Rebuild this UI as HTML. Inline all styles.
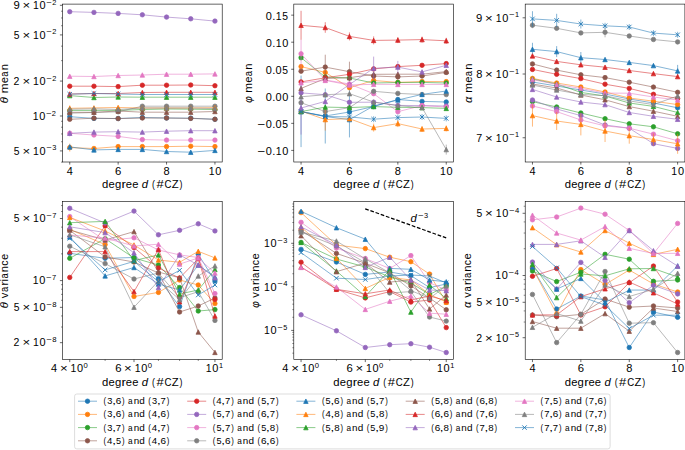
<!DOCTYPE html><html><head><meta charset="utf-8"><style>html,body{margin:0;padding:0;background:#fff;}svg{display:block;}</style></head><body><svg width="685" height="450" viewBox="0 0 685 450" font-family='"Liberation Sans", sans-serif'>
<rect width="685" height="450" fill="#fff"/>
<g>
<polyline points="69.76,116.70 93.96,118.40 118.15,118.50 142.35,117.50 166.55,118.00 190.74,118.20 214.94,119.30" fill="none" stroke="#1f77b4" stroke-width="1.0" stroke-opacity="0.55" stroke-linejoin="round"/>
<circle cx="69.76" cy="116.70" r="2.23" fill="#1f77b4" stroke="#1f77b4" stroke-width="0.74"/>
<circle cx="93.96" cy="118.40" r="2.23" fill="#1f77b4" stroke="#1f77b4" stroke-width="0.74"/>
<circle cx="118.15" cy="118.50" r="2.23" fill="#1f77b4" stroke="#1f77b4" stroke-width="0.74"/>
<circle cx="142.35" cy="117.50" r="2.23" fill="#1f77b4" stroke="#1f77b4" stroke-width="0.74"/>
<circle cx="166.55" cy="118.00" r="2.23" fill="#1f77b4" stroke="#1f77b4" stroke-width="0.74"/>
<circle cx="190.74" cy="118.20" r="2.23" fill="#1f77b4" stroke="#1f77b4" stroke-width="0.74"/>
<circle cx="214.94" cy="119.30" r="2.23" fill="#1f77b4" stroke="#1f77b4" stroke-width="0.74"/>
<polyline points="69.76,147.60 93.96,148.50 118.15,146.60 142.35,146.60 166.55,146.60 190.74,146.20 214.94,146.60" fill="none" stroke="#ff7f0e" stroke-width="1.0" stroke-opacity="0.55" stroke-linejoin="round"/>
<line x1="69.76" y1="143.60" x2="69.76" y2="151.60" stroke="#ff7f0e" stroke-width="1.0" stroke-opacity="0.55"/>
<circle cx="69.76" cy="147.60" r="2.23" fill="#ff7f0e" stroke="#ff7f0e" stroke-width="0.74"/>
<circle cx="93.96" cy="148.50" r="2.23" fill="#ff7f0e" stroke="#ff7f0e" stroke-width="0.74"/>
<circle cx="118.15" cy="146.60" r="2.23" fill="#ff7f0e" stroke="#ff7f0e" stroke-width="0.74"/>
<circle cx="142.35" cy="146.60" r="2.23" fill="#ff7f0e" stroke="#ff7f0e" stroke-width="0.74"/>
<circle cx="166.55" cy="146.60" r="2.23" fill="#ff7f0e" stroke="#ff7f0e" stroke-width="0.74"/>
<circle cx="190.74" cy="146.20" r="2.23" fill="#ff7f0e" stroke="#ff7f0e" stroke-width="0.74"/>
<circle cx="214.94" cy="146.60" r="2.23" fill="#ff7f0e" stroke="#ff7f0e" stroke-width="0.74"/>
<polyline points="69.76,110.40 93.96,110.40 118.15,110.40 142.35,109.50 166.55,109.00 190.74,109.20 214.94,109.50" fill="none" stroke="#2ca02c" stroke-width="1.0" stroke-opacity="0.55" stroke-linejoin="round"/>
<circle cx="69.76" cy="110.40" r="2.23" fill="#2ca02c" stroke="#2ca02c" stroke-width="0.74"/>
<circle cx="93.96" cy="110.40" r="2.23" fill="#2ca02c" stroke="#2ca02c" stroke-width="0.74"/>
<circle cx="118.15" cy="110.40" r="2.23" fill="#2ca02c" stroke="#2ca02c" stroke-width="0.74"/>
<circle cx="142.35" cy="109.50" r="2.23" fill="#2ca02c" stroke="#2ca02c" stroke-width="0.74"/>
<circle cx="166.55" cy="109.00" r="2.23" fill="#2ca02c" stroke="#2ca02c" stroke-width="0.74"/>
<circle cx="190.74" cy="109.20" r="2.23" fill="#2ca02c" stroke="#2ca02c" stroke-width="0.74"/>
<circle cx="214.94" cy="109.50" r="2.23" fill="#2ca02c" stroke="#2ca02c" stroke-width="0.74"/>
<polyline points="69.76,119.30 93.96,118.20 118.15,118.60 142.35,118.00 166.55,118.00 190.74,118.40 214.94,119.30" fill="none" stroke="#8c564b" stroke-width="1.0" stroke-opacity="0.55" stroke-linejoin="round"/>
<circle cx="69.76" cy="119.30" r="2.23" fill="#8c564b" stroke="#8c564b" stroke-width="0.74"/>
<circle cx="93.96" cy="118.20" r="2.23" fill="#8c564b" stroke="#8c564b" stroke-width="0.74"/>
<circle cx="118.15" cy="118.60" r="2.23" fill="#8c564b" stroke="#8c564b" stroke-width="0.74"/>
<circle cx="142.35" cy="118.00" r="2.23" fill="#8c564b" stroke="#8c564b" stroke-width="0.74"/>
<circle cx="166.55" cy="118.00" r="2.23" fill="#8c564b" stroke="#8c564b" stroke-width="0.74"/>
<circle cx="190.74" cy="118.40" r="2.23" fill="#8c564b" stroke="#8c564b" stroke-width="0.74"/>
<circle cx="214.94" cy="119.30" r="2.23" fill="#8c564b" stroke="#8c564b" stroke-width="0.74"/>
<polyline points="69.76,86.20 93.96,86.20 118.15,86.60 142.35,85.20 166.55,85.20 190.74,85.00 214.94,85.70" fill="none" stroke="#d62728" stroke-width="1.0" stroke-opacity="0.55" stroke-linejoin="round"/>
<circle cx="69.76" cy="86.20" r="2.23" fill="#d62728" stroke="#d62728" stroke-width="0.74"/>
<circle cx="93.96" cy="86.20" r="2.23" fill="#d62728" stroke="#d62728" stroke-width="0.74"/>
<circle cx="118.15" cy="86.60" r="2.23" fill="#d62728" stroke="#d62728" stroke-width="0.74"/>
<circle cx="142.35" cy="85.20" r="2.23" fill="#d62728" stroke="#d62728" stroke-width="0.74"/>
<circle cx="166.55" cy="85.20" r="2.23" fill="#d62728" stroke="#d62728" stroke-width="0.74"/>
<circle cx="190.74" cy="85.00" r="2.23" fill="#d62728" stroke="#d62728" stroke-width="0.74"/>
<circle cx="214.94" cy="85.70" r="2.23" fill="#d62728" stroke="#d62728" stroke-width="0.74"/>
<polyline points="69.76,11.70 93.96,12.40 118.15,13.40 142.35,14.80 166.55,17.10 190.74,18.80 214.94,21.10" fill="none" stroke="#9467bd" stroke-width="1.0" stroke-opacity="0.55" stroke-linejoin="round"/>
<circle cx="69.76" cy="11.70" r="2.23" fill="#9467bd" stroke="#9467bd" stroke-width="0.74"/>
<circle cx="93.96" cy="12.40" r="2.23" fill="#9467bd" stroke="#9467bd" stroke-width="0.74"/>
<circle cx="118.15" cy="13.40" r="2.23" fill="#9467bd" stroke="#9467bd" stroke-width="0.74"/>
<circle cx="142.35" cy="14.80" r="2.23" fill="#9467bd" stroke="#9467bd" stroke-width="0.74"/>
<circle cx="166.55" cy="17.10" r="2.23" fill="#9467bd" stroke="#9467bd" stroke-width="0.74"/>
<circle cx="190.74" cy="18.80" r="2.23" fill="#9467bd" stroke="#9467bd" stroke-width="0.74"/>
<circle cx="214.94" cy="21.10" r="2.23" fill="#9467bd" stroke="#9467bd" stroke-width="0.74"/>
<polyline points="69.76,133.30 93.96,135.00 118.15,136.40 142.35,139.60 166.55,140.10 190.74,140.10 214.94,140.10" fill="none" stroke="#e377c2" stroke-width="1.0" stroke-opacity="0.55" stroke-linejoin="round"/>
<circle cx="69.76" cy="133.30" r="2.23" fill="#e377c2" stroke="#e377c2" stroke-width="0.74"/>
<circle cx="93.96" cy="135.00" r="2.23" fill="#e377c2" stroke="#e377c2" stroke-width="0.74"/>
<circle cx="118.15" cy="136.40" r="2.23" fill="#e377c2" stroke="#e377c2" stroke-width="0.74"/>
<circle cx="142.35" cy="139.60" r="2.23" fill="#e377c2" stroke="#e377c2" stroke-width="0.74"/>
<circle cx="166.55" cy="140.10" r="2.23" fill="#e377c2" stroke="#e377c2" stroke-width="0.74"/>
<circle cx="190.74" cy="140.10" r="2.23" fill="#e377c2" stroke="#e377c2" stroke-width="0.74"/>
<circle cx="214.94" cy="140.10" r="2.23" fill="#e377c2" stroke="#e377c2" stroke-width="0.74"/>
<polyline points="69.76,113.20 93.96,112.50 118.15,111.80 142.35,106.20 166.55,106.20 190.74,106.20 214.94,106.20" fill="none" stroke="#7f7f7f" stroke-width="1.0" stroke-opacity="0.55" stroke-linejoin="round"/>
<circle cx="69.76" cy="113.20" r="2.23" fill="#7f7f7f" stroke="#7f7f7f" stroke-width="0.74"/>
<circle cx="93.96" cy="112.50" r="2.23" fill="#7f7f7f" stroke="#7f7f7f" stroke-width="0.74"/>
<circle cx="118.15" cy="111.80" r="2.23" fill="#7f7f7f" stroke="#7f7f7f" stroke-width="0.74"/>
<circle cx="142.35" cy="106.20" r="2.23" fill="#7f7f7f" stroke="#7f7f7f" stroke-width="0.74"/>
<circle cx="166.55" cy="106.20" r="2.23" fill="#7f7f7f" stroke="#7f7f7f" stroke-width="0.74"/>
<circle cx="190.74" cy="106.20" r="2.23" fill="#7f7f7f" stroke="#7f7f7f" stroke-width="0.74"/>
<circle cx="214.94" cy="106.20" r="2.23" fill="#7f7f7f" stroke="#7f7f7f" stroke-width="0.74"/>
<polyline points="69.76,146.90 93.96,149.90 118.15,149.40 142.35,149.40 166.55,151.50 190.74,152.20 214.94,150.40" fill="none" stroke="#1f77b4" stroke-width="1.0" stroke-opacity="0.55" stroke-linejoin="round"/>
<line x1="69.76" y1="144.90" x2="69.76" y2="148.90" stroke="#1f77b4" stroke-width="1.0" stroke-opacity="0.55"/>
<path d="M69.76 144.67L71.99 149.13L67.53 149.13Z" fill="#1f77b4" stroke="#1f77b4" stroke-width="0.74" stroke-linejoin="miter"/>
<path d="M93.96 147.67L96.19 152.13L91.73 152.13Z" fill="#1f77b4" stroke="#1f77b4" stroke-width="0.74" stroke-linejoin="miter"/>
<path d="M118.15 147.17L120.38 151.63L115.92 151.63Z" fill="#1f77b4" stroke="#1f77b4" stroke-width="0.74" stroke-linejoin="miter"/>
<path d="M142.35 147.17L144.58 151.63L140.12 151.63Z" fill="#1f77b4" stroke="#1f77b4" stroke-width="0.74" stroke-linejoin="miter"/>
<path d="M166.55 149.27L168.78 153.73L164.32 153.73Z" fill="#1f77b4" stroke="#1f77b4" stroke-width="0.74" stroke-linejoin="miter"/>
<path d="M190.74 149.97L192.97 154.43L188.51 154.43Z" fill="#1f77b4" stroke="#1f77b4" stroke-width="0.74" stroke-linejoin="miter"/>
<path d="M214.94 148.17L217.17 152.63L212.71 152.63Z" fill="#1f77b4" stroke="#1f77b4" stroke-width="0.74" stroke-linejoin="miter"/>
<polyline points="69.76,108.30 93.96,107.90 118.15,107.50 142.35,108.00 166.55,108.00 190.74,108.00 214.94,107.70" fill="none" stroke="#ff7f0e" stroke-width="1.0" stroke-opacity="0.55" stroke-linejoin="round"/>
<line x1="69.76" y1="105.30" x2="69.76" y2="110.30" stroke="#ff7f0e" stroke-width="1.0" stroke-opacity="0.55"/>
<path d="M69.76 106.07L71.99 110.53L67.53 110.53Z" fill="#ff7f0e" stroke="#ff7f0e" stroke-width="0.74" stroke-linejoin="miter"/>
<path d="M93.96 105.67L96.19 110.13L91.73 110.13Z" fill="#ff7f0e" stroke="#ff7f0e" stroke-width="0.74" stroke-linejoin="miter"/>
<path d="M118.15 105.27L120.38 109.73L115.92 109.73Z" fill="#ff7f0e" stroke="#ff7f0e" stroke-width="0.74" stroke-linejoin="miter"/>
<path d="M142.35 105.77L144.58 110.23L140.12 110.23Z" fill="#ff7f0e" stroke="#ff7f0e" stroke-width="0.74" stroke-linejoin="miter"/>
<path d="M166.55 105.77L168.78 110.23L164.32 110.23Z" fill="#ff7f0e" stroke="#ff7f0e" stroke-width="0.74" stroke-linejoin="miter"/>
<path d="M190.74 105.77L192.97 110.23L188.51 110.23Z" fill="#ff7f0e" stroke="#ff7f0e" stroke-width="0.74" stroke-linejoin="miter"/>
<path d="M214.94 105.47L217.17 109.93L212.71 109.93Z" fill="#ff7f0e" stroke="#ff7f0e" stroke-width="0.74" stroke-linejoin="miter"/>
<polyline points="69.76,95.60 93.96,97.50 118.15,97.00 142.35,97.20 166.55,97.20 190.74,97.20 214.94,97.20" fill="none" stroke="#2ca02c" stroke-width="1.0" stroke-opacity="0.55" stroke-linejoin="round"/>
<path d="M69.76 93.37L71.99 97.83L67.53 97.83Z" fill="#2ca02c" stroke="#2ca02c" stroke-width="0.74" stroke-linejoin="miter"/>
<path d="M93.96 95.27L96.19 99.73L91.73 99.73Z" fill="#2ca02c" stroke="#2ca02c" stroke-width="0.74" stroke-linejoin="miter"/>
<path d="M118.15 94.77L120.38 99.23L115.92 99.23Z" fill="#2ca02c" stroke="#2ca02c" stroke-width="0.74" stroke-linejoin="miter"/>
<path d="M142.35 94.97L144.58 99.43L140.12 99.43Z" fill="#2ca02c" stroke="#2ca02c" stroke-width="0.74" stroke-linejoin="miter"/>
<path d="M166.55 94.97L168.78 99.43L164.32 99.43Z" fill="#2ca02c" stroke="#2ca02c" stroke-width="0.74" stroke-linejoin="miter"/>
<path d="M190.74 94.97L192.97 99.43L188.51 99.43Z" fill="#2ca02c" stroke="#2ca02c" stroke-width="0.74" stroke-linejoin="miter"/>
<path d="M214.94 94.97L217.17 99.43L212.71 99.43Z" fill="#2ca02c" stroke="#2ca02c" stroke-width="0.74" stroke-linejoin="miter"/>
<polyline points="69.76,112.30 93.96,112.30 118.15,111.00 142.35,112.20 166.55,112.20 190.74,112.20 214.94,111.50" fill="none" stroke="#8c564b" stroke-width="1.0" stroke-opacity="0.55" stroke-linejoin="round"/>
<path d="M69.76 110.07L71.99 114.53L67.53 114.53Z" fill="#8c564b" stroke="#8c564b" stroke-width="0.74" stroke-linejoin="miter"/>
<path d="M93.96 110.07L96.19 114.53L91.73 114.53Z" fill="#8c564b" stroke="#8c564b" stroke-width="0.74" stroke-linejoin="miter"/>
<path d="M118.15 108.77L120.38 113.23L115.92 113.23Z" fill="#8c564b" stroke="#8c564b" stroke-width="0.74" stroke-linejoin="miter"/>
<path d="M142.35 109.97L144.58 114.43L140.12 114.43Z" fill="#8c564b" stroke="#8c564b" stroke-width="0.74" stroke-linejoin="miter"/>
<path d="M166.55 109.97L168.78 114.43L164.32 114.43Z" fill="#8c564b" stroke="#8c564b" stroke-width="0.74" stroke-linejoin="miter"/>
<path d="M190.74 109.97L192.97 114.43L188.51 114.43Z" fill="#8c564b" stroke="#8c564b" stroke-width="0.74" stroke-linejoin="miter"/>
<path d="M214.94 109.27L217.17 113.73L212.71 113.73Z" fill="#8c564b" stroke="#8c564b" stroke-width="0.74" stroke-linejoin="miter"/>
<polyline points="69.76,94.00 93.96,93.50 118.15,93.50 142.35,92.50 166.55,92.30 190.74,92.30 214.94,92.30" fill="none" stroke="#d62728" stroke-width="1.0" stroke-opacity="0.55" stroke-linejoin="round"/>
<path d="M69.76 91.77L71.99 96.23L67.53 96.23Z" fill="#d62728" stroke="#d62728" stroke-width="0.74" stroke-linejoin="miter"/>
<path d="M93.96 91.27L96.19 95.73L91.73 95.73Z" fill="#d62728" stroke="#d62728" stroke-width="0.74" stroke-linejoin="miter"/>
<path d="M118.15 91.27L120.38 95.73L115.92 95.73Z" fill="#d62728" stroke="#d62728" stroke-width="0.74" stroke-linejoin="miter"/>
<path d="M142.35 90.27L144.58 94.73L140.12 94.73Z" fill="#d62728" stroke="#d62728" stroke-width="0.74" stroke-linejoin="miter"/>
<path d="M166.55 90.07L168.78 94.53L164.32 94.53Z" fill="#d62728" stroke="#d62728" stroke-width="0.74" stroke-linejoin="miter"/>
<path d="M190.74 90.07L192.97 94.53L188.51 94.53Z" fill="#d62728" stroke="#d62728" stroke-width="0.74" stroke-linejoin="miter"/>
<path d="M214.94 90.07L217.17 94.53L212.71 94.53Z" fill="#d62728" stroke="#d62728" stroke-width="0.74" stroke-linejoin="miter"/>
<polyline points="69.76,133.30 93.96,132.10 118.15,131.70 142.35,132.10 166.55,131.20 190.74,130.70 214.94,130.70" fill="none" stroke="#9467bd" stroke-width="1.0" stroke-opacity="0.55" stroke-linejoin="round"/>
<line x1="69.76" y1="130.30" x2="69.76" y2="136.30" stroke="#9467bd" stroke-width="1.0" stroke-opacity="0.55"/>
<path d="M69.76 131.07L71.99 135.53L67.53 135.53Z" fill="#9467bd" stroke="#9467bd" stroke-width="0.74" stroke-linejoin="miter"/>
<path d="M93.96 129.87L96.19 134.33L91.73 134.33Z" fill="#9467bd" stroke="#9467bd" stroke-width="0.74" stroke-linejoin="miter"/>
<path d="M118.15 129.47L120.38 133.93L115.92 133.93Z" fill="#9467bd" stroke="#9467bd" stroke-width="0.74" stroke-linejoin="miter"/>
<path d="M142.35 129.87L144.58 134.33L140.12 134.33Z" fill="#9467bd" stroke="#9467bd" stroke-width="0.74" stroke-linejoin="miter"/>
<path d="M166.55 128.97L168.78 133.43L164.32 133.43Z" fill="#9467bd" stroke="#9467bd" stroke-width="0.74" stroke-linejoin="miter"/>
<path d="M190.74 128.47L192.97 132.93L188.51 132.93Z" fill="#9467bd" stroke="#9467bd" stroke-width="0.74" stroke-linejoin="miter"/>
<path d="M214.94 128.47L217.17 132.93L212.71 132.93Z" fill="#9467bd" stroke="#9467bd" stroke-width="0.74" stroke-linejoin="miter"/>
<polyline points="69.76,76.20 93.96,76.50 118.15,75.50 142.35,75.00 166.55,74.20 190.74,74.20 214.94,73.90" fill="none" stroke="#e377c2" stroke-width="1.0" stroke-opacity="0.55" stroke-linejoin="round"/>
<path d="M69.76 73.97L71.99 78.43L67.53 78.43Z" fill="#e377c2" stroke="#e377c2" stroke-width="0.74" stroke-linejoin="miter"/>
<path d="M93.96 74.27L96.19 78.73L91.73 78.73Z" fill="#e377c2" stroke="#e377c2" stroke-width="0.74" stroke-linejoin="miter"/>
<path d="M118.15 73.27L120.38 77.73L115.92 77.73Z" fill="#e377c2" stroke="#e377c2" stroke-width="0.74" stroke-linejoin="miter"/>
<path d="M142.35 72.77L144.58 77.23L140.12 77.23Z" fill="#e377c2" stroke="#e377c2" stroke-width="0.74" stroke-linejoin="miter"/>
<path d="M166.55 71.97L168.78 76.43L164.32 76.43Z" fill="#e377c2" stroke="#e377c2" stroke-width="0.74" stroke-linejoin="miter"/>
<path d="M190.74 71.97L192.97 76.43L188.51 76.43Z" fill="#e377c2" stroke="#e377c2" stroke-width="0.74" stroke-linejoin="miter"/>
<path d="M214.94 71.67L217.17 76.13L212.71 76.13Z" fill="#e377c2" stroke="#e377c2" stroke-width="0.74" stroke-linejoin="miter"/>
<polyline points="69.76,109.20 93.96,108.80 118.15,109.50 142.35,108.00 166.55,108.00 190.74,108.00 214.94,108.50" fill="none" stroke="#7f7f7f" stroke-width="1.0" stroke-opacity="0.55" stroke-linejoin="round"/>
<path d="M69.76 106.97L71.99 111.43L67.53 111.43Z" fill="#7f7f7f" stroke="#7f7f7f" stroke-width="0.74" stroke-linejoin="miter"/>
<path d="M93.96 106.57L96.19 111.03L91.73 111.03Z" fill="#7f7f7f" stroke="#7f7f7f" stroke-width="0.74" stroke-linejoin="miter"/>
<path d="M118.15 107.27L120.38 111.73L115.92 111.73Z" fill="#7f7f7f" stroke="#7f7f7f" stroke-width="0.74" stroke-linejoin="miter"/>
<path d="M142.35 105.77L144.58 110.23L140.12 110.23Z" fill="#7f7f7f" stroke="#7f7f7f" stroke-width="0.74" stroke-linejoin="miter"/>
<path d="M166.55 105.77L168.78 110.23L164.32 110.23Z" fill="#7f7f7f" stroke="#7f7f7f" stroke-width="0.74" stroke-linejoin="miter"/>
<path d="M190.74 105.77L192.97 110.23L188.51 110.23Z" fill="#7f7f7f" stroke="#7f7f7f" stroke-width="0.74" stroke-linejoin="miter"/>
<path d="M214.94 106.27L217.17 110.73L212.71 110.73Z" fill="#7f7f7f" stroke="#7f7f7f" stroke-width="0.74" stroke-linejoin="miter"/>
<polyline points="69.76,94.20 93.96,93.50 118.15,94.00 142.35,94.50 166.55,94.50 190.74,94.50 214.94,94.50" fill="none" stroke="#1f77b4" stroke-width="1.0" stroke-opacity="0.55" stroke-linejoin="round"/>
<path d="M67.53 91.97L71.99 96.43M67.53 96.43L71.99 91.97" stroke="#1f77b4" stroke-width="0.9" fill="none"/>
<path d="M91.73 91.27L96.19 95.73M91.73 95.73L96.19 91.27" stroke="#1f77b4" stroke-width="0.9" fill="none"/>
<path d="M115.92 91.77L120.38 96.23M115.92 96.23L120.38 91.77" stroke="#1f77b4" stroke-width="0.9" fill="none"/>
<path d="M140.12 92.27L144.58 96.73M140.12 96.73L144.58 92.27" stroke="#1f77b4" stroke-width="0.9" fill="none"/>
<path d="M164.32 92.27L168.78 96.73M164.32 96.73L168.78 92.27" stroke="#1f77b4" stroke-width="0.9" fill="none"/>
<path d="M188.51 92.27L192.97 96.73M188.51 96.73L192.97 92.27" stroke="#1f77b4" stroke-width="0.9" fill="none"/>
<path d="M212.71 92.27L217.17 96.73M212.71 96.73L217.17 92.27" stroke="#1f77b4" stroke-width="0.9" fill="none"/>
</g>
<g>
<polyline points="301.06,111.60 325.26,116.00 349.45,112.00 373.65,106.50 397.85,99.50 422.04,101.40 446.24,102.00" fill="none" stroke="#1f77b4" stroke-width="1.0" stroke-opacity="0.55" stroke-linejoin="round"/>
<line x1="301.06" y1="75.60" x2="301.06" y2="147.10" stroke="#1f77b4" stroke-width="1.0" stroke-opacity="0.55"/>
<line x1="325.26" y1="88.50" x2="325.26" y2="143.50" stroke="#1f77b4" stroke-width="1.0" stroke-opacity="0.55"/>
<line x1="349.45" y1="86.60" x2="349.45" y2="137.40" stroke="#1f77b4" stroke-width="1.0" stroke-opacity="0.55"/>
<circle cx="301.06" cy="111.60" r="2.23" fill="#1f77b4" stroke="#1f77b4" stroke-width="0.74"/>
<circle cx="325.26" cy="116.00" r="2.23" fill="#1f77b4" stroke="#1f77b4" stroke-width="0.74"/>
<circle cx="349.45" cy="112.00" r="2.23" fill="#1f77b4" stroke="#1f77b4" stroke-width="0.74"/>
<circle cx="373.65" cy="106.50" r="2.23" fill="#1f77b4" stroke="#1f77b4" stroke-width="0.74"/>
<circle cx="397.85" cy="99.50" r="2.23" fill="#1f77b4" stroke="#1f77b4" stroke-width="0.74"/>
<circle cx="422.04" cy="101.40" r="2.23" fill="#1f77b4" stroke="#1f77b4" stroke-width="0.74"/>
<circle cx="446.24" cy="102.00" r="2.23" fill="#1f77b4" stroke="#1f77b4" stroke-width="0.74"/>
<polyline points="301.06,66.60 325.26,72.40 349.45,87.70 373.65,80.50 397.85,82.40 422.04,81.50 446.24,81.60" fill="none" stroke="#ff7f0e" stroke-width="1.0" stroke-opacity="0.55" stroke-linejoin="round"/>
<circle cx="301.06" cy="66.60" r="2.23" fill="#ff7f0e" stroke="#ff7f0e" stroke-width="0.74"/>
<circle cx="325.26" cy="72.40" r="2.23" fill="#ff7f0e" stroke="#ff7f0e" stroke-width="0.74"/>
<circle cx="349.45" cy="87.70" r="2.23" fill="#ff7f0e" stroke="#ff7f0e" stroke-width="0.74"/>
<circle cx="373.65" cy="80.50" r="2.23" fill="#ff7f0e" stroke="#ff7f0e" stroke-width="0.74"/>
<circle cx="397.85" cy="82.40" r="2.23" fill="#ff7f0e" stroke="#ff7f0e" stroke-width="0.74"/>
<circle cx="422.04" cy="81.50" r="2.23" fill="#ff7f0e" stroke="#ff7f0e" stroke-width="0.74"/>
<circle cx="446.24" cy="81.60" r="2.23" fill="#ff7f0e" stroke="#ff7f0e" stroke-width="0.74"/>
<polyline points="301.06,57.70 325.26,77.00 349.45,78.00 373.65,83.00 397.85,82.50 422.04,82.40 446.24,83.00" fill="none" stroke="#2ca02c" stroke-width="1.0" stroke-opacity="0.55" stroke-linejoin="round"/>
<circle cx="301.06" cy="57.70" r="2.23" fill="#2ca02c" stroke="#2ca02c" stroke-width="0.74"/>
<circle cx="325.26" cy="77.00" r="2.23" fill="#2ca02c" stroke="#2ca02c" stroke-width="0.74"/>
<circle cx="349.45" cy="78.00" r="2.23" fill="#2ca02c" stroke="#2ca02c" stroke-width="0.74"/>
<circle cx="373.65" cy="83.00" r="2.23" fill="#2ca02c" stroke="#2ca02c" stroke-width="0.74"/>
<circle cx="397.85" cy="82.50" r="2.23" fill="#2ca02c" stroke="#2ca02c" stroke-width="0.74"/>
<circle cx="422.04" cy="82.40" r="2.23" fill="#2ca02c" stroke="#2ca02c" stroke-width="0.74"/>
<circle cx="446.24" cy="83.00" r="2.23" fill="#2ca02c" stroke="#2ca02c" stroke-width="0.74"/>
<polyline points="301.06,71.20 325.26,67.10 349.45,71.70 373.65,76.00 397.85,76.90 422.04,76.00 446.24,72.40" fill="none" stroke="#8c564b" stroke-width="1.0" stroke-opacity="0.55" stroke-linejoin="round"/>
<line x1="325.26" y1="54.70" x2="325.26" y2="79.50" stroke="#8c564b" stroke-width="1.0" stroke-opacity="0.55"/>
<line x1="349.45" y1="61.70" x2="349.45" y2="81.70" stroke="#8c564b" stroke-width="1.0" stroke-opacity="0.55"/>
<circle cx="301.06" cy="71.20" r="2.23" fill="#8c564b" stroke="#8c564b" stroke-width="0.74"/>
<circle cx="325.26" cy="67.10" r="2.23" fill="#8c564b" stroke="#8c564b" stroke-width="0.74"/>
<circle cx="349.45" cy="71.70" r="2.23" fill="#8c564b" stroke="#8c564b" stroke-width="0.74"/>
<circle cx="373.65" cy="76.00" r="2.23" fill="#8c564b" stroke="#8c564b" stroke-width="0.74"/>
<circle cx="397.85" cy="76.90" r="2.23" fill="#8c564b" stroke="#8c564b" stroke-width="0.74"/>
<circle cx="422.04" cy="76.00" r="2.23" fill="#8c564b" stroke="#8c564b" stroke-width="0.74"/>
<circle cx="446.24" cy="72.40" r="2.23" fill="#8c564b" stroke="#8c564b" stroke-width="0.74"/>
<polyline points="301.06,81.90 325.26,77.80 349.45,74.30 373.65,68.90 397.85,66.60 422.04,65.30 446.24,63.60" fill="none" stroke="#d62728" stroke-width="1.0" stroke-opacity="0.55" stroke-linejoin="round"/>
<circle cx="301.06" cy="81.90" r="2.23" fill="#d62728" stroke="#d62728" stroke-width="0.74"/>
<circle cx="325.26" cy="77.80" r="2.23" fill="#d62728" stroke="#d62728" stroke-width="0.74"/>
<circle cx="349.45" cy="74.30" r="2.23" fill="#d62728" stroke="#d62728" stroke-width="0.74"/>
<circle cx="373.65" cy="68.90" r="2.23" fill="#d62728" stroke="#d62728" stroke-width="0.74"/>
<circle cx="397.85" cy="66.60" r="2.23" fill="#d62728" stroke="#d62728" stroke-width="0.74"/>
<circle cx="422.04" cy="65.30" r="2.23" fill="#d62728" stroke="#d62728" stroke-width="0.74"/>
<circle cx="446.24" cy="63.60" r="2.23" fill="#d62728" stroke="#d62728" stroke-width="0.74"/>
<polyline points="301.06,92.90 325.26,94.70 349.45,102.30 373.65,102.20 397.85,105.40 422.04,105.60 446.24,106.00" fill="none" stroke="#9467bd" stroke-width="1.0" stroke-opacity="0.55" stroke-linejoin="round"/>
<circle cx="301.06" cy="92.90" r="2.23" fill="#9467bd" stroke="#9467bd" stroke-width="0.74"/>
<circle cx="325.26" cy="94.70" r="2.23" fill="#9467bd" stroke="#9467bd" stroke-width="0.74"/>
<circle cx="349.45" cy="102.30" r="2.23" fill="#9467bd" stroke="#9467bd" stroke-width="0.74"/>
<circle cx="373.65" cy="102.20" r="2.23" fill="#9467bd" stroke="#9467bd" stroke-width="0.74"/>
<circle cx="397.85" cy="105.40" r="2.23" fill="#9467bd" stroke="#9467bd" stroke-width="0.74"/>
<circle cx="422.04" cy="105.60" r="2.23" fill="#9467bd" stroke="#9467bd" stroke-width="0.74"/>
<circle cx="446.24" cy="106.00" r="2.23" fill="#9467bd" stroke="#9467bd" stroke-width="0.74"/>
<polyline points="301.06,53.80 325.26,80.00 349.45,84.00 373.65,93.70 397.85,111.70 422.04,105.60 446.24,107.00" fill="none" stroke="#e377c2" stroke-width="1.0" stroke-opacity="0.55" stroke-linejoin="round"/>
<line x1="301.06" y1="39.80" x2="301.06" y2="67.80" stroke="#e377c2" stroke-width="1.0" stroke-opacity="0.55"/>
<circle cx="301.06" cy="53.80" r="2.23" fill="#e377c2" stroke="#e377c2" stroke-width="0.74"/>
<circle cx="325.26" cy="80.00" r="2.23" fill="#e377c2" stroke="#e377c2" stroke-width="0.74"/>
<circle cx="349.45" cy="84.00" r="2.23" fill="#e377c2" stroke="#e377c2" stroke-width="0.74"/>
<circle cx="373.65" cy="93.70" r="2.23" fill="#e377c2" stroke="#e377c2" stroke-width="0.74"/>
<circle cx="397.85" cy="111.70" r="2.23" fill="#e377c2" stroke="#e377c2" stroke-width="0.74"/>
<circle cx="422.04" cy="105.60" r="2.23" fill="#e377c2" stroke="#e377c2" stroke-width="0.74"/>
<circle cx="446.24" cy="107.00" r="2.23" fill="#e377c2" stroke="#e377c2" stroke-width="0.74"/>
<polyline points="301.06,102.70 325.26,111.60 349.45,107.70 373.65,91.30 397.85,93.40 422.04,94.50 446.24,94.60" fill="none" stroke="#7f7f7f" stroke-width="1.0" stroke-opacity="0.55" stroke-linejoin="round"/>
<circle cx="301.06" cy="102.70" r="2.23" fill="#7f7f7f" stroke="#7f7f7f" stroke-width="0.74"/>
<circle cx="325.26" cy="111.60" r="2.23" fill="#7f7f7f" stroke="#7f7f7f" stroke-width="0.74"/>
<circle cx="349.45" cy="107.70" r="2.23" fill="#7f7f7f" stroke="#7f7f7f" stroke-width="0.74"/>
<circle cx="373.65" cy="91.30" r="2.23" fill="#7f7f7f" stroke="#7f7f7f" stroke-width="0.74"/>
<circle cx="397.85" cy="93.40" r="2.23" fill="#7f7f7f" stroke="#7f7f7f" stroke-width="0.74"/>
<circle cx="422.04" cy="94.50" r="2.23" fill="#7f7f7f" stroke="#7f7f7f" stroke-width="0.74"/>
<circle cx="446.24" cy="94.60" r="2.23" fill="#7f7f7f" stroke="#7f7f7f" stroke-width="0.74"/>
<polyline points="301.06,111.60 325.26,116.50 349.45,119.60 373.65,106.00 397.85,100.00 422.04,94.40 446.24,91.00" fill="none" stroke="#1f77b4" stroke-width="1.0" stroke-opacity="0.55" stroke-linejoin="round"/>
<path d="M301.06 109.37L303.29 113.83L298.83 113.83Z" fill="#1f77b4" stroke="#1f77b4" stroke-width="0.74" stroke-linejoin="miter"/>
<path d="M325.26 114.27L327.49 118.73L323.03 118.73Z" fill="#1f77b4" stroke="#1f77b4" stroke-width="0.74" stroke-linejoin="miter"/>
<path d="M349.45 117.37L351.68 121.83L347.22 121.83Z" fill="#1f77b4" stroke="#1f77b4" stroke-width="0.74" stroke-linejoin="miter"/>
<path d="M373.65 103.77L375.88 108.23L371.42 108.23Z" fill="#1f77b4" stroke="#1f77b4" stroke-width="0.74" stroke-linejoin="miter"/>
<path d="M397.85 97.77L400.08 102.23L395.62 102.23Z" fill="#1f77b4" stroke="#1f77b4" stroke-width="0.74" stroke-linejoin="miter"/>
<path d="M422.04 92.17L424.27 96.63L419.81 96.63Z" fill="#1f77b4" stroke="#1f77b4" stroke-width="0.74" stroke-linejoin="miter"/>
<path d="M446.24 88.77L448.47 93.23L444.01 93.23Z" fill="#1f77b4" stroke="#1f77b4" stroke-width="0.74" stroke-linejoin="miter"/>
<polyline points="301.06,111.00 325.26,119.60 349.45,118.70 373.65,127.60 397.85,123.60 422.04,129.00 446.24,128.40" fill="none" stroke="#ff7f0e" stroke-width="1.0" stroke-opacity="0.55" stroke-linejoin="round"/>
<line x1="325.26" y1="108.60" x2="325.26" y2="130.60" stroke="#ff7f0e" stroke-width="1.0" stroke-opacity="0.55"/>
<line x1="373.65" y1="123.60" x2="373.65" y2="131.60" stroke="#ff7f0e" stroke-width="1.0" stroke-opacity="0.55"/>
<line x1="397.85" y1="120.10" x2="397.85" y2="127.10" stroke="#ff7f0e" stroke-width="1.0" stroke-opacity="0.55"/>
<line x1="422.04" y1="126.00" x2="422.04" y2="132.00" stroke="#ff7f0e" stroke-width="1.0" stroke-opacity="0.55"/>
<line x1="446.24" y1="125.40" x2="446.24" y2="131.40" stroke="#ff7f0e" stroke-width="1.0" stroke-opacity="0.55"/>
<path d="M301.06 108.77L303.29 113.23L298.83 113.23Z" fill="#ff7f0e" stroke="#ff7f0e" stroke-width="0.74" stroke-linejoin="miter"/>
<path d="M325.26 117.37L327.49 121.83L323.03 121.83Z" fill="#ff7f0e" stroke="#ff7f0e" stroke-width="0.74" stroke-linejoin="miter"/>
<path d="M349.45 116.47L351.68 120.93L347.22 120.93Z" fill="#ff7f0e" stroke="#ff7f0e" stroke-width="0.74" stroke-linejoin="miter"/>
<path d="M373.65 125.37L375.88 129.83L371.42 129.83Z" fill="#ff7f0e" stroke="#ff7f0e" stroke-width="0.74" stroke-linejoin="miter"/>
<path d="M397.85 121.37L400.08 125.83L395.62 125.83Z" fill="#ff7f0e" stroke="#ff7f0e" stroke-width="0.74" stroke-linejoin="miter"/>
<path d="M422.04 126.77L424.27 131.23L419.81 131.23Z" fill="#ff7f0e" stroke="#ff7f0e" stroke-width="0.74" stroke-linejoin="miter"/>
<path d="M446.24 126.17L448.47 130.63L444.01 130.63Z" fill="#ff7f0e" stroke="#ff7f0e" stroke-width="0.74" stroke-linejoin="miter"/>
<polyline points="301.06,111.60 325.26,107.10 349.45,107.60 373.65,106.60 397.85,107.30 422.04,107.60 446.24,108.40" fill="none" stroke="#2ca02c" stroke-width="1.0" stroke-opacity="0.55" stroke-linejoin="round"/>
<path d="M301.06 109.37L303.29 113.83L298.83 113.83Z" fill="#2ca02c" stroke="#2ca02c" stroke-width="0.74" stroke-linejoin="miter"/>
<path d="M325.26 104.87L327.49 109.33L323.03 109.33Z" fill="#2ca02c" stroke="#2ca02c" stroke-width="0.74" stroke-linejoin="miter"/>
<path d="M349.45 105.37L351.68 109.83L347.22 109.83Z" fill="#2ca02c" stroke="#2ca02c" stroke-width="0.74" stroke-linejoin="miter"/>
<path d="M373.65 104.37L375.88 108.83L371.42 108.83Z" fill="#2ca02c" stroke="#2ca02c" stroke-width="0.74" stroke-linejoin="miter"/>
<path d="M397.85 105.07L400.08 109.53L395.62 109.53Z" fill="#2ca02c" stroke="#2ca02c" stroke-width="0.74" stroke-linejoin="miter"/>
<path d="M422.04 105.37L424.27 109.83L419.81 109.83Z" fill="#2ca02c" stroke="#2ca02c" stroke-width="0.74" stroke-linejoin="miter"/>
<path d="M446.24 106.17L448.47 110.63L444.01 110.63Z" fill="#2ca02c" stroke="#2ca02c" stroke-width="0.74" stroke-linejoin="miter"/>
<polyline points="301.06,88.40 325.26,78.50 349.45,77.70 373.65,74.30 397.85,74.20 422.04,74.20 446.24,71.60" fill="none" stroke="#8c564b" stroke-width="1.0" stroke-opacity="0.55" stroke-linejoin="round"/>
<path d="M301.06 86.17L303.29 90.63L298.83 90.63Z" fill="#8c564b" stroke="#8c564b" stroke-width="0.74" stroke-linejoin="miter"/>
<path d="M325.26 76.27L327.49 80.73L323.03 80.73Z" fill="#8c564b" stroke="#8c564b" stroke-width="0.74" stroke-linejoin="miter"/>
<path d="M349.45 75.47L351.68 79.93L347.22 79.93Z" fill="#8c564b" stroke="#8c564b" stroke-width="0.74" stroke-linejoin="miter"/>
<path d="M373.65 72.07L375.88 76.53L371.42 76.53Z" fill="#8c564b" stroke="#8c564b" stroke-width="0.74" stroke-linejoin="miter"/>
<path d="M397.85 71.97L400.08 76.43L395.62 76.43Z" fill="#8c564b" stroke="#8c564b" stroke-width="0.74" stroke-linejoin="miter"/>
<path d="M422.04 71.97L424.27 76.43L419.81 76.43Z" fill="#8c564b" stroke="#8c564b" stroke-width="0.74" stroke-linejoin="miter"/>
<path d="M446.24 69.37L448.47 73.83L444.01 73.83Z" fill="#8c564b" stroke="#8c564b" stroke-width="0.74" stroke-linejoin="miter"/>
<polyline points="301.06,25.30 325.26,27.50 349.45,36.40 373.65,40.40 397.85,40.10 422.04,39.60 446.24,40.80" fill="none" stroke="#d62728" stroke-width="1.0" stroke-opacity="0.55" stroke-linejoin="round"/>
<line x1="301.06" y1="10.80" x2="301.06" y2="39.80" stroke="#d62728" stroke-width="1.0" stroke-opacity="0.55"/>
<line x1="325.26" y1="22.20" x2="325.26" y2="32.80" stroke="#d62728" stroke-width="1.0" stroke-opacity="0.55"/>
<line x1="349.45" y1="32.40" x2="349.45" y2="40.40" stroke="#d62728" stroke-width="1.0" stroke-opacity="0.55"/>
<line x1="373.65" y1="36.40" x2="373.65" y2="44.40" stroke="#d62728" stroke-width="1.0" stroke-opacity="0.55"/>
<line x1="397.85" y1="37.10" x2="397.85" y2="43.10" stroke="#d62728" stroke-width="1.0" stroke-opacity="0.55"/>
<line x1="422.04" y1="36.60" x2="422.04" y2="42.60" stroke="#d62728" stroke-width="1.0" stroke-opacity="0.55"/>
<line x1="446.24" y1="37.80" x2="446.24" y2="43.80" stroke="#d62728" stroke-width="1.0" stroke-opacity="0.55"/>
<path d="M301.06 23.07L303.29 27.53L298.83 27.53Z" fill="#d62728" stroke="#d62728" stroke-width="0.74" stroke-linejoin="miter"/>
<path d="M325.26 25.27L327.49 29.73L323.03 29.73Z" fill="#d62728" stroke="#d62728" stroke-width="0.74" stroke-linejoin="miter"/>
<path d="M349.45 34.17L351.68 38.63L347.22 38.63Z" fill="#d62728" stroke="#d62728" stroke-width="0.74" stroke-linejoin="miter"/>
<path d="M373.65 38.17L375.88 42.63L371.42 42.63Z" fill="#d62728" stroke="#d62728" stroke-width="0.74" stroke-linejoin="miter"/>
<path d="M397.85 37.87L400.08 42.33L395.62 42.33Z" fill="#d62728" stroke="#d62728" stroke-width="0.74" stroke-linejoin="miter"/>
<path d="M422.04 37.37L424.27 41.83L419.81 41.83Z" fill="#d62728" stroke="#d62728" stroke-width="0.74" stroke-linejoin="miter"/>
<path d="M446.24 38.57L448.47 43.03L444.01 43.03Z" fill="#d62728" stroke="#d62728" stroke-width="0.74" stroke-linejoin="miter"/>
<polyline points="301.06,108.00 325.26,101.40 349.45,84.50 373.65,68.30 397.85,67.10 422.04,71.90 446.24,65.30" fill="none" stroke="#9467bd" stroke-width="1.0" stroke-opacity="0.55" stroke-linejoin="round"/>
<line x1="301.06" y1="82.00" x2="301.06" y2="134.60" stroke="#9467bd" stroke-width="1.0" stroke-opacity="0.55"/>
<line x1="373.65" y1="56.60" x2="373.65" y2="80.00" stroke="#9467bd" stroke-width="1.0" stroke-opacity="0.55"/>
<line x1="397.85" y1="60.90" x2="397.85" y2="73.30" stroke="#9467bd" stroke-width="1.0" stroke-opacity="0.55"/>
<path d="M301.06 105.77L303.29 110.23L298.83 110.23Z" fill="#9467bd" stroke="#9467bd" stroke-width="0.74" stroke-linejoin="miter"/>
<path d="M325.26 99.17L327.49 103.63L323.03 103.63Z" fill="#9467bd" stroke="#9467bd" stroke-width="0.74" stroke-linejoin="miter"/>
<path d="M349.45 82.27L351.68 86.73L347.22 86.73Z" fill="#9467bd" stroke="#9467bd" stroke-width="0.74" stroke-linejoin="miter"/>
<path d="M373.65 66.07L375.88 70.53L371.42 70.53Z" fill="#9467bd" stroke="#9467bd" stroke-width="0.74" stroke-linejoin="miter"/>
<path d="M397.85 64.87L400.08 69.33L395.62 69.33Z" fill="#9467bd" stroke="#9467bd" stroke-width="0.74" stroke-linejoin="miter"/>
<path d="M422.04 69.67L424.27 74.13L419.81 74.13Z" fill="#9467bd" stroke="#9467bd" stroke-width="0.74" stroke-linejoin="miter"/>
<path d="M446.24 63.07L448.47 67.53L444.01 67.53Z" fill="#9467bd" stroke="#9467bd" stroke-width="0.74" stroke-linejoin="miter"/>
<polyline points="301.06,82.80 325.26,80.40 349.45,85.00 373.65,84.30 397.85,84.40 422.04,84.40 446.24,84.40" fill="none" stroke="#e377c2" stroke-width="1.0" stroke-opacity="0.55" stroke-linejoin="round"/>
<path d="M301.06 80.57L303.29 85.03L298.83 85.03Z" fill="#e377c2" stroke="#e377c2" stroke-width="0.74" stroke-linejoin="miter"/>
<path d="M325.26 78.17L327.49 82.63L323.03 82.63Z" fill="#e377c2" stroke="#e377c2" stroke-width="0.74" stroke-linejoin="miter"/>
<path d="M349.45 82.77L351.68 87.23L347.22 87.23Z" fill="#e377c2" stroke="#e377c2" stroke-width="0.74" stroke-linejoin="miter"/>
<path d="M373.65 82.07L375.88 86.53L371.42 86.53Z" fill="#e377c2" stroke="#e377c2" stroke-width="0.74" stroke-linejoin="miter"/>
<path d="M397.85 82.17L400.08 86.63L395.62 86.63Z" fill="#e377c2" stroke="#e377c2" stroke-width="0.74" stroke-linejoin="miter"/>
<path d="M422.04 82.17L424.27 86.63L419.81 86.63Z" fill="#e377c2" stroke="#e377c2" stroke-width="0.74" stroke-linejoin="miter"/>
<path d="M446.24 82.17L448.47 86.63L444.01 86.63Z" fill="#e377c2" stroke="#e377c2" stroke-width="0.74" stroke-linejoin="miter"/>
<polyline points="301.06,96.80 325.26,94.70 349.45,93.70 373.65,102.00 397.85,105.60 422.04,107.60 446.24,149.60" fill="none" stroke="#7f7f7f" stroke-width="1.0" stroke-opacity="0.55" stroke-linejoin="round"/>
<line x1="446.24" y1="144.60" x2="446.24" y2="154.60" stroke="#7f7f7f" stroke-width="1.0" stroke-opacity="0.55"/>
<path d="M301.06 94.57L303.29 99.03L298.83 99.03Z" fill="#7f7f7f" stroke="#7f7f7f" stroke-width="0.74" stroke-linejoin="miter"/>
<path d="M325.26 92.47L327.49 96.93L323.03 96.93Z" fill="#7f7f7f" stroke="#7f7f7f" stroke-width="0.74" stroke-linejoin="miter"/>
<path d="M349.45 91.47L351.68 95.93L347.22 95.93Z" fill="#7f7f7f" stroke="#7f7f7f" stroke-width="0.74" stroke-linejoin="miter"/>
<path d="M373.65 99.77L375.88 104.23L371.42 104.23Z" fill="#7f7f7f" stroke="#7f7f7f" stroke-width="0.74" stroke-linejoin="miter"/>
<path d="M397.85 103.37L400.08 107.83L395.62 107.83Z" fill="#7f7f7f" stroke="#7f7f7f" stroke-width="0.74" stroke-linejoin="miter"/>
<path d="M422.04 105.37L424.27 109.83L419.81 109.83Z" fill="#7f7f7f" stroke="#7f7f7f" stroke-width="0.74" stroke-linejoin="miter"/>
<path d="M446.24 147.37L448.47 151.83L444.01 151.83Z" fill="#7f7f7f" stroke="#7f7f7f" stroke-width="0.74" stroke-linejoin="miter"/>
<polyline points="301.06,111.60 325.26,116.50 349.45,116.90 373.65,119.20 397.85,117.60 422.04,117.00 446.24,118.40" fill="none" stroke="#1f77b4" stroke-width="1.0" stroke-opacity="0.55" stroke-linejoin="round"/>
<line x1="373.65" y1="116.20" x2="373.65" y2="122.20" stroke="#1f77b4" stroke-width="1.0" stroke-opacity="0.55"/>
<line x1="397.85" y1="114.60" x2="397.85" y2="120.60" stroke="#1f77b4" stroke-width="1.0" stroke-opacity="0.55"/>
<line x1="422.04" y1="114.00" x2="422.04" y2="120.00" stroke="#1f77b4" stroke-width="1.0" stroke-opacity="0.55"/>
<line x1="446.24" y1="115.40" x2="446.24" y2="121.40" stroke="#1f77b4" stroke-width="1.0" stroke-opacity="0.55"/>
<path d="M298.83 109.37L303.29 113.83M298.83 113.83L303.29 109.37" stroke="#1f77b4" stroke-width="0.9" fill="none"/>
<path d="M323.03 114.27L327.49 118.73M323.03 118.73L327.49 114.27" stroke="#1f77b4" stroke-width="0.9" fill="none"/>
<path d="M347.22 114.67L351.68 119.13M347.22 119.13L351.68 114.67" stroke="#1f77b4" stroke-width="0.9" fill="none"/>
<path d="M371.42 116.97L375.88 121.43M371.42 121.43L375.88 116.97" stroke="#1f77b4" stroke-width="0.9" fill="none"/>
<path d="M395.62 115.37L400.08 119.83M395.62 119.83L400.08 115.37" stroke="#1f77b4" stroke-width="0.9" fill="none"/>
<path d="M419.81 114.77L424.27 119.23M419.81 119.23L424.27 114.77" stroke="#1f77b4" stroke-width="0.9" fill="none"/>
<path d="M444.01 116.17L448.47 120.63M444.01 120.63L448.47 116.17" stroke="#1f77b4" stroke-width="0.9" fill="none"/>
</g>
<g>
<polyline points="532.46,82.00 556.66,86.00 580.85,90.00 605.05,94.00 629.25,99.00 653.44,103.00 677.64,107.80" fill="none" stroke="#1f77b4" stroke-width="1.0" stroke-opacity="0.55" stroke-linejoin="round"/>
<circle cx="532.46" cy="82.00" r="2.23" fill="#1f77b4" stroke="#1f77b4" stroke-width="0.74"/>
<circle cx="556.66" cy="86.00" r="2.23" fill="#1f77b4" stroke="#1f77b4" stroke-width="0.74"/>
<circle cx="580.85" cy="90.00" r="2.23" fill="#1f77b4" stroke="#1f77b4" stroke-width="0.74"/>
<circle cx="605.05" cy="94.00" r="2.23" fill="#1f77b4" stroke="#1f77b4" stroke-width="0.74"/>
<circle cx="629.25" cy="99.00" r="2.23" fill="#1f77b4" stroke="#1f77b4" stroke-width="0.74"/>
<circle cx="653.44" cy="103.00" r="2.23" fill="#1f77b4" stroke="#1f77b4" stroke-width="0.74"/>
<circle cx="677.64" cy="107.80" r="2.23" fill="#1f77b4" stroke="#1f77b4" stroke-width="0.74"/>
<polyline points="532.46,78.40 556.66,83.00 580.85,87.00 605.05,92.00 629.25,98.00 653.44,101.20 677.64,104.60" fill="none" stroke="#ff7f0e" stroke-width="1.0" stroke-opacity="0.55" stroke-linejoin="round"/>
<circle cx="532.46" cy="78.40" r="2.23" fill="#ff7f0e" stroke="#ff7f0e" stroke-width="0.74"/>
<circle cx="556.66" cy="83.00" r="2.23" fill="#ff7f0e" stroke="#ff7f0e" stroke-width="0.74"/>
<circle cx="580.85" cy="87.00" r="2.23" fill="#ff7f0e" stroke="#ff7f0e" stroke-width="0.74"/>
<circle cx="605.05" cy="92.00" r="2.23" fill="#ff7f0e" stroke="#ff7f0e" stroke-width="0.74"/>
<circle cx="629.25" cy="98.00" r="2.23" fill="#ff7f0e" stroke="#ff7f0e" stroke-width="0.74"/>
<circle cx="653.44" cy="101.20" r="2.23" fill="#ff7f0e" stroke="#ff7f0e" stroke-width="0.74"/>
<circle cx="677.64" cy="104.60" r="2.23" fill="#ff7f0e" stroke="#ff7f0e" stroke-width="0.74"/>
<polyline points="532.46,101.60 556.66,107.00 580.85,113.00 605.05,118.70 629.25,123.80 653.44,126.80 677.64,133.80" fill="none" stroke="#2ca02c" stroke-width="1.0" stroke-opacity="0.55" stroke-linejoin="round"/>
<circle cx="532.46" cy="101.60" r="2.23" fill="#2ca02c" stroke="#2ca02c" stroke-width="0.74"/>
<circle cx="556.66" cy="107.00" r="2.23" fill="#2ca02c" stroke="#2ca02c" stroke-width="0.74"/>
<circle cx="580.85" cy="113.00" r="2.23" fill="#2ca02c" stroke="#2ca02c" stroke-width="0.74"/>
<circle cx="605.05" cy="118.70" r="2.23" fill="#2ca02c" stroke="#2ca02c" stroke-width="0.74"/>
<circle cx="629.25" cy="123.80" r="2.23" fill="#2ca02c" stroke="#2ca02c" stroke-width="0.74"/>
<circle cx="653.44" cy="126.80" r="2.23" fill="#2ca02c" stroke="#2ca02c" stroke-width="0.74"/>
<circle cx="677.64" cy="133.80" r="2.23" fill="#2ca02c" stroke="#2ca02c" stroke-width="0.74"/>
<polyline points="532.46,63.90 556.66,70.10 580.85,74.80 605.05,77.60 629.25,82.20 653.44,87.10 677.64,92.30" fill="none" stroke="#8c564b" stroke-width="1.0" stroke-opacity="0.55" stroke-linejoin="round"/>
<circle cx="532.46" cy="63.90" r="2.23" fill="#8c564b" stroke="#8c564b" stroke-width="0.74"/>
<circle cx="556.66" cy="70.10" r="2.23" fill="#8c564b" stroke="#8c564b" stroke-width="0.74"/>
<circle cx="580.85" cy="74.80" r="2.23" fill="#8c564b" stroke="#8c564b" stroke-width="0.74"/>
<circle cx="605.05" cy="77.60" r="2.23" fill="#8c564b" stroke="#8c564b" stroke-width="0.74"/>
<circle cx="629.25" cy="82.20" r="2.23" fill="#8c564b" stroke="#8c564b" stroke-width="0.74"/>
<circle cx="653.44" cy="87.10" r="2.23" fill="#8c564b" stroke="#8c564b" stroke-width="0.74"/>
<circle cx="677.64" cy="92.30" r="2.23" fill="#8c564b" stroke="#8c564b" stroke-width="0.74"/>
<polyline points="532.46,69.40 556.66,74.30 580.85,78.60 605.05,84.20 629.25,88.40 653.44,94.30 677.64,98.50" fill="none" stroke="#d62728" stroke-width="1.0" stroke-opacity="0.55" stroke-linejoin="round"/>
<circle cx="532.46" cy="69.40" r="2.23" fill="#d62728" stroke="#d62728" stroke-width="0.74"/>
<circle cx="556.66" cy="74.30" r="2.23" fill="#d62728" stroke="#d62728" stroke-width="0.74"/>
<circle cx="580.85" cy="78.60" r="2.23" fill="#d62728" stroke="#d62728" stroke-width="0.74"/>
<circle cx="605.05" cy="84.20" r="2.23" fill="#d62728" stroke="#d62728" stroke-width="0.74"/>
<circle cx="629.25" cy="88.40" r="2.23" fill="#d62728" stroke="#d62728" stroke-width="0.74"/>
<circle cx="653.44" cy="94.30" r="2.23" fill="#d62728" stroke="#d62728" stroke-width="0.74"/>
<circle cx="677.64" cy="98.50" r="2.23" fill="#d62728" stroke="#d62728" stroke-width="0.74"/>
<polyline points="532.46,100.00 556.66,109.00 580.85,115.60 605.05,125.00 629.25,128.20 653.44,143.70 677.64,148.40" fill="none" stroke="#9467bd" stroke-width="1.0" stroke-opacity="0.55" stroke-linejoin="round"/>
<circle cx="532.46" cy="100.00" r="2.23" fill="#9467bd" stroke="#9467bd" stroke-width="0.74"/>
<circle cx="556.66" cy="109.00" r="2.23" fill="#9467bd" stroke="#9467bd" stroke-width="0.74"/>
<circle cx="580.85" cy="115.60" r="2.23" fill="#9467bd" stroke="#9467bd" stroke-width="0.74"/>
<circle cx="605.05" cy="125.00" r="2.23" fill="#9467bd" stroke="#9467bd" stroke-width="0.74"/>
<circle cx="629.25" cy="128.20" r="2.23" fill="#9467bd" stroke="#9467bd" stroke-width="0.74"/>
<circle cx="653.44" cy="143.70" r="2.23" fill="#9467bd" stroke="#9467bd" stroke-width="0.74"/>
<circle cx="677.64" cy="148.40" r="2.23" fill="#9467bd" stroke="#9467bd" stroke-width="0.74"/>
<polyline points="532.46,106.00 556.66,111.60 580.85,120.00 605.05,125.90 629.25,128.20 653.44,134.20 677.64,140.80" fill="none" stroke="#e377c2" stroke-width="1.0" stroke-opacity="0.55" stroke-linejoin="round"/>
<circle cx="532.46" cy="106.00" r="2.23" fill="#e377c2" stroke="#e377c2" stroke-width="0.74"/>
<circle cx="556.66" cy="111.60" r="2.23" fill="#e377c2" stroke="#e377c2" stroke-width="0.74"/>
<circle cx="580.85" cy="120.00" r="2.23" fill="#e377c2" stroke="#e377c2" stroke-width="0.74"/>
<circle cx="605.05" cy="125.90" r="2.23" fill="#e377c2" stroke="#e377c2" stroke-width="0.74"/>
<circle cx="629.25" cy="128.20" r="2.23" fill="#e377c2" stroke="#e377c2" stroke-width="0.74"/>
<circle cx="653.44" cy="134.20" r="2.23" fill="#e377c2" stroke="#e377c2" stroke-width="0.74"/>
<circle cx="677.64" cy="140.80" r="2.23" fill="#e377c2" stroke="#e377c2" stroke-width="0.74"/>
<polyline points="532.46,25.20 556.66,28.30 580.85,32.90 605.05,32.30 629.25,36.00 653.44,39.50 677.64,41.90" fill="none" stroke="#7f7f7f" stroke-width="1.0" stroke-opacity="0.55" stroke-linejoin="round"/>
<line x1="532.46" y1="22.20" x2="532.46" y2="28.20" stroke="#7f7f7f" stroke-width="1.0" stroke-opacity="0.55"/>
<line x1="605.05" y1="27.30" x2="605.05" y2="37.30" stroke="#7f7f7f" stroke-width="1.0" stroke-opacity="0.55"/>
<circle cx="532.46" cy="25.20" r="2.23" fill="#7f7f7f" stroke="#7f7f7f" stroke-width="0.74"/>
<circle cx="556.66" cy="28.30" r="2.23" fill="#7f7f7f" stroke="#7f7f7f" stroke-width="0.74"/>
<circle cx="580.85" cy="32.90" r="2.23" fill="#7f7f7f" stroke="#7f7f7f" stroke-width="0.74"/>
<circle cx="605.05" cy="32.30" r="2.23" fill="#7f7f7f" stroke="#7f7f7f" stroke-width="0.74"/>
<circle cx="629.25" cy="36.00" r="2.23" fill="#7f7f7f" stroke="#7f7f7f" stroke-width="0.74"/>
<circle cx="653.44" cy="39.50" r="2.23" fill="#7f7f7f" stroke="#7f7f7f" stroke-width="0.74"/>
<circle cx="677.64" cy="41.90" r="2.23" fill="#7f7f7f" stroke="#7f7f7f" stroke-width="0.74"/>
<polyline points="532.46,49.30 556.66,51.60 580.85,57.70 605.05,59.50 629.25,62.40 653.44,65.60 677.64,70.90" fill="none" stroke="#1f77b4" stroke-width="1.0" stroke-opacity="0.55" stroke-linejoin="round"/>
<line x1="532.46" y1="42.80" x2="532.46" y2="55.80" stroke="#1f77b4" stroke-width="1.0" stroke-opacity="0.55"/>
<line x1="556.66" y1="46.10" x2="556.66" y2="57.10" stroke="#1f77b4" stroke-width="1.0" stroke-opacity="0.55"/>
<line x1="580.85" y1="52.00" x2="580.85" y2="63.40" stroke="#1f77b4" stroke-width="1.0" stroke-opacity="0.55"/>
<line x1="677.64" y1="64.90" x2="677.64" y2="76.90" stroke="#1f77b4" stroke-width="1.0" stroke-opacity="0.55"/>
<path d="M532.46 47.07L534.69 51.53L530.23 51.53Z" fill="#1f77b4" stroke="#1f77b4" stroke-width="0.74" stroke-linejoin="miter"/>
<path d="M556.66 49.37L558.89 53.83L554.43 53.83Z" fill="#1f77b4" stroke="#1f77b4" stroke-width="0.74" stroke-linejoin="miter"/>
<path d="M580.85 55.47L583.08 59.93L578.62 59.93Z" fill="#1f77b4" stroke="#1f77b4" stroke-width="0.74" stroke-linejoin="miter"/>
<path d="M605.05 57.27L607.28 61.73L602.82 61.73Z" fill="#1f77b4" stroke="#1f77b4" stroke-width="0.74" stroke-linejoin="miter"/>
<path d="M629.25 60.17L631.48 64.63L627.02 64.63Z" fill="#1f77b4" stroke="#1f77b4" stroke-width="0.74" stroke-linejoin="miter"/>
<path d="M653.44 63.37L655.67 67.83L651.21 67.83Z" fill="#1f77b4" stroke="#1f77b4" stroke-width="0.74" stroke-linejoin="miter"/>
<path d="M677.64 68.67L679.87 73.13L675.41 73.13Z" fill="#1f77b4" stroke="#1f77b4" stroke-width="0.74" stroke-linejoin="miter"/>
<polyline points="532.46,115.60 556.66,121.00 580.85,124.40 605.05,131.00 629.25,135.70 653.44,139.50 677.64,143.80" fill="none" stroke="#ff7f0e" stroke-width="1.0" stroke-opacity="0.55" stroke-linejoin="round"/>
<line x1="532.46" y1="104.60" x2="532.46" y2="126.60" stroke="#ff7f0e" stroke-width="1.0" stroke-opacity="0.55"/>
<line x1="556.66" y1="112.00" x2="556.66" y2="130.00" stroke="#ff7f0e" stroke-width="1.0" stroke-opacity="0.55"/>
<line x1="580.85" y1="113.40" x2="580.85" y2="135.40" stroke="#ff7f0e" stroke-width="1.0" stroke-opacity="0.55"/>
<line x1="605.05" y1="120.00" x2="605.05" y2="142.00" stroke="#ff7f0e" stroke-width="1.0" stroke-opacity="0.55"/>
<line x1="629.25" y1="127.70" x2="629.25" y2="143.70" stroke="#ff7f0e" stroke-width="1.0" stroke-opacity="0.55"/>
<line x1="653.44" y1="133.50" x2="653.44" y2="145.50" stroke="#ff7f0e" stroke-width="1.0" stroke-opacity="0.55"/>
<line x1="677.64" y1="133.80" x2="677.64" y2="153.80" stroke="#ff7f0e" stroke-width="1.0" stroke-opacity="0.55"/>
<path d="M532.46 113.37L534.69 117.83L530.23 117.83Z" fill="#ff7f0e" stroke="#ff7f0e" stroke-width="0.74" stroke-linejoin="miter"/>
<path d="M556.66 118.77L558.89 123.23L554.43 123.23Z" fill="#ff7f0e" stroke="#ff7f0e" stroke-width="0.74" stroke-linejoin="miter"/>
<path d="M580.85 122.17L583.08 126.63L578.62 126.63Z" fill="#ff7f0e" stroke="#ff7f0e" stroke-width="0.74" stroke-linejoin="miter"/>
<path d="M605.05 128.77L607.28 133.23L602.82 133.23Z" fill="#ff7f0e" stroke="#ff7f0e" stroke-width="0.74" stroke-linejoin="miter"/>
<path d="M629.25 133.47L631.48 137.93L627.02 137.93Z" fill="#ff7f0e" stroke="#ff7f0e" stroke-width="0.74" stroke-linejoin="miter"/>
<path d="M653.44 137.27L655.67 141.73L651.21 141.73Z" fill="#ff7f0e" stroke="#ff7f0e" stroke-width="0.74" stroke-linejoin="miter"/>
<path d="M677.64 141.57L679.87 146.03L675.41 146.03Z" fill="#ff7f0e" stroke="#ff7f0e" stroke-width="0.74" stroke-linejoin="miter"/>
<polyline points="532.46,79.00 556.66,84.00 580.85,92.40 605.05,96.00 629.25,103.00 653.44,106.40 677.64,112.50" fill="none" stroke="#2ca02c" stroke-width="1.0" stroke-opacity="0.55" stroke-linejoin="round"/>
<path d="M532.46 76.77L534.69 81.23L530.23 81.23Z" fill="#2ca02c" stroke="#2ca02c" stroke-width="0.74" stroke-linejoin="miter"/>
<path d="M556.66 81.77L558.89 86.23L554.43 86.23Z" fill="#2ca02c" stroke="#2ca02c" stroke-width="0.74" stroke-linejoin="miter"/>
<path d="M580.85 90.17L583.08 94.63L578.62 94.63Z" fill="#2ca02c" stroke="#2ca02c" stroke-width="0.74" stroke-linejoin="miter"/>
<path d="M605.05 93.77L607.28 98.23L602.82 98.23Z" fill="#2ca02c" stroke="#2ca02c" stroke-width="0.74" stroke-linejoin="miter"/>
<path d="M629.25 100.77L631.48 105.23L627.02 105.23Z" fill="#2ca02c" stroke="#2ca02c" stroke-width="0.74" stroke-linejoin="miter"/>
<path d="M653.44 104.17L655.67 108.63L651.21 108.63Z" fill="#2ca02c" stroke="#2ca02c" stroke-width="0.74" stroke-linejoin="miter"/>
<path d="M677.64 110.27L679.87 114.73L675.41 114.73Z" fill="#2ca02c" stroke="#2ca02c" stroke-width="0.74" stroke-linejoin="miter"/>
<polyline points="532.46,84.00 556.66,88.00 580.85,95.00 605.05,99.80 629.25,106.60 653.44,111.20 677.64,116.30" fill="none" stroke="#8c564b" stroke-width="1.0" stroke-opacity="0.55" stroke-linejoin="round"/>
<path d="M532.46 81.77L534.69 86.23L530.23 86.23Z" fill="#8c564b" stroke="#8c564b" stroke-width="0.74" stroke-linejoin="miter"/>
<path d="M556.66 85.77L558.89 90.23L554.43 90.23Z" fill="#8c564b" stroke="#8c564b" stroke-width="0.74" stroke-linejoin="miter"/>
<path d="M580.85 92.77L583.08 97.23L578.62 97.23Z" fill="#8c564b" stroke="#8c564b" stroke-width="0.74" stroke-linejoin="miter"/>
<path d="M605.05 97.57L607.28 102.03L602.82 102.03Z" fill="#8c564b" stroke="#8c564b" stroke-width="0.74" stroke-linejoin="miter"/>
<path d="M629.25 104.37L631.48 108.83L627.02 108.83Z" fill="#8c564b" stroke="#8c564b" stroke-width="0.74" stroke-linejoin="miter"/>
<path d="M653.44 108.97L655.67 113.43L651.21 113.43Z" fill="#8c564b" stroke="#8c564b" stroke-width="0.74" stroke-linejoin="miter"/>
<path d="M677.64 114.07L679.87 118.53L675.41 118.53Z" fill="#8c564b" stroke="#8c564b" stroke-width="0.74" stroke-linejoin="miter"/>
<polyline points="532.46,55.90 556.66,61.40 580.85,64.80 605.05,67.20 629.25,70.50 653.44,73.60 677.64,76.60" fill="none" stroke="#d62728" stroke-width="1.0" stroke-opacity="0.55" stroke-linejoin="round"/>
<path d="M532.46 53.67L534.69 58.13L530.23 58.13Z" fill="#d62728" stroke="#d62728" stroke-width="0.74" stroke-linejoin="miter"/>
<path d="M556.66 59.17L558.89 63.63L554.43 63.63Z" fill="#d62728" stroke="#d62728" stroke-width="0.74" stroke-linejoin="miter"/>
<path d="M580.85 62.57L583.08 67.03L578.62 67.03Z" fill="#d62728" stroke="#d62728" stroke-width="0.74" stroke-linejoin="miter"/>
<path d="M605.05 64.97L607.28 69.43L602.82 69.43Z" fill="#d62728" stroke="#d62728" stroke-width="0.74" stroke-linejoin="miter"/>
<path d="M629.25 68.27L631.48 72.73L627.02 72.73Z" fill="#d62728" stroke="#d62728" stroke-width="0.74" stroke-linejoin="miter"/>
<path d="M653.44 71.37L655.67 75.83L651.21 75.83Z" fill="#d62728" stroke="#d62728" stroke-width="0.74" stroke-linejoin="miter"/>
<path d="M677.64 74.37L679.87 78.83L675.41 78.83Z" fill="#d62728" stroke="#d62728" stroke-width="0.74" stroke-linejoin="miter"/>
<polyline points="532.46,89.40 556.66,97.00 580.85,102.00 605.05,104.60 629.25,112.50 653.44,116.30 677.64,119.30" fill="none" stroke="#9467bd" stroke-width="1.0" stroke-opacity="0.55" stroke-linejoin="round"/>
<path d="M532.46 87.17L534.69 91.63L530.23 91.63Z" fill="#9467bd" stroke="#9467bd" stroke-width="0.74" stroke-linejoin="miter"/>
<path d="M556.66 94.77L558.89 99.23L554.43 99.23Z" fill="#9467bd" stroke="#9467bd" stroke-width="0.74" stroke-linejoin="miter"/>
<path d="M580.85 99.77L583.08 104.23L578.62 104.23Z" fill="#9467bd" stroke="#9467bd" stroke-width="0.74" stroke-linejoin="miter"/>
<path d="M605.05 102.37L607.28 106.83L602.82 106.83Z" fill="#9467bd" stroke="#9467bd" stroke-width="0.74" stroke-linejoin="miter"/>
<path d="M629.25 110.27L631.48 114.73L627.02 114.73Z" fill="#9467bd" stroke="#9467bd" stroke-width="0.74" stroke-linejoin="miter"/>
<path d="M653.44 114.07L655.67 118.53L651.21 118.53Z" fill="#9467bd" stroke="#9467bd" stroke-width="0.74" stroke-linejoin="miter"/>
<path d="M677.64 117.07L679.87 121.53L675.41 121.53Z" fill="#9467bd" stroke="#9467bd" stroke-width="0.74" stroke-linejoin="miter"/>
<polyline points="532.46,79.60 556.66,84.40 580.85,88.40 605.05,93.10 629.25,93.20 653.44,97.00 677.64,100.00" fill="none" stroke="#e377c2" stroke-width="1.0" stroke-opacity="0.55" stroke-linejoin="round"/>
<path d="M532.46 77.37L534.69 81.83L530.23 81.83Z" fill="#e377c2" stroke="#e377c2" stroke-width="0.74" stroke-linejoin="miter"/>
<path d="M556.66 82.17L558.89 86.63L554.43 86.63Z" fill="#e377c2" stroke="#e377c2" stroke-width="0.74" stroke-linejoin="miter"/>
<path d="M580.85 86.17L583.08 90.63L578.62 90.63Z" fill="#e377c2" stroke="#e377c2" stroke-width="0.74" stroke-linejoin="miter"/>
<path d="M605.05 90.87L607.28 95.33L602.82 95.33Z" fill="#e377c2" stroke="#e377c2" stroke-width="0.74" stroke-linejoin="miter"/>
<path d="M629.25 90.97L631.48 95.43L627.02 95.43Z" fill="#e377c2" stroke="#e377c2" stroke-width="0.74" stroke-linejoin="miter"/>
<path d="M653.44 94.77L655.67 99.23L651.21 99.23Z" fill="#e377c2" stroke="#e377c2" stroke-width="0.74" stroke-linejoin="miter"/>
<path d="M677.64 97.77L679.87 102.23L675.41 102.23Z" fill="#e377c2" stroke="#e377c2" stroke-width="0.74" stroke-linejoin="miter"/>
<polyline points="532.46,85.00 556.66,90.00 580.85,94.40 605.05,95.70 629.25,100.90 653.44,104.60 677.64,96.00" fill="none" stroke="#7f7f7f" stroke-width="1.0" stroke-opacity="0.55" stroke-linejoin="round"/>
<path d="M532.46 82.77L534.69 87.23L530.23 87.23Z" fill="#7f7f7f" stroke="#7f7f7f" stroke-width="0.74" stroke-linejoin="miter"/>
<path d="M556.66 87.77L558.89 92.23L554.43 92.23Z" fill="#7f7f7f" stroke="#7f7f7f" stroke-width="0.74" stroke-linejoin="miter"/>
<path d="M580.85 92.17L583.08 96.63L578.62 96.63Z" fill="#7f7f7f" stroke="#7f7f7f" stroke-width="0.74" stroke-linejoin="miter"/>
<path d="M605.05 93.47L607.28 97.93L602.82 97.93Z" fill="#7f7f7f" stroke="#7f7f7f" stroke-width="0.74" stroke-linejoin="miter"/>
<path d="M629.25 98.67L631.48 103.13L627.02 103.13Z" fill="#7f7f7f" stroke="#7f7f7f" stroke-width="0.74" stroke-linejoin="miter"/>
<path d="M653.44 102.37L655.67 106.83L651.21 106.83Z" fill="#7f7f7f" stroke="#7f7f7f" stroke-width="0.74" stroke-linejoin="miter"/>
<path d="M677.64 93.77L679.87 98.23L675.41 98.23Z" fill="#7f7f7f" stroke="#7f7f7f" stroke-width="0.74" stroke-linejoin="miter"/>
<polyline points="532.46,18.90 556.66,20.40 580.85,24.00 605.05,25.80 629.25,27.00 653.44,33.10 677.64,34.80" fill="none" stroke="#1f77b4" stroke-width="1.0" stroke-opacity="0.55" stroke-linejoin="round"/>
<line x1="532.46" y1="11.20" x2="532.46" y2="26.60" stroke="#1f77b4" stroke-width="1.0" stroke-opacity="0.55"/>
<line x1="556.66" y1="13.80" x2="556.66" y2="27.00" stroke="#1f77b4" stroke-width="1.0" stroke-opacity="0.55"/>
<line x1="580.85" y1="19.50" x2="580.85" y2="28.50" stroke="#1f77b4" stroke-width="1.0" stroke-opacity="0.55"/>
<line x1="605.05" y1="22.80" x2="605.05" y2="28.80" stroke="#1f77b4" stroke-width="1.0" stroke-opacity="0.55"/>
<line x1="629.25" y1="24.00" x2="629.25" y2="30.00" stroke="#1f77b4" stroke-width="1.0" stroke-opacity="0.55"/>
<line x1="653.44" y1="30.10" x2="653.44" y2="36.10" stroke="#1f77b4" stroke-width="1.0" stroke-opacity="0.55"/>
<line x1="677.64" y1="31.80" x2="677.64" y2="37.80" stroke="#1f77b4" stroke-width="1.0" stroke-opacity="0.55"/>
<path d="M530.23 16.67L534.69 21.13M530.23 21.13L534.69 16.67" stroke="#1f77b4" stroke-width="0.9" fill="none"/>
<path d="M554.43 18.17L558.89 22.63M554.43 22.63L558.89 18.17" stroke="#1f77b4" stroke-width="0.9" fill="none"/>
<path d="M578.62 21.77L583.08 26.23M578.62 26.23L583.08 21.77" stroke="#1f77b4" stroke-width="0.9" fill="none"/>
<path d="M602.82 23.57L607.28 28.03M602.82 28.03L607.28 23.57" stroke="#1f77b4" stroke-width="0.9" fill="none"/>
<path d="M627.02 24.77L631.48 29.23M627.02 29.23L631.48 24.77" stroke="#1f77b4" stroke-width="0.9" fill="none"/>
<path d="M651.21 30.87L655.67 35.33M651.21 35.33L655.67 30.87" stroke="#1f77b4" stroke-width="0.9" fill="none"/>
<path d="M675.41 32.57L679.87 37.03M675.41 37.03L679.87 32.57" stroke="#1f77b4" stroke-width="0.9" fill="none"/>
</g>
<g>
<polyline points="69.76,253.30 105.12,258.30 134.00,257.50 158.43,278.70 179.58,306.60 198.25,254.30 214.94,281.00" fill="none" stroke="#1f77b4" stroke-width="1.0" stroke-opacity="0.55" stroke-linejoin="round"/>
<circle cx="69.76" cy="253.30" r="2.23" fill="#1f77b4" stroke="#1f77b4" stroke-width="0.74"/>
<circle cx="105.12" cy="258.30" r="2.23" fill="#1f77b4" stroke="#1f77b4" stroke-width="0.74"/>
<circle cx="134.00" cy="257.50" r="2.23" fill="#1f77b4" stroke="#1f77b4" stroke-width="0.74"/>
<circle cx="158.43" cy="278.70" r="2.23" fill="#1f77b4" stroke="#1f77b4" stroke-width="0.74"/>
<circle cx="179.58" cy="306.60" r="2.23" fill="#1f77b4" stroke="#1f77b4" stroke-width="0.74"/>
<circle cx="198.25" cy="254.30" r="2.23" fill="#1f77b4" stroke="#1f77b4" stroke-width="0.74"/>
<circle cx="214.94" cy="281.00" r="2.23" fill="#1f77b4" stroke="#1f77b4" stroke-width="0.74"/>
<polyline points="69.76,229.40 105.12,244.60 134.00,296.50 158.43,292.40 179.58,280.00 198.25,285.00 214.94,303.60" fill="none" stroke="#ff7f0e" stroke-width="1.0" stroke-opacity="0.55" stroke-linejoin="round"/>
<circle cx="69.76" cy="229.40" r="2.23" fill="#ff7f0e" stroke="#ff7f0e" stroke-width="0.74"/>
<circle cx="105.12" cy="244.60" r="2.23" fill="#ff7f0e" stroke="#ff7f0e" stroke-width="0.74"/>
<circle cx="134.00" cy="296.50" r="2.23" fill="#ff7f0e" stroke="#ff7f0e" stroke-width="0.74"/>
<circle cx="158.43" cy="292.40" r="2.23" fill="#ff7f0e" stroke="#ff7f0e" stroke-width="0.74"/>
<circle cx="179.58" cy="280.00" r="2.23" fill="#ff7f0e" stroke="#ff7f0e" stroke-width="0.74"/>
<circle cx="198.25" cy="285.00" r="2.23" fill="#ff7f0e" stroke="#ff7f0e" stroke-width="0.74"/>
<circle cx="214.94" cy="303.60" r="2.23" fill="#ff7f0e" stroke="#ff7f0e" stroke-width="0.74"/>
<polyline points="69.76,258.30 105.12,238.70 134.00,258.00 158.43,265.00 179.58,287.60 198.25,311.00 214.94,309.60" fill="none" stroke="#2ca02c" stroke-width="1.0" stroke-opacity="0.55" stroke-linejoin="round"/>
<circle cx="69.76" cy="258.30" r="2.23" fill="#2ca02c" stroke="#2ca02c" stroke-width="0.74"/>
<circle cx="105.12" cy="238.70" r="2.23" fill="#2ca02c" stroke="#2ca02c" stroke-width="0.74"/>
<circle cx="134.00" cy="258.00" r="2.23" fill="#2ca02c" stroke="#2ca02c" stroke-width="0.74"/>
<circle cx="158.43" cy="265.00" r="2.23" fill="#2ca02c" stroke="#2ca02c" stroke-width="0.74"/>
<circle cx="179.58" cy="287.60" r="2.23" fill="#2ca02c" stroke="#2ca02c" stroke-width="0.74"/>
<circle cx="198.25" cy="311.00" r="2.23" fill="#2ca02c" stroke="#2ca02c" stroke-width="0.74"/>
<circle cx="214.94" cy="309.60" r="2.23" fill="#2ca02c" stroke="#2ca02c" stroke-width="0.74"/>
<polyline points="69.76,230.30 105.12,256.90 134.00,262.00 158.43,273.00 179.58,312.00 198.25,306.00 214.94,298.00" fill="none" stroke="#8c564b" stroke-width="1.0" stroke-opacity="0.55" stroke-linejoin="round"/>
<circle cx="69.76" cy="230.30" r="2.23" fill="#8c564b" stroke="#8c564b" stroke-width="0.74"/>
<circle cx="105.12" cy="256.90" r="2.23" fill="#8c564b" stroke="#8c564b" stroke-width="0.74"/>
<circle cx="134.00" cy="262.00" r="2.23" fill="#8c564b" stroke="#8c564b" stroke-width="0.74"/>
<circle cx="158.43" cy="273.00" r="2.23" fill="#8c564b" stroke="#8c564b" stroke-width="0.74"/>
<circle cx="179.58" cy="312.00" r="2.23" fill="#8c564b" stroke="#8c564b" stroke-width="0.74"/>
<circle cx="198.25" cy="306.00" r="2.23" fill="#8c564b" stroke="#8c564b" stroke-width="0.74"/>
<circle cx="214.94" cy="298.00" r="2.23" fill="#8c564b" stroke="#8c564b" stroke-width="0.74"/>
<polyline points="69.76,277.40 105.12,225.90 134.00,247.60 158.43,268.00 179.58,278.00 198.25,258.80 214.94,299.60" fill="none" stroke="#d62728" stroke-width="1.0" stroke-opacity="0.55" stroke-linejoin="round"/>
<circle cx="69.76" cy="277.40" r="2.23" fill="#d62728" stroke="#d62728" stroke-width="0.74"/>
<circle cx="105.12" cy="225.90" r="2.23" fill="#d62728" stroke="#d62728" stroke-width="0.74"/>
<circle cx="134.00" cy="247.60" r="2.23" fill="#d62728" stroke="#d62728" stroke-width="0.74"/>
<circle cx="158.43" cy="268.00" r="2.23" fill="#d62728" stroke="#d62728" stroke-width="0.74"/>
<circle cx="179.58" cy="278.00" r="2.23" fill="#d62728" stroke="#d62728" stroke-width="0.74"/>
<circle cx="198.25" cy="258.80" r="2.23" fill="#d62728" stroke="#d62728" stroke-width="0.74"/>
<circle cx="214.94" cy="299.60" r="2.23" fill="#d62728" stroke="#d62728" stroke-width="0.74"/>
<polyline points="69.76,208.30 105.12,223.00 134.00,211.10 158.43,234.80 179.58,230.30 198.25,223.80 214.94,230.90" fill="none" stroke="#9467bd" stroke-width="1.0" stroke-opacity="0.55" stroke-linejoin="round"/>
<circle cx="69.76" cy="208.30" r="2.23" fill="#9467bd" stroke="#9467bd" stroke-width="0.74"/>
<circle cx="105.12" cy="223.00" r="2.23" fill="#9467bd" stroke="#9467bd" stroke-width="0.74"/>
<circle cx="134.00" cy="211.10" r="2.23" fill="#9467bd" stroke="#9467bd" stroke-width="0.74"/>
<circle cx="158.43" cy="234.80" r="2.23" fill="#9467bd" stroke="#9467bd" stroke-width="0.74"/>
<circle cx="179.58" cy="230.30" r="2.23" fill="#9467bd" stroke="#9467bd" stroke-width="0.74"/>
<circle cx="198.25" cy="223.80" r="2.23" fill="#9467bd" stroke="#9467bd" stroke-width="0.74"/>
<circle cx="214.94" cy="230.90" r="2.23" fill="#9467bd" stroke="#9467bd" stroke-width="0.74"/>
<polyline points="69.76,216.60 105.12,240.50 134.00,237.80 158.43,250.00 179.58,254.90 198.25,257.50 214.94,293.60" fill="none" stroke="#e377c2" stroke-width="1.0" stroke-opacity="0.55" stroke-linejoin="round"/>
<circle cx="69.76" cy="216.60" r="2.23" fill="#e377c2" stroke="#e377c2" stroke-width="0.74"/>
<circle cx="105.12" cy="240.50" r="2.23" fill="#e377c2" stroke="#e377c2" stroke-width="0.74"/>
<circle cx="134.00" cy="237.80" r="2.23" fill="#e377c2" stroke="#e377c2" stroke-width="0.74"/>
<circle cx="158.43" cy="250.00" r="2.23" fill="#e377c2" stroke="#e377c2" stroke-width="0.74"/>
<circle cx="179.58" cy="254.90" r="2.23" fill="#e377c2" stroke="#e377c2" stroke-width="0.74"/>
<circle cx="198.25" cy="257.50" r="2.23" fill="#e377c2" stroke="#e377c2" stroke-width="0.74"/>
<circle cx="214.94" cy="293.60" r="2.23" fill="#e377c2" stroke="#e377c2" stroke-width="0.74"/>
<polyline points="69.76,246.20 105.12,263.60 134.00,279.00 158.43,273.00 179.58,297.70 198.25,291.70 214.94,320.40" fill="none" stroke="#7f7f7f" stroke-width="1.0" stroke-opacity="0.55" stroke-linejoin="round"/>
<circle cx="69.76" cy="246.20" r="2.23" fill="#7f7f7f" stroke="#7f7f7f" stroke-width="0.74"/>
<circle cx="105.12" cy="263.60" r="2.23" fill="#7f7f7f" stroke="#7f7f7f" stroke-width="0.74"/>
<circle cx="134.00" cy="279.00" r="2.23" fill="#7f7f7f" stroke="#7f7f7f" stroke-width="0.74"/>
<circle cx="158.43" cy="273.00" r="2.23" fill="#7f7f7f" stroke="#7f7f7f" stroke-width="0.74"/>
<circle cx="179.58" cy="297.70" r="2.23" fill="#7f7f7f" stroke="#7f7f7f" stroke-width="0.74"/>
<circle cx="198.25" cy="291.70" r="2.23" fill="#7f7f7f" stroke="#7f7f7f" stroke-width="0.74"/>
<circle cx="214.94" cy="320.40" r="2.23" fill="#7f7f7f" stroke="#7f7f7f" stroke-width="0.74"/>
<polyline points="69.76,236.90 105.12,275.90 134.00,267.50 158.43,284.00 179.58,290.00 198.25,265.00 214.94,277.00" fill="none" stroke="#1f77b4" stroke-width="1.0" stroke-opacity="0.55" stroke-linejoin="round"/>
<path d="M69.76 234.67L71.99 239.13L67.53 239.13Z" fill="#1f77b4" stroke="#1f77b4" stroke-width="0.74" stroke-linejoin="miter"/>
<path d="M105.12 273.67L107.35 278.13L102.89 278.13Z" fill="#1f77b4" stroke="#1f77b4" stroke-width="0.74" stroke-linejoin="miter"/>
<path d="M134.00 265.27L136.23 269.73L131.77 269.73Z" fill="#1f77b4" stroke="#1f77b4" stroke-width="0.74" stroke-linejoin="miter"/>
<path d="M158.43 281.77L160.66 286.23L156.20 286.23Z" fill="#1f77b4" stroke="#1f77b4" stroke-width="0.74" stroke-linejoin="miter"/>
<path d="M179.58 287.77L181.81 292.23L177.35 292.23Z" fill="#1f77b4" stroke="#1f77b4" stroke-width="0.74" stroke-linejoin="miter"/>
<path d="M198.25 262.77L200.48 267.23L196.02 267.23Z" fill="#1f77b4" stroke="#1f77b4" stroke-width="0.74" stroke-linejoin="miter"/>
<path d="M214.94 274.77L217.17 279.23L212.71 279.23Z" fill="#1f77b4" stroke="#1f77b4" stroke-width="0.74" stroke-linejoin="miter"/>
<polyline points="69.76,217.40 105.12,231.00 134.00,245.00 158.43,260.00 179.58,262.30 198.25,251.30 214.94,257.90" fill="none" stroke="#ff7f0e" stroke-width="1.0" stroke-opacity="0.55" stroke-linejoin="round"/>
<path d="M69.76 215.17L71.99 219.63L67.53 219.63Z" fill="#ff7f0e" stroke="#ff7f0e" stroke-width="0.74" stroke-linejoin="miter"/>
<path d="M105.12 228.77L107.35 233.23L102.89 233.23Z" fill="#ff7f0e" stroke="#ff7f0e" stroke-width="0.74" stroke-linejoin="miter"/>
<path d="M134.00 242.77L136.23 247.23L131.77 247.23Z" fill="#ff7f0e" stroke="#ff7f0e" stroke-width="0.74" stroke-linejoin="miter"/>
<path d="M158.43 257.77L160.66 262.23L156.20 262.23Z" fill="#ff7f0e" stroke="#ff7f0e" stroke-width="0.74" stroke-linejoin="miter"/>
<path d="M179.58 260.07L181.81 264.53L177.35 264.53Z" fill="#ff7f0e" stroke="#ff7f0e" stroke-width="0.74" stroke-linejoin="miter"/>
<path d="M198.25 249.07L200.48 253.53L196.02 253.53Z" fill="#ff7f0e" stroke="#ff7f0e" stroke-width="0.74" stroke-linejoin="miter"/>
<path d="M214.94 255.67L217.17 260.13L212.71 260.13Z" fill="#ff7f0e" stroke="#ff7f0e" stroke-width="0.74" stroke-linejoin="miter"/>
<polyline points="69.76,222.70 105.12,221.40 134.00,260.60 158.43,254.90 179.58,294.00 198.25,290.00 214.94,269.40" fill="none" stroke="#2ca02c" stroke-width="1.0" stroke-opacity="0.55" stroke-linejoin="round"/>
<path d="M69.76 220.47L71.99 224.93L67.53 224.93Z" fill="#2ca02c" stroke="#2ca02c" stroke-width="0.74" stroke-linejoin="miter"/>
<path d="M105.12 219.17L107.35 223.63L102.89 223.63Z" fill="#2ca02c" stroke="#2ca02c" stroke-width="0.74" stroke-linejoin="miter"/>
<path d="M134.00 258.37L136.23 262.83L131.77 262.83Z" fill="#2ca02c" stroke="#2ca02c" stroke-width="0.74" stroke-linejoin="miter"/>
<path d="M158.43 252.67L160.66 257.13L156.20 257.13Z" fill="#2ca02c" stroke="#2ca02c" stroke-width="0.74" stroke-linejoin="miter"/>
<path d="M179.58 291.77L181.81 296.23L177.35 296.23Z" fill="#2ca02c" stroke="#2ca02c" stroke-width="0.74" stroke-linejoin="miter"/>
<path d="M198.25 287.77L200.48 292.23L196.02 292.23Z" fill="#2ca02c" stroke="#2ca02c" stroke-width="0.74" stroke-linejoin="miter"/>
<path d="M214.94 267.17L217.17 271.63L212.71 271.63Z" fill="#2ca02c" stroke="#2ca02c" stroke-width="0.74" stroke-linejoin="miter"/>
<polyline points="69.76,230.00 105.12,240.00 134.00,231.60 158.43,272.00 179.58,277.80 198.25,332.00 214.94,352.40" fill="none" stroke="#8c564b" stroke-width="1.0" stroke-opacity="0.55" stroke-linejoin="round"/>
<path d="M69.76 227.77L71.99 232.23L67.53 232.23Z" fill="#8c564b" stroke="#8c564b" stroke-width="0.74" stroke-linejoin="miter"/>
<path d="M105.12 237.77L107.35 242.23L102.89 242.23Z" fill="#8c564b" stroke="#8c564b" stroke-width="0.74" stroke-linejoin="miter"/>
<path d="M134.00 229.37L136.23 233.83L131.77 233.83Z" fill="#8c564b" stroke="#8c564b" stroke-width="0.74" stroke-linejoin="miter"/>
<path d="M158.43 269.77L160.66 274.23L156.20 274.23Z" fill="#8c564b" stroke="#8c564b" stroke-width="0.74" stroke-linejoin="miter"/>
<path d="M179.58 275.57L181.81 280.03L177.35 280.03Z" fill="#8c564b" stroke="#8c564b" stroke-width="0.74" stroke-linejoin="miter"/>
<path d="M198.25 329.77L200.48 334.23L196.02 334.23Z" fill="#8c564b" stroke="#8c564b" stroke-width="0.74" stroke-linejoin="miter"/>
<path d="M214.94 350.17L217.17 354.63L212.71 354.63Z" fill="#8c564b" stroke="#8c564b" stroke-width="0.74" stroke-linejoin="miter"/>
<polyline points="69.76,251.60 105.12,251.60 134.00,291.60 158.43,249.50 179.58,301.80 198.25,258.00 214.94,316.00" fill="none" stroke="#d62728" stroke-width="1.0" stroke-opacity="0.55" stroke-linejoin="round"/>
<path d="M69.76 249.37L71.99 253.83L67.53 253.83Z" fill="#d62728" stroke="#d62728" stroke-width="0.74" stroke-linejoin="miter"/>
<path d="M105.12 249.37L107.35 253.83L102.89 253.83Z" fill="#d62728" stroke="#d62728" stroke-width="0.74" stroke-linejoin="miter"/>
<path d="M134.00 289.37L136.23 293.83L131.77 293.83Z" fill="#d62728" stroke="#d62728" stroke-width="0.74" stroke-linejoin="miter"/>
<path d="M158.43 247.27L160.66 251.73L156.20 251.73Z" fill="#d62728" stroke="#d62728" stroke-width="0.74" stroke-linejoin="miter"/>
<path d="M179.58 299.57L181.81 304.03L177.35 304.03Z" fill="#d62728" stroke="#d62728" stroke-width="0.74" stroke-linejoin="miter"/>
<path d="M198.25 255.77L200.48 260.23L196.02 260.23Z" fill="#d62728" stroke="#d62728" stroke-width="0.74" stroke-linejoin="miter"/>
<path d="M214.94 313.77L217.17 318.23L212.71 318.23Z" fill="#d62728" stroke="#d62728" stroke-width="0.74" stroke-linejoin="miter"/>
<polyline points="69.76,226.80 105.12,232.60 134.00,252.80 158.43,287.60 179.58,254.90 198.25,265.00 214.94,277.80" fill="none" stroke="#9467bd" stroke-width="1.0" stroke-opacity="0.55" stroke-linejoin="round"/>
<path d="M69.76 224.57L71.99 229.03L67.53 229.03Z" fill="#9467bd" stroke="#9467bd" stroke-width="0.74" stroke-linejoin="miter"/>
<path d="M105.12 230.37L107.35 234.83L102.89 234.83Z" fill="#9467bd" stroke="#9467bd" stroke-width="0.74" stroke-linejoin="miter"/>
<path d="M134.00 250.57L136.23 255.03L131.77 255.03Z" fill="#9467bd" stroke="#9467bd" stroke-width="0.74" stroke-linejoin="miter"/>
<path d="M158.43 285.37L160.66 289.83L156.20 289.83Z" fill="#9467bd" stroke="#9467bd" stroke-width="0.74" stroke-linejoin="miter"/>
<path d="M179.58 252.67L181.81 257.13L177.35 257.13Z" fill="#9467bd" stroke="#9467bd" stroke-width="0.74" stroke-linejoin="miter"/>
<path d="M198.25 262.77L200.48 267.23L196.02 267.23Z" fill="#9467bd" stroke="#9467bd" stroke-width="0.74" stroke-linejoin="miter"/>
<path d="M214.94 275.57L217.17 280.03L212.71 280.03Z" fill="#9467bd" stroke="#9467bd" stroke-width="0.74" stroke-linejoin="miter"/>
<polyline points="69.76,235.00 105.12,238.00 134.00,246.00 158.43,244.20 179.58,264.10 198.25,258.00 214.94,273.00" fill="none" stroke="#e377c2" stroke-width="1.0" stroke-opacity="0.55" stroke-linejoin="round"/>
<path d="M69.76 232.77L71.99 237.23L67.53 237.23Z" fill="#e377c2" stroke="#e377c2" stroke-width="0.74" stroke-linejoin="miter"/>
<path d="M105.12 235.77L107.35 240.23L102.89 240.23Z" fill="#e377c2" stroke="#e377c2" stroke-width="0.74" stroke-linejoin="miter"/>
<path d="M134.00 243.77L136.23 248.23L131.77 248.23Z" fill="#e377c2" stroke="#e377c2" stroke-width="0.74" stroke-linejoin="miter"/>
<path d="M158.43 241.97L160.66 246.43L156.20 246.43Z" fill="#e377c2" stroke="#e377c2" stroke-width="0.74" stroke-linejoin="miter"/>
<path d="M179.58 261.87L181.81 266.33L177.35 266.33Z" fill="#e377c2" stroke="#e377c2" stroke-width="0.74" stroke-linejoin="miter"/>
<path d="M198.25 255.77L200.48 260.23L196.02 260.23Z" fill="#e377c2" stroke="#e377c2" stroke-width="0.74" stroke-linejoin="miter"/>
<path d="M214.94 270.77L217.17 275.23L212.71 275.23Z" fill="#e377c2" stroke="#e377c2" stroke-width="0.74" stroke-linejoin="miter"/>
<polyline points="69.76,234.80 105.12,246.80 134.00,307.20 158.43,281.00 179.58,299.60 198.25,276.00 214.94,265.90" fill="none" stroke="#7f7f7f" stroke-width="1.0" stroke-opacity="0.55" stroke-linejoin="round"/>
<path d="M69.76 232.57L71.99 237.03L67.53 237.03Z" fill="#7f7f7f" stroke="#7f7f7f" stroke-width="0.74" stroke-linejoin="miter"/>
<path d="M105.12 244.57L107.35 249.03L102.89 249.03Z" fill="#7f7f7f" stroke="#7f7f7f" stroke-width="0.74" stroke-linejoin="miter"/>
<path d="M134.00 304.97L136.23 309.43L131.77 309.43Z" fill="#7f7f7f" stroke="#7f7f7f" stroke-width="0.74" stroke-linejoin="miter"/>
<path d="M158.43 278.77L160.66 283.23L156.20 283.23Z" fill="#7f7f7f" stroke="#7f7f7f" stroke-width="0.74" stroke-linejoin="miter"/>
<path d="M179.58 297.37L181.81 301.83L177.35 301.83Z" fill="#7f7f7f" stroke="#7f7f7f" stroke-width="0.74" stroke-linejoin="miter"/>
<path d="M198.25 273.77L200.48 278.23L196.02 278.23Z" fill="#7f7f7f" stroke="#7f7f7f" stroke-width="0.74" stroke-linejoin="miter"/>
<path d="M214.94 263.67L217.17 268.13L212.71 268.13Z" fill="#7f7f7f" stroke="#7f7f7f" stroke-width="0.74" stroke-linejoin="miter"/>
<polyline points="69.76,238.30 105.12,269.90 134.00,261.40 158.43,281.70 179.58,270.30 198.25,295.00 214.94,285.00" fill="none" stroke="#1f77b4" stroke-width="1.0" stroke-opacity="0.55" stroke-linejoin="round"/>
<path d="M67.53 236.07L71.99 240.53M67.53 240.53L71.99 236.07" stroke="#1f77b4" stroke-width="0.9" fill="none"/>
<path d="M102.89 267.67L107.35 272.13M102.89 272.13L107.35 267.67" stroke="#1f77b4" stroke-width="0.9" fill="none"/>
<path d="M131.77 259.17L136.23 263.63M131.77 263.63L136.23 259.17" stroke="#1f77b4" stroke-width="0.9" fill="none"/>
<path d="M156.20 279.47L160.66 283.93M156.20 283.93L160.66 279.47" stroke="#1f77b4" stroke-width="0.9" fill="none"/>
<path d="M177.35 268.07L181.81 272.53M177.35 272.53L181.81 268.07" stroke="#1f77b4" stroke-width="0.9" fill="none"/>
<path d="M196.02 292.77L200.48 297.23M196.02 297.23L200.48 292.77" stroke="#1f77b4" stroke-width="0.9" fill="none"/>
<path d="M212.71 282.77L217.17 287.23M212.71 287.23L217.17 282.77" stroke="#1f77b4" stroke-width="0.9" fill="none"/>
</g>
<g>
<polyline points="301.06,249.40 336.42,262.00 365.30,274.40 389.73,272.00 410.88,275.60 429.55,287.60 446.24,284.00" fill="none" stroke="#1f77b4" stroke-width="1.0" stroke-opacity="0.55" stroke-linejoin="round"/>
<circle cx="301.06" cy="249.40" r="2.23" fill="#1f77b4" stroke="#1f77b4" stroke-width="0.74"/>
<circle cx="336.42" cy="262.00" r="2.23" fill="#1f77b4" stroke="#1f77b4" stroke-width="0.74"/>
<circle cx="365.30" cy="274.40" r="2.23" fill="#1f77b4" stroke="#1f77b4" stroke-width="0.74"/>
<circle cx="389.73" cy="272.00" r="2.23" fill="#1f77b4" stroke="#1f77b4" stroke-width="0.74"/>
<circle cx="410.88" cy="275.60" r="2.23" fill="#1f77b4" stroke="#1f77b4" stroke-width="0.74"/>
<circle cx="429.55" cy="287.60" r="2.23" fill="#1f77b4" stroke="#1f77b4" stroke-width="0.74"/>
<circle cx="446.24" cy="284.00" r="2.23" fill="#1f77b4" stroke="#1f77b4" stroke-width="0.74"/>
<polyline points="301.06,212.60 336.42,245.10 365.30,248.60 389.73,257.20 410.88,261.70 429.55,274.10 446.24,302.40" fill="none" stroke="#ff7f0e" stroke-width="1.0" stroke-opacity="0.55" stroke-linejoin="round"/>
<circle cx="301.06" cy="212.60" r="2.23" fill="#ff7f0e" stroke="#ff7f0e" stroke-width="0.74"/>
<circle cx="336.42" cy="245.10" r="2.23" fill="#ff7f0e" stroke="#ff7f0e" stroke-width="0.74"/>
<circle cx="365.30" cy="248.60" r="2.23" fill="#ff7f0e" stroke="#ff7f0e" stroke-width="0.74"/>
<circle cx="389.73" cy="257.20" r="2.23" fill="#ff7f0e" stroke="#ff7f0e" stroke-width="0.74"/>
<circle cx="410.88" cy="261.70" r="2.23" fill="#ff7f0e" stroke="#ff7f0e" stroke-width="0.74"/>
<circle cx="429.55" cy="274.10" r="2.23" fill="#ff7f0e" stroke="#ff7f0e" stroke-width="0.74"/>
<circle cx="446.24" cy="302.40" r="2.23" fill="#ff7f0e" stroke="#ff7f0e" stroke-width="0.74"/>
<polyline points="301.06,242.40 336.42,259.00 365.30,267.00 389.73,277.00 410.88,283.00 429.55,294.50 446.24,286.00" fill="none" stroke="#2ca02c" stroke-width="1.0" stroke-opacity="0.55" stroke-linejoin="round"/>
<circle cx="301.06" cy="242.40" r="2.23" fill="#2ca02c" stroke="#2ca02c" stroke-width="0.74"/>
<circle cx="336.42" cy="259.00" r="2.23" fill="#2ca02c" stroke="#2ca02c" stroke-width="0.74"/>
<circle cx="365.30" cy="267.00" r="2.23" fill="#2ca02c" stroke="#2ca02c" stroke-width="0.74"/>
<circle cx="389.73" cy="277.00" r="2.23" fill="#2ca02c" stroke="#2ca02c" stroke-width="0.74"/>
<circle cx="410.88" cy="283.00" r="2.23" fill="#2ca02c" stroke="#2ca02c" stroke-width="0.74"/>
<circle cx="429.55" cy="294.50" r="2.23" fill="#2ca02c" stroke="#2ca02c" stroke-width="0.74"/>
<circle cx="446.24" cy="286.00" r="2.23" fill="#2ca02c" stroke="#2ca02c" stroke-width="0.74"/>
<polyline points="301.06,230.30 336.42,253.40 365.30,263.20 389.73,272.90 410.88,285.90 429.55,298.00 446.24,309.80" fill="none" stroke="#8c564b" stroke-width="1.0" stroke-opacity="0.55" stroke-linejoin="round"/>
<circle cx="301.06" cy="230.30" r="2.23" fill="#8c564b" stroke="#8c564b" stroke-width="0.74"/>
<circle cx="336.42" cy="253.40" r="2.23" fill="#8c564b" stroke="#8c564b" stroke-width="0.74"/>
<circle cx="365.30" cy="263.20" r="2.23" fill="#8c564b" stroke="#8c564b" stroke-width="0.74"/>
<circle cx="389.73" cy="272.90" r="2.23" fill="#8c564b" stroke="#8c564b" stroke-width="0.74"/>
<circle cx="410.88" cy="285.90" r="2.23" fill="#8c564b" stroke="#8c564b" stroke-width="0.74"/>
<circle cx="429.55" cy="298.00" r="2.23" fill="#8c564b" stroke="#8c564b" stroke-width="0.74"/>
<circle cx="446.24" cy="309.80" r="2.23" fill="#8c564b" stroke="#8c564b" stroke-width="0.74"/>
<polyline points="301.06,262.20 336.42,289.30 365.30,297.90 389.73,291.60 410.88,302.10 429.55,300.00 446.24,327.60" fill="none" stroke="#d62728" stroke-width="1.0" stroke-opacity="0.55" stroke-linejoin="round"/>
<circle cx="301.06" cy="262.20" r="2.23" fill="#d62728" stroke="#d62728" stroke-width="0.74"/>
<circle cx="336.42" cy="289.30" r="2.23" fill="#d62728" stroke="#d62728" stroke-width="0.74"/>
<circle cx="365.30" cy="297.90" r="2.23" fill="#d62728" stroke="#d62728" stroke-width="0.74"/>
<circle cx="389.73" cy="291.60" r="2.23" fill="#d62728" stroke="#d62728" stroke-width="0.74"/>
<circle cx="410.88" cy="302.10" r="2.23" fill="#d62728" stroke="#d62728" stroke-width="0.74"/>
<circle cx="429.55" cy="300.00" r="2.23" fill="#d62728" stroke="#d62728" stroke-width="0.74"/>
<circle cx="446.24" cy="327.60" r="2.23" fill="#d62728" stroke="#d62728" stroke-width="0.74"/>
<polyline points="301.06,314.80 336.42,330.80 365.30,347.50 389.73,344.70 410.88,343.70 429.55,347.20 446.24,352.50" fill="none" stroke="#9467bd" stroke-width="1.0" stroke-opacity="0.55" stroke-linejoin="round"/>
<circle cx="301.06" cy="314.80" r="2.23" fill="#9467bd" stroke="#9467bd" stroke-width="0.74"/>
<circle cx="336.42" cy="330.80" r="2.23" fill="#9467bd" stroke="#9467bd" stroke-width="0.74"/>
<circle cx="365.30" cy="347.50" r="2.23" fill="#9467bd" stroke="#9467bd" stroke-width="0.74"/>
<circle cx="389.73" cy="344.70" r="2.23" fill="#9467bd" stroke="#9467bd" stroke-width="0.74"/>
<circle cx="410.88" cy="343.70" r="2.23" fill="#9467bd" stroke="#9467bd" stroke-width="0.74"/>
<circle cx="429.55" cy="347.20" r="2.23" fill="#9467bd" stroke="#9467bd" stroke-width="0.74"/>
<circle cx="446.24" cy="352.50" r="2.23" fill="#9467bd" stroke="#9467bd" stroke-width="0.74"/>
<polyline points="301.06,222.30 336.42,248.10 365.30,258.50 389.73,268.50 410.88,255.60 429.55,282.70 446.24,290.00" fill="none" stroke="#e377c2" stroke-width="1.0" stroke-opacity="0.55" stroke-linejoin="round"/>
<circle cx="301.06" cy="222.30" r="2.23" fill="#e377c2" stroke="#e377c2" stroke-width="0.74"/>
<circle cx="336.42" cy="248.10" r="2.23" fill="#e377c2" stroke="#e377c2" stroke-width="0.74"/>
<circle cx="365.30" cy="258.50" r="2.23" fill="#e377c2" stroke="#e377c2" stroke-width="0.74"/>
<circle cx="389.73" cy="268.50" r="2.23" fill="#e377c2" stroke="#e377c2" stroke-width="0.74"/>
<circle cx="410.88" cy="255.60" r="2.23" fill="#e377c2" stroke="#e377c2" stroke-width="0.74"/>
<circle cx="429.55" cy="282.70" r="2.23" fill="#e377c2" stroke="#e377c2" stroke-width="0.74"/>
<circle cx="446.24" cy="290.00" r="2.23" fill="#e377c2" stroke="#e377c2" stroke-width="0.74"/>
<polyline points="301.06,232.10 336.42,246.00 365.30,262.70 389.73,293.00 410.88,291.60 429.55,317.00 446.24,321.10" fill="none" stroke="#7f7f7f" stroke-width="1.0" stroke-opacity="0.55" stroke-linejoin="round"/>
<circle cx="301.06" cy="232.10" r="2.23" fill="#7f7f7f" stroke="#7f7f7f" stroke-width="0.74"/>
<circle cx="336.42" cy="246.00" r="2.23" fill="#7f7f7f" stroke="#7f7f7f" stroke-width="0.74"/>
<circle cx="365.30" cy="262.70" r="2.23" fill="#7f7f7f" stroke="#7f7f7f" stroke-width="0.74"/>
<circle cx="389.73" cy="293.00" r="2.23" fill="#7f7f7f" stroke="#7f7f7f" stroke-width="0.74"/>
<circle cx="410.88" cy="291.60" r="2.23" fill="#7f7f7f" stroke="#7f7f7f" stroke-width="0.74"/>
<circle cx="429.55" cy="317.00" r="2.23" fill="#7f7f7f" stroke="#7f7f7f" stroke-width="0.74"/>
<circle cx="446.24" cy="321.10" r="2.23" fill="#7f7f7f" stroke="#7f7f7f" stroke-width="0.74"/>
<polyline points="301.06,211.30 336.42,227.70 365.30,239.20 389.73,268.40 410.88,269.30 429.55,280.00 446.24,281.80" fill="none" stroke="#1f77b4" stroke-width="1.0" stroke-opacity="0.55" stroke-linejoin="round"/>
<path d="M301.06 209.07L303.29 213.53L298.83 213.53Z" fill="#1f77b4" stroke="#1f77b4" stroke-width="0.74" stroke-linejoin="miter"/>
<path d="M336.42 225.47L338.65 229.93L334.19 229.93Z" fill="#1f77b4" stroke="#1f77b4" stroke-width="0.74" stroke-linejoin="miter"/>
<path d="M365.30 236.97L367.53 241.43L363.07 241.43Z" fill="#1f77b4" stroke="#1f77b4" stroke-width="0.74" stroke-linejoin="miter"/>
<path d="M389.73 266.17L391.96 270.63L387.50 270.63Z" fill="#1f77b4" stroke="#1f77b4" stroke-width="0.74" stroke-linejoin="miter"/>
<path d="M410.88 267.07L413.11 271.53L408.65 271.53Z" fill="#1f77b4" stroke="#1f77b4" stroke-width="0.74" stroke-linejoin="miter"/>
<path d="M429.55 277.77L431.78 282.23L427.32 282.23Z" fill="#1f77b4" stroke="#1f77b4" stroke-width="0.74" stroke-linejoin="miter"/>
<path d="M446.24 279.57L448.47 284.03L444.01 284.03Z" fill="#1f77b4" stroke="#1f77b4" stroke-width="0.74" stroke-linejoin="miter"/>
<polyline points="301.06,227.00 336.42,258.20 365.30,288.40 389.73,277.30 410.88,280.00 429.55,294.50 446.24,302.00" fill="none" stroke="#ff7f0e" stroke-width="1.0" stroke-opacity="0.55" stroke-linejoin="round"/>
<path d="M301.06 224.77L303.29 229.23L298.83 229.23Z" fill="#ff7f0e" stroke="#ff7f0e" stroke-width="0.74" stroke-linejoin="miter"/>
<path d="M336.42 255.97L338.65 260.43L334.19 260.43Z" fill="#ff7f0e" stroke="#ff7f0e" stroke-width="0.74" stroke-linejoin="miter"/>
<path d="M365.30 286.17L367.53 290.63L363.07 290.63Z" fill="#ff7f0e" stroke="#ff7f0e" stroke-width="0.74" stroke-linejoin="miter"/>
<path d="M389.73 275.07L391.96 279.53L387.50 279.53Z" fill="#ff7f0e" stroke="#ff7f0e" stroke-width="0.74" stroke-linejoin="miter"/>
<path d="M410.88 277.77L413.11 282.23L408.65 282.23Z" fill="#ff7f0e" stroke="#ff7f0e" stroke-width="0.74" stroke-linejoin="miter"/>
<path d="M429.55 292.27L431.78 296.73L427.32 296.73Z" fill="#ff7f0e" stroke="#ff7f0e" stroke-width="0.74" stroke-linejoin="miter"/>
<path d="M446.24 299.77L448.47 304.23L444.01 304.23Z" fill="#ff7f0e" stroke="#ff7f0e" stroke-width="0.74" stroke-linejoin="miter"/>
<polyline points="301.06,242.40 336.42,271.00 365.30,296.40 389.73,270.00 410.88,312.10 429.55,285.00 446.24,298.60" fill="none" stroke="#2ca02c" stroke-width="1.0" stroke-opacity="0.55" stroke-linejoin="round"/>
<path d="M301.06 240.17L303.29 244.63L298.83 244.63Z" fill="#2ca02c" stroke="#2ca02c" stroke-width="0.74" stroke-linejoin="miter"/>
<path d="M336.42 268.77L338.65 273.23L334.19 273.23Z" fill="#2ca02c" stroke="#2ca02c" stroke-width="0.74" stroke-linejoin="miter"/>
<path d="M365.30 294.17L367.53 298.63L363.07 298.63Z" fill="#2ca02c" stroke="#2ca02c" stroke-width="0.74" stroke-linejoin="miter"/>
<path d="M389.73 267.77L391.96 272.23L387.50 272.23Z" fill="#2ca02c" stroke="#2ca02c" stroke-width="0.74" stroke-linejoin="miter"/>
<path d="M410.88 309.87L413.11 314.33L408.65 314.33Z" fill="#2ca02c" stroke="#2ca02c" stroke-width="0.74" stroke-linejoin="miter"/>
<path d="M429.55 282.77L431.78 287.23L427.32 287.23Z" fill="#2ca02c" stroke="#2ca02c" stroke-width="0.74" stroke-linejoin="miter"/>
<path d="M446.24 296.37L448.47 300.83L444.01 300.83Z" fill="#2ca02c" stroke="#2ca02c" stroke-width="0.74" stroke-linejoin="miter"/>
<polyline points="301.06,235.70 336.42,271.70 365.30,263.00 389.73,282.10 410.88,280.00 429.55,309.00 446.24,295.00" fill="none" stroke="#8c564b" stroke-width="1.0" stroke-opacity="0.55" stroke-linejoin="round"/>
<path d="M301.06 233.47L303.29 237.93L298.83 237.93Z" fill="#8c564b" stroke="#8c564b" stroke-width="0.74" stroke-linejoin="miter"/>
<path d="M336.42 269.47L338.65 273.93L334.19 273.93Z" fill="#8c564b" stroke="#8c564b" stroke-width="0.74" stroke-linejoin="miter"/>
<path d="M365.30 260.77L367.53 265.23L363.07 265.23Z" fill="#8c564b" stroke="#8c564b" stroke-width="0.74" stroke-linejoin="miter"/>
<path d="M389.73 279.87L391.96 284.33L387.50 284.33Z" fill="#8c564b" stroke="#8c564b" stroke-width="0.74" stroke-linejoin="miter"/>
<path d="M410.88 277.77L413.11 282.23L408.65 282.23Z" fill="#8c564b" stroke="#8c564b" stroke-width="0.74" stroke-linejoin="miter"/>
<path d="M429.55 306.77L431.78 311.23L427.32 311.23Z" fill="#8c564b" stroke="#8c564b" stroke-width="0.74" stroke-linejoin="miter"/>
<path d="M446.24 292.77L448.47 297.23L444.01 297.23Z" fill="#8c564b" stroke="#8c564b" stroke-width="0.74" stroke-linejoin="miter"/>
<polyline points="301.06,267.00 336.42,289.30 365.30,293.80 389.73,290.00 410.88,300.00 429.55,296.00 446.24,300.60" fill="none" stroke="#d62728" stroke-width="1.0" stroke-opacity="0.55" stroke-linejoin="round"/>
<path d="M301.06 264.77L303.29 269.23L298.83 269.23Z" fill="#d62728" stroke="#d62728" stroke-width="0.74" stroke-linejoin="miter"/>
<path d="M336.42 287.07L338.65 291.53L334.19 291.53Z" fill="#d62728" stroke="#d62728" stroke-width="0.74" stroke-linejoin="miter"/>
<path d="M365.30 291.57L367.53 296.03L363.07 296.03Z" fill="#d62728" stroke="#d62728" stroke-width="0.74" stroke-linejoin="miter"/>
<path d="M389.73 287.77L391.96 292.23L387.50 292.23Z" fill="#d62728" stroke="#d62728" stroke-width="0.74" stroke-linejoin="miter"/>
<path d="M410.88 297.77L413.11 302.23L408.65 302.23Z" fill="#d62728" stroke="#d62728" stroke-width="0.74" stroke-linejoin="miter"/>
<path d="M429.55 293.77L431.78 298.23L427.32 298.23Z" fill="#d62728" stroke="#d62728" stroke-width="0.74" stroke-linejoin="miter"/>
<path d="M446.24 298.37L448.47 302.83L444.01 302.83Z" fill="#d62728" stroke="#d62728" stroke-width="0.74" stroke-linejoin="miter"/>
<polyline points="301.06,226.80 336.42,245.00 365.30,267.40 389.73,257.20 410.88,280.00 429.55,290.00 446.24,290.70" fill="none" stroke="#9467bd" stroke-width="1.0" stroke-opacity="0.55" stroke-linejoin="round"/>
<path d="M301.06 224.57L303.29 229.03L298.83 229.03Z" fill="#9467bd" stroke="#9467bd" stroke-width="0.74" stroke-linejoin="miter"/>
<path d="M336.42 242.77L338.65 247.23L334.19 247.23Z" fill="#9467bd" stroke="#9467bd" stroke-width="0.74" stroke-linejoin="miter"/>
<path d="M365.30 265.17L367.53 269.63L363.07 269.63Z" fill="#9467bd" stroke="#9467bd" stroke-width="0.74" stroke-linejoin="miter"/>
<path d="M389.73 254.97L391.96 259.43L387.50 259.43Z" fill="#9467bd" stroke="#9467bd" stroke-width="0.74" stroke-linejoin="miter"/>
<path d="M410.88 277.77L413.11 282.23L408.65 282.23Z" fill="#9467bd" stroke="#9467bd" stroke-width="0.74" stroke-linejoin="miter"/>
<path d="M429.55 287.77L431.78 292.23L427.32 292.23Z" fill="#9467bd" stroke="#9467bd" stroke-width="0.74" stroke-linejoin="miter"/>
<path d="M446.24 288.47L448.47 292.93L444.01 292.93Z" fill="#9467bd" stroke="#9467bd" stroke-width="0.74" stroke-linejoin="miter"/>
<polyline points="301.06,267.40 336.42,287.00 365.30,309.40 389.73,301.20 410.88,295.90 429.55,313.20 446.24,314.20" fill="none" stroke="#e377c2" stroke-width="1.0" stroke-opacity="0.55" stroke-linejoin="round"/>
<path d="M301.06 265.17L303.29 269.63L298.83 269.63Z" fill="#e377c2" stroke="#e377c2" stroke-width="0.74" stroke-linejoin="miter"/>
<path d="M336.42 284.77L338.65 289.23L334.19 289.23Z" fill="#e377c2" stroke="#e377c2" stroke-width="0.74" stroke-linejoin="miter"/>
<path d="M365.30 307.17L367.53 311.63L363.07 311.63Z" fill="#e377c2" stroke="#e377c2" stroke-width="0.74" stroke-linejoin="miter"/>
<path d="M389.73 298.97L391.96 303.43L387.50 303.43Z" fill="#e377c2" stroke="#e377c2" stroke-width="0.74" stroke-linejoin="miter"/>
<path d="M410.88 293.67L413.11 298.13L408.65 298.13Z" fill="#e377c2" stroke="#e377c2" stroke-width="0.74" stroke-linejoin="miter"/>
<path d="M429.55 310.97L431.78 315.43L427.32 315.43Z" fill="#e377c2" stroke="#e377c2" stroke-width="0.74" stroke-linejoin="miter"/>
<path d="M446.24 311.97L448.47 316.43L444.01 316.43Z" fill="#e377c2" stroke="#e377c2" stroke-width="0.74" stroke-linejoin="miter"/>
<polyline points="301.06,232.10 336.42,241.00 365.30,258.80 389.73,272.90 410.88,290.50 429.55,298.40 446.24,285.90" fill="none" stroke="#7f7f7f" stroke-width="1.0" stroke-opacity="0.55" stroke-linejoin="round"/>
<path d="M301.06 229.87L303.29 234.33L298.83 234.33Z" fill="#7f7f7f" stroke="#7f7f7f" stroke-width="0.74" stroke-linejoin="miter"/>
<path d="M336.42 238.77L338.65 243.23L334.19 243.23Z" fill="#7f7f7f" stroke="#7f7f7f" stroke-width="0.74" stroke-linejoin="miter"/>
<path d="M365.30 256.57L367.53 261.03L363.07 261.03Z" fill="#7f7f7f" stroke="#7f7f7f" stroke-width="0.74" stroke-linejoin="miter"/>
<path d="M389.73 270.67L391.96 275.13L387.50 275.13Z" fill="#7f7f7f" stroke="#7f7f7f" stroke-width="0.74" stroke-linejoin="miter"/>
<path d="M410.88 288.27L413.11 292.73L408.65 292.73Z" fill="#7f7f7f" stroke="#7f7f7f" stroke-width="0.74" stroke-linejoin="miter"/>
<path d="M429.55 296.17L431.78 300.63L427.32 300.63Z" fill="#7f7f7f" stroke="#7f7f7f" stroke-width="0.74" stroke-linejoin="miter"/>
<path d="M446.24 283.67L448.47 288.13L444.01 288.13Z" fill="#7f7f7f" stroke="#7f7f7f" stroke-width="0.74" stroke-linejoin="miter"/>
<polyline points="301.06,252.60 336.42,278.20 365.30,279.50 389.73,276.00 410.88,275.00 429.55,276.00 446.24,283.00" fill="none" stroke="#1f77b4" stroke-width="1.0" stroke-opacity="0.55" stroke-linejoin="round"/>
<path d="M298.83 250.37L303.29 254.83M298.83 254.83L303.29 250.37" stroke="#1f77b4" stroke-width="0.9" fill="none"/>
<path d="M334.19 275.97L338.65 280.43M334.19 280.43L338.65 275.97" stroke="#1f77b4" stroke-width="0.9" fill="none"/>
<path d="M363.07 277.27L367.53 281.73M363.07 281.73L367.53 277.27" stroke="#1f77b4" stroke-width="0.9" fill="none"/>
<path d="M387.50 273.77L391.96 278.23M387.50 278.23L391.96 273.77" stroke="#1f77b4" stroke-width="0.9" fill="none"/>
<path d="M408.65 272.77L413.11 277.23M408.65 277.23L413.11 272.77" stroke="#1f77b4" stroke-width="0.9" fill="none"/>
<path d="M427.32 273.77L431.78 278.23M427.32 278.23L431.78 273.77" stroke="#1f77b4" stroke-width="0.9" fill="none"/>
<path d="M444.01 280.77L448.47 285.23M444.01 285.23L448.47 280.77" stroke="#1f77b4" stroke-width="0.9" fill="none"/>
</g>
<g>
<polyline points="532.46,268.00 556.66,309.00 580.85,296.00 605.05,300.00 629.25,347.50 653.44,312.00 677.64,317.30" fill="none" stroke="#1f77b4" stroke-width="1.0" stroke-opacity="0.55" stroke-linejoin="round"/>
<circle cx="532.46" cy="268.00" r="2.23" fill="#1f77b4" stroke="#1f77b4" stroke-width="0.74"/>
<circle cx="556.66" cy="309.00" r="2.23" fill="#1f77b4" stroke="#1f77b4" stroke-width="0.74"/>
<circle cx="580.85" cy="296.00" r="2.23" fill="#1f77b4" stroke="#1f77b4" stroke-width="0.74"/>
<circle cx="605.05" cy="300.00" r="2.23" fill="#1f77b4" stroke="#1f77b4" stroke-width="0.74"/>
<circle cx="629.25" cy="347.50" r="2.23" fill="#1f77b4" stroke="#1f77b4" stroke-width="0.74"/>
<circle cx="653.44" cy="312.00" r="2.23" fill="#1f77b4" stroke="#1f77b4" stroke-width="0.74"/>
<circle cx="677.64" cy="317.30" r="2.23" fill="#1f77b4" stroke="#1f77b4" stroke-width="0.74"/>
<polyline points="532.46,268.00 556.66,314.00 580.85,269.60 605.05,284.50 629.25,270.00 653.44,284.00 677.64,292.00" fill="none" stroke="#ff7f0e" stroke-width="1.0" stroke-opacity="0.55" stroke-linejoin="round"/>
<circle cx="532.46" cy="268.00" r="2.23" fill="#ff7f0e" stroke="#ff7f0e" stroke-width="0.74"/>
<circle cx="556.66" cy="314.00" r="2.23" fill="#ff7f0e" stroke="#ff7f0e" stroke-width="0.74"/>
<circle cx="580.85" cy="269.60" r="2.23" fill="#ff7f0e" stroke="#ff7f0e" stroke-width="0.74"/>
<circle cx="605.05" cy="284.50" r="2.23" fill="#ff7f0e" stroke="#ff7f0e" stroke-width="0.74"/>
<circle cx="629.25" cy="270.00" r="2.23" fill="#ff7f0e" stroke="#ff7f0e" stroke-width="0.74"/>
<circle cx="653.44" cy="284.00" r="2.23" fill="#ff7f0e" stroke="#ff7f0e" stroke-width="0.74"/>
<circle cx="677.64" cy="292.00" r="2.23" fill="#ff7f0e" stroke="#ff7f0e" stroke-width="0.74"/>
<polyline points="532.46,271.00 556.66,281.60 580.85,272.20 605.05,254.30 629.25,259.20 653.44,281.30 677.64,280.00" fill="none" stroke="#2ca02c" stroke-width="1.0" stroke-opacity="0.55" stroke-linejoin="round"/>
<circle cx="532.46" cy="271.00" r="2.23" fill="#2ca02c" stroke="#2ca02c" stroke-width="0.74"/>
<circle cx="556.66" cy="281.60" r="2.23" fill="#2ca02c" stroke="#2ca02c" stroke-width="0.74"/>
<circle cx="580.85" cy="272.20" r="2.23" fill="#2ca02c" stroke="#2ca02c" stroke-width="0.74"/>
<circle cx="605.05" cy="254.30" r="2.23" fill="#2ca02c" stroke="#2ca02c" stroke-width="0.74"/>
<circle cx="629.25" cy="259.20" r="2.23" fill="#2ca02c" stroke="#2ca02c" stroke-width="0.74"/>
<circle cx="653.44" cy="281.30" r="2.23" fill="#2ca02c" stroke="#2ca02c" stroke-width="0.74"/>
<circle cx="677.64" cy="280.00" r="2.23" fill="#2ca02c" stroke="#2ca02c" stroke-width="0.74"/>
<polyline points="532.46,315.00 556.66,316.70 580.85,314.40 605.05,299.00 629.25,307.20 653.44,306.00 677.64,308.00" fill="none" stroke="#8c564b" stroke-width="1.0" stroke-opacity="0.55" stroke-linejoin="round"/>
<circle cx="532.46" cy="315.00" r="2.23" fill="#8c564b" stroke="#8c564b" stroke-width="0.74"/>
<circle cx="556.66" cy="316.70" r="2.23" fill="#8c564b" stroke="#8c564b" stroke-width="0.74"/>
<circle cx="580.85" cy="314.40" r="2.23" fill="#8c564b" stroke="#8c564b" stroke-width="0.74"/>
<circle cx="605.05" cy="299.00" r="2.23" fill="#8c564b" stroke="#8c564b" stroke-width="0.74"/>
<circle cx="629.25" cy="307.20" r="2.23" fill="#8c564b" stroke="#8c564b" stroke-width="0.74"/>
<circle cx="653.44" cy="306.00" r="2.23" fill="#8c564b" stroke="#8c564b" stroke-width="0.74"/>
<circle cx="677.64" cy="308.00" r="2.23" fill="#8c564b" stroke="#8c564b" stroke-width="0.74"/>
<polyline points="532.46,276.30 556.66,268.50 580.85,315.00 605.05,306.80 629.25,282.70 653.44,266.10 677.64,302.00" fill="none" stroke="#d62728" stroke-width="1.0" stroke-opacity="0.55" stroke-linejoin="round"/>
<circle cx="532.46" cy="276.30" r="2.23" fill="#d62728" stroke="#d62728" stroke-width="0.74"/>
<circle cx="556.66" cy="268.50" r="2.23" fill="#d62728" stroke="#d62728" stroke-width="0.74"/>
<circle cx="580.85" cy="315.00" r="2.23" fill="#d62728" stroke="#d62728" stroke-width="0.74"/>
<circle cx="605.05" cy="306.80" r="2.23" fill="#d62728" stroke="#d62728" stroke-width="0.74"/>
<circle cx="629.25" cy="282.70" r="2.23" fill="#d62728" stroke="#d62728" stroke-width="0.74"/>
<circle cx="653.44" cy="266.10" r="2.23" fill="#d62728" stroke="#d62728" stroke-width="0.74"/>
<circle cx="677.64" cy="302.00" r="2.23" fill="#d62728" stroke="#d62728" stroke-width="0.74"/>
<polyline points="532.46,262.10 556.66,289.10 580.85,262.40 605.05,280.50 629.25,302.70 653.44,285.30 677.64,293.90" fill="none" stroke="#9467bd" stroke-width="1.0" stroke-opacity="0.55" stroke-linejoin="round"/>
<circle cx="532.46" cy="262.10" r="2.23" fill="#9467bd" stroke="#9467bd" stroke-width="0.74"/>
<circle cx="556.66" cy="289.10" r="2.23" fill="#9467bd" stroke="#9467bd" stroke-width="0.74"/>
<circle cx="580.85" cy="262.40" r="2.23" fill="#9467bd" stroke="#9467bd" stroke-width="0.74"/>
<circle cx="605.05" cy="280.50" r="2.23" fill="#9467bd" stroke="#9467bd" stroke-width="0.74"/>
<circle cx="629.25" cy="302.70" r="2.23" fill="#9467bd" stroke="#9467bd" stroke-width="0.74"/>
<circle cx="653.44" cy="285.30" r="2.23" fill="#9467bd" stroke="#9467bd" stroke-width="0.74"/>
<circle cx="677.64" cy="293.90" r="2.23" fill="#9467bd" stroke="#9467bd" stroke-width="0.74"/>
<polyline points="532.46,219.80 556.66,217.00 580.85,208.10 605.05,214.20 629.25,230.50 653.44,253.60 677.64,223.40" fill="none" stroke="#e377c2" stroke-width="1.0" stroke-opacity="0.55" stroke-linejoin="round"/>
<circle cx="532.46" cy="219.80" r="2.23" fill="#e377c2" stroke="#e377c2" stroke-width="0.74"/>
<circle cx="556.66" cy="217.00" r="2.23" fill="#e377c2" stroke="#e377c2" stroke-width="0.74"/>
<circle cx="580.85" cy="208.10" r="2.23" fill="#e377c2" stroke="#e377c2" stroke-width="0.74"/>
<circle cx="605.05" cy="214.20" r="2.23" fill="#e377c2" stroke="#e377c2" stroke-width="0.74"/>
<circle cx="629.25" cy="230.50" r="2.23" fill="#e377c2" stroke="#e377c2" stroke-width="0.74"/>
<circle cx="653.44" cy="253.60" r="2.23" fill="#e377c2" stroke="#e377c2" stroke-width="0.74"/>
<circle cx="677.64" cy="223.40" r="2.23" fill="#e377c2" stroke="#e377c2" stroke-width="0.74"/>
<polyline points="532.46,294.40 556.66,342.60 580.85,314.40 605.05,271.50 629.25,323.20 653.44,322.70 677.64,352.50" fill="none" stroke="#7f7f7f" stroke-width="1.0" stroke-opacity="0.55" stroke-linejoin="round"/>
<circle cx="532.46" cy="294.40" r="2.23" fill="#7f7f7f" stroke="#7f7f7f" stroke-width="0.74"/>
<circle cx="556.66" cy="342.60" r="2.23" fill="#7f7f7f" stroke="#7f7f7f" stroke-width="0.74"/>
<circle cx="580.85" cy="314.40" r="2.23" fill="#7f7f7f" stroke="#7f7f7f" stroke-width="0.74"/>
<circle cx="605.05" cy="271.50" r="2.23" fill="#7f7f7f" stroke="#7f7f7f" stroke-width="0.74"/>
<circle cx="629.25" cy="323.20" r="2.23" fill="#7f7f7f" stroke="#7f7f7f" stroke-width="0.74"/>
<circle cx="653.44" cy="322.70" r="2.23" fill="#7f7f7f" stroke="#7f7f7f" stroke-width="0.74"/>
<circle cx="677.64" cy="352.50" r="2.23" fill="#7f7f7f" stroke="#7f7f7f" stroke-width="0.74"/>
<polyline points="532.46,266.90 556.66,289.10 580.85,278.40 605.05,302.40 629.25,290.10 653.44,290.00 677.64,265.90" fill="none" stroke="#1f77b4" stroke-width="1.0" stroke-opacity="0.55" stroke-linejoin="round"/>
<path d="M532.46 264.67L534.69 269.13L530.23 269.13Z" fill="#1f77b4" stroke="#1f77b4" stroke-width="0.74" stroke-linejoin="miter"/>
<path d="M556.66 286.87L558.89 291.33L554.43 291.33Z" fill="#1f77b4" stroke="#1f77b4" stroke-width="0.74" stroke-linejoin="miter"/>
<path d="M580.85 276.17L583.08 280.63L578.62 280.63Z" fill="#1f77b4" stroke="#1f77b4" stroke-width="0.74" stroke-linejoin="miter"/>
<path d="M605.05 300.17L607.28 304.63L602.82 304.63Z" fill="#1f77b4" stroke="#1f77b4" stroke-width="0.74" stroke-linejoin="miter"/>
<path d="M629.25 287.87L631.48 292.33L627.02 292.33Z" fill="#1f77b4" stroke="#1f77b4" stroke-width="0.74" stroke-linejoin="miter"/>
<path d="M653.44 287.77L655.67 292.23L651.21 292.23Z" fill="#1f77b4" stroke="#1f77b4" stroke-width="0.74" stroke-linejoin="miter"/>
<path d="M677.64 263.67L679.87 268.13L675.41 268.13Z" fill="#1f77b4" stroke="#1f77b4" stroke-width="0.74" stroke-linejoin="miter"/>
<polyline points="532.46,227.70 556.66,244.70 580.85,252.00 605.05,230.50 629.25,243.20 653.44,254.40 677.64,249.30" fill="none" stroke="#ff7f0e" stroke-width="1.0" stroke-opacity="0.55" stroke-linejoin="round"/>
<path d="M532.46 225.47L534.69 229.93L530.23 229.93Z" fill="#ff7f0e" stroke="#ff7f0e" stroke-width="0.74" stroke-linejoin="miter"/>
<path d="M556.66 242.47L558.89 246.93L554.43 246.93Z" fill="#ff7f0e" stroke="#ff7f0e" stroke-width="0.74" stroke-linejoin="miter"/>
<path d="M580.85 249.77L583.08 254.23L578.62 254.23Z" fill="#ff7f0e" stroke="#ff7f0e" stroke-width="0.74" stroke-linejoin="miter"/>
<path d="M605.05 228.27L607.28 232.73L602.82 232.73Z" fill="#ff7f0e" stroke="#ff7f0e" stroke-width="0.74" stroke-linejoin="miter"/>
<path d="M629.25 240.97L631.48 245.43L627.02 245.43Z" fill="#ff7f0e" stroke="#ff7f0e" stroke-width="0.74" stroke-linejoin="miter"/>
<path d="M653.44 252.17L655.67 256.63L651.21 256.63Z" fill="#ff7f0e" stroke="#ff7f0e" stroke-width="0.74" stroke-linejoin="miter"/>
<path d="M677.64 247.07L679.87 251.53L675.41 251.53Z" fill="#ff7f0e" stroke="#ff7f0e" stroke-width="0.74" stroke-linejoin="miter"/>
<polyline points="532.46,264.20 556.66,297.60 580.85,274.00 605.05,275.80 629.25,268.80 653.44,268.50 677.64,277.00" fill="none" stroke="#2ca02c" stroke-width="1.0" stroke-opacity="0.55" stroke-linejoin="round"/>
<path d="M532.46 261.97L534.69 266.43L530.23 266.43Z" fill="#2ca02c" stroke="#2ca02c" stroke-width="0.74" stroke-linejoin="miter"/>
<path d="M556.66 295.37L558.89 299.83L554.43 299.83Z" fill="#2ca02c" stroke="#2ca02c" stroke-width="0.74" stroke-linejoin="miter"/>
<path d="M580.85 271.77L583.08 276.23L578.62 276.23Z" fill="#2ca02c" stroke="#2ca02c" stroke-width="0.74" stroke-linejoin="miter"/>
<path d="M605.05 273.57L607.28 278.03L602.82 278.03Z" fill="#2ca02c" stroke="#2ca02c" stroke-width="0.74" stroke-linejoin="miter"/>
<path d="M629.25 266.57L631.48 271.03L627.02 271.03Z" fill="#2ca02c" stroke="#2ca02c" stroke-width="0.74" stroke-linejoin="miter"/>
<path d="M653.44 266.27L655.67 270.73L651.21 270.73Z" fill="#2ca02c" stroke="#2ca02c" stroke-width="0.74" stroke-linejoin="miter"/>
<path d="M677.64 274.77L679.87 279.23L675.41 279.23Z" fill="#2ca02c" stroke="#2ca02c" stroke-width="0.74" stroke-linejoin="miter"/>
<polyline points="532.46,321.50 556.66,328.20 580.85,328.20 605.05,313.60 629.25,331.20 653.44,308.00 677.64,311.50" fill="none" stroke="#8c564b" stroke-width="1.0" stroke-opacity="0.55" stroke-linejoin="round"/>
<path d="M532.46 319.27L534.69 323.73L530.23 323.73Z" fill="#8c564b" stroke="#8c564b" stroke-width="0.74" stroke-linejoin="miter"/>
<path d="M556.66 325.97L558.89 330.43L554.43 330.43Z" fill="#8c564b" stroke="#8c564b" stroke-width="0.74" stroke-linejoin="miter"/>
<path d="M580.85 325.97L583.08 330.43L578.62 330.43Z" fill="#8c564b" stroke="#8c564b" stroke-width="0.74" stroke-linejoin="miter"/>
<path d="M605.05 311.37L607.28 315.83L602.82 315.83Z" fill="#8c564b" stroke="#8c564b" stroke-width="0.74" stroke-linejoin="miter"/>
<path d="M629.25 328.97L631.48 333.43L627.02 333.43Z" fill="#8c564b" stroke="#8c564b" stroke-width="0.74" stroke-linejoin="miter"/>
<path d="M653.44 305.77L655.67 310.23L651.21 310.23Z" fill="#8c564b" stroke="#8c564b" stroke-width="0.74" stroke-linejoin="miter"/>
<path d="M677.64 309.27L679.87 313.73L675.41 313.73Z" fill="#8c564b" stroke="#8c564b" stroke-width="0.74" stroke-linejoin="miter"/>
<polyline points="532.46,314.90 556.66,314.90 580.85,296.60 605.05,288.80 629.25,282.00 653.44,292.80 677.64,304.00" fill="none" stroke="#d62728" stroke-width="1.0" stroke-opacity="0.55" stroke-linejoin="round"/>
<path d="M532.46 312.67L534.69 317.13L530.23 317.13Z" fill="#d62728" stroke="#d62728" stroke-width="0.74" stroke-linejoin="miter"/>
<path d="M556.66 312.67L558.89 317.13L554.43 317.13Z" fill="#d62728" stroke="#d62728" stroke-width="0.74" stroke-linejoin="miter"/>
<path d="M580.85 294.37L583.08 298.83L578.62 298.83Z" fill="#d62728" stroke="#d62728" stroke-width="0.74" stroke-linejoin="miter"/>
<path d="M605.05 286.57L607.28 291.03L602.82 291.03Z" fill="#d62728" stroke="#d62728" stroke-width="0.74" stroke-linejoin="miter"/>
<path d="M629.25 279.77L631.48 284.23L627.02 284.23Z" fill="#d62728" stroke="#d62728" stroke-width="0.74" stroke-linejoin="miter"/>
<path d="M653.44 290.57L655.67 295.03L651.21 295.03Z" fill="#d62728" stroke="#d62728" stroke-width="0.74" stroke-linejoin="miter"/>
<path d="M677.64 301.77L679.87 306.23L675.41 306.23Z" fill="#d62728" stroke="#d62728" stroke-width="0.74" stroke-linejoin="miter"/>
<polyline points="532.46,244.40 556.66,244.40 580.85,240.80 605.05,257.30 629.25,230.50 653.44,250.70 677.64,266.10" fill="none" stroke="#9467bd" stroke-width="1.0" stroke-opacity="0.55" stroke-linejoin="round"/>
<path d="M532.46 242.17L534.69 246.63L530.23 246.63Z" fill="#9467bd" stroke="#9467bd" stroke-width="0.74" stroke-linejoin="miter"/>
<path d="M556.66 242.17L558.89 246.63L554.43 246.63Z" fill="#9467bd" stroke="#9467bd" stroke-width="0.74" stroke-linejoin="miter"/>
<path d="M580.85 238.57L583.08 243.03L578.62 243.03Z" fill="#9467bd" stroke="#9467bd" stroke-width="0.74" stroke-linejoin="miter"/>
<path d="M605.05 255.07L607.28 259.53L602.82 259.53Z" fill="#9467bd" stroke="#9467bd" stroke-width="0.74" stroke-linejoin="miter"/>
<path d="M629.25 228.27L631.48 232.73L627.02 232.73Z" fill="#9467bd" stroke="#9467bd" stroke-width="0.74" stroke-linejoin="miter"/>
<path d="M653.44 248.47L655.67 252.93L651.21 252.93Z" fill="#9467bd" stroke="#9467bd" stroke-width="0.74" stroke-linejoin="miter"/>
<path d="M677.64 263.87L679.87 268.33L675.41 268.33Z" fill="#9467bd" stroke="#9467bd" stroke-width="0.74" stroke-linejoin="miter"/>
<polyline points="532.46,215.20 556.66,233.00 580.85,240.10 605.05,226.60 629.25,248.30 653.44,253.50 677.64,253.30" fill="none" stroke="#e377c2" stroke-width="1.0" stroke-opacity="0.55" stroke-linejoin="round"/>
<path d="M532.46 212.97L534.69 217.43L530.23 217.43Z" fill="#e377c2" stroke="#e377c2" stroke-width="0.74" stroke-linejoin="miter"/>
<path d="M556.66 230.77L558.89 235.23L554.43 235.23Z" fill="#e377c2" stroke="#e377c2" stroke-width="0.74" stroke-linejoin="miter"/>
<path d="M580.85 237.87L583.08 242.33L578.62 242.33Z" fill="#e377c2" stroke="#e377c2" stroke-width="0.74" stroke-linejoin="miter"/>
<path d="M605.05 224.37L607.28 228.83L602.82 228.83Z" fill="#e377c2" stroke="#e377c2" stroke-width="0.74" stroke-linejoin="miter"/>
<path d="M629.25 246.07L631.48 250.53L627.02 250.53Z" fill="#e377c2" stroke="#e377c2" stroke-width="0.74" stroke-linejoin="miter"/>
<path d="M653.44 251.27L655.67 255.73L651.21 255.73Z" fill="#e377c2" stroke="#e377c2" stroke-width="0.74" stroke-linejoin="miter"/>
<path d="M677.64 251.07L679.87 255.53L675.41 255.53Z" fill="#e377c2" stroke="#e377c2" stroke-width="0.74" stroke-linejoin="miter"/>
<polyline points="532.46,327.30 556.66,313.50 580.85,321.10 605.05,285.00 629.25,296.50 653.44,289.30 677.64,273.30" fill="none" stroke="#7f7f7f" stroke-width="1.0" stroke-opacity="0.55" stroke-linejoin="round"/>
<path d="M532.46 325.07L534.69 329.53L530.23 329.53Z" fill="#7f7f7f" stroke="#7f7f7f" stroke-width="0.74" stroke-linejoin="miter"/>
<path d="M556.66 311.27L558.89 315.73L554.43 315.73Z" fill="#7f7f7f" stroke="#7f7f7f" stroke-width="0.74" stroke-linejoin="miter"/>
<path d="M580.85 318.87L583.08 323.33L578.62 323.33Z" fill="#7f7f7f" stroke="#7f7f7f" stroke-width="0.74" stroke-linejoin="miter"/>
<path d="M605.05 282.77L607.28 287.23L602.82 287.23Z" fill="#7f7f7f" stroke="#7f7f7f" stroke-width="0.74" stroke-linejoin="miter"/>
<path d="M629.25 294.27L631.48 298.73L627.02 298.73Z" fill="#7f7f7f" stroke="#7f7f7f" stroke-width="0.74" stroke-linejoin="miter"/>
<path d="M653.44 287.07L655.67 291.53L651.21 291.53Z" fill="#7f7f7f" stroke="#7f7f7f" stroke-width="0.74" stroke-linejoin="miter"/>
<path d="M677.64 271.07L679.87 275.53L675.41 275.53Z" fill="#7f7f7f" stroke="#7f7f7f" stroke-width="0.74" stroke-linejoin="miter"/>
<polyline points="532.46,246.50 556.66,267.80 580.85,296.60 605.05,305.10 629.25,328.50 653.44,315.20 677.64,315.20" fill="none" stroke="#1f77b4" stroke-width="1.0" stroke-opacity="0.55" stroke-linejoin="round"/>
<path d="M530.23 244.27L534.69 248.73M530.23 248.73L534.69 244.27" stroke="#1f77b4" stroke-width="0.9" fill="none"/>
<path d="M554.43 265.57L558.89 270.03M554.43 270.03L558.89 265.57" stroke="#1f77b4" stroke-width="0.9" fill="none"/>
<path d="M578.62 294.37L583.08 298.83M578.62 298.83L583.08 294.37" stroke="#1f77b4" stroke-width="0.9" fill="none"/>
<path d="M602.82 302.87L607.28 307.33M602.82 307.33L607.28 302.87" stroke="#1f77b4" stroke-width="0.9" fill="none"/>
<path d="M627.02 326.27L631.48 330.73M627.02 330.73L631.48 326.27" stroke="#1f77b4" stroke-width="0.9" fill="none"/>
<path d="M651.21 312.97L655.67 317.43M651.21 317.43L655.67 312.97" stroke="#1f77b4" stroke-width="0.9" fill="none"/>
<path d="M675.41 312.97L679.87 317.43M675.41 317.43L679.87 312.97" stroke="#1f77b4" stroke-width="0.9" fill="none"/>
</g>
<rect x="62.50" y="4.10" width="159.70" height="157.90" fill="none" stroke="#000" stroke-width="0.6"/>
<rect x="293.80" y="4.10" width="159.70" height="157.90" fill="none" stroke="#000" stroke-width="0.6"/>
<rect x="525.20" y="4.10" width="159.70" height="157.90" fill="none" stroke="#000" stroke-width="0.6"/>
<rect x="62.50" y="201.60" width="159.70" height="157.90" fill="none" stroke="#000" stroke-width="0.6"/>
<rect x="293.80" y="201.60" width="159.70" height="157.90" fill="none" stroke="#000" stroke-width="0.6"/>
<rect x="525.20" y="201.60" width="159.70" height="157.90" fill="none" stroke="#000" stroke-width="0.6"/>
<line x1="69.76" y1="162.00" x2="69.76" y2="164.60" stroke="#000" stroke-width="0.59"/>
<text x="66.71" y="174.90" font-size="10.92" textLength="6.09" lengthAdjust="spacingAndGlyphs">4</text>
<line x1="118.15" y1="162.00" x2="118.15" y2="164.60" stroke="#000" stroke-width="0.59"/>
<text x="114.99" y="174.90" font-size="10.92" textLength="6.31" lengthAdjust="spacingAndGlyphs">6</text>
<line x1="166.55" y1="162.00" x2="166.55" y2="164.60" stroke="#000" stroke-width="0.59"/>
<text x="163.47" y="174.90" font-size="10.92" textLength="6.15" lengthAdjust="spacingAndGlyphs">8</text>
<line x1="214.94" y1="162.00" x2="214.94" y2="164.60" stroke="#000" stroke-width="0.59"/>
<text x="208.67" y="174.90" font-size="10.92" textLength="5.82" lengthAdjust="spacingAndGlyphs">1</text>
<text x="215.20" y="174.90" font-size="10.92" textLength="6.10" lengthAdjust="spacingAndGlyphs">0</text>
<line x1="301.06" y1="162.00" x2="301.06" y2="164.60" stroke="#000" stroke-width="0.59"/>
<text x="298.01" y="174.90" font-size="10.92" textLength="6.09" lengthAdjust="spacingAndGlyphs">4</text>
<line x1="349.45" y1="162.00" x2="349.45" y2="164.60" stroke="#000" stroke-width="0.59"/>
<text x="346.29" y="174.90" font-size="10.92" textLength="6.31" lengthAdjust="spacingAndGlyphs">6</text>
<line x1="397.85" y1="162.00" x2="397.85" y2="164.60" stroke="#000" stroke-width="0.59"/>
<text x="394.77" y="174.90" font-size="10.92" textLength="6.15" lengthAdjust="spacingAndGlyphs">8</text>
<line x1="446.24" y1="162.00" x2="446.24" y2="164.60" stroke="#000" stroke-width="0.59"/>
<text x="439.97" y="174.90" font-size="10.92" textLength="5.82" lengthAdjust="spacingAndGlyphs">1</text>
<text x="446.50" y="174.90" font-size="10.92" textLength="6.10" lengthAdjust="spacingAndGlyphs">0</text>
<line x1="532.46" y1="162.00" x2="532.46" y2="164.60" stroke="#000" stroke-width="0.59"/>
<text x="529.41" y="174.90" font-size="10.92" textLength="6.09" lengthAdjust="spacingAndGlyphs">4</text>
<line x1="580.85" y1="162.00" x2="580.85" y2="164.60" stroke="#000" stroke-width="0.59"/>
<text x="577.69" y="174.90" font-size="10.92" textLength="6.31" lengthAdjust="spacingAndGlyphs">6</text>
<line x1="629.25" y1="162.00" x2="629.25" y2="164.60" stroke="#000" stroke-width="0.59"/>
<text x="626.17" y="174.90" font-size="10.92" textLength="6.15" lengthAdjust="spacingAndGlyphs">8</text>
<line x1="677.64" y1="162.00" x2="677.64" y2="164.60" stroke="#000" stroke-width="0.59"/>
<text x="671.37" y="174.90" font-size="10.92" textLength="5.82" lengthAdjust="spacingAndGlyphs">1</text>
<text x="677.90" y="174.90" font-size="10.92" textLength="6.10" lengthAdjust="spacingAndGlyphs">0</text>
<line x1="532.46" y1="359.50" x2="532.46" y2="362.10" stroke="#000" stroke-width="0.59"/>
<text x="529.41" y="372.40" font-size="10.92" textLength="6.09" lengthAdjust="spacingAndGlyphs">4</text>
<line x1="580.85" y1="359.50" x2="580.85" y2="362.10" stroke="#000" stroke-width="0.59"/>
<text x="577.69" y="372.40" font-size="10.92" textLength="6.31" lengthAdjust="spacingAndGlyphs">6</text>
<line x1="629.25" y1="359.50" x2="629.25" y2="362.10" stroke="#000" stroke-width="0.59"/>
<text x="626.17" y="372.40" font-size="10.92" textLength="6.15" lengthAdjust="spacingAndGlyphs">8</text>
<line x1="677.64" y1="359.50" x2="677.64" y2="362.10" stroke="#000" stroke-width="0.59"/>
<text x="671.37" y="372.40" font-size="10.92" textLength="5.82" lengthAdjust="spacingAndGlyphs">1</text>
<text x="677.90" y="372.40" font-size="10.92" textLength="6.10" lengthAdjust="spacingAndGlyphs">0</text>
<line x1="69.76" y1="359.50" x2="69.76" y2="362.10" stroke="#000" stroke-width="0.59"/>
<text x="51.02" y="372.40" font-size="10.92" textLength="6.09" lengthAdjust="spacingAndGlyphs">4</text>
<text x="59.90" y="372.40" font-size="10.92" textLength="7.68" lengthAdjust="spacingAndGlyphs">×</text>
<text x="70.44" y="372.40" font-size="10.92" textLength="5.82" lengthAdjust="spacingAndGlyphs">1</text>
<text x="76.96" y="372.40" font-size="10.92" textLength="6.10" lengthAdjust="spacingAndGlyphs">0</text>
<text x="83.57" y="368.17" font-size="7.64" textLength="4.27" lengthAdjust="spacingAndGlyphs">0</text>
<line x1="105.12" y1="359.50" x2="105.12" y2="361.00" stroke="#000" stroke-width="0.45"/>
<line x1="134.00" y1="359.50" x2="134.00" y2="362.10" stroke="#000" stroke-width="0.59"/>
<text x="115.15" y="372.40" font-size="10.92" textLength="6.31" lengthAdjust="spacingAndGlyphs">6</text>
<text x="124.14" y="372.40" font-size="10.92" textLength="7.68" lengthAdjust="spacingAndGlyphs">×</text>
<text x="134.69" y="372.40" font-size="10.92" textLength="5.82" lengthAdjust="spacingAndGlyphs">1</text>
<text x="141.20" y="372.40" font-size="10.92" textLength="6.10" lengthAdjust="spacingAndGlyphs">0</text>
<text x="147.82" y="368.17" font-size="7.64" textLength="4.27" lengthAdjust="spacingAndGlyphs">0</text>
<line x1="158.43" y1="359.50" x2="158.43" y2="361.00" stroke="#000" stroke-width="0.45"/>
<line x1="179.58" y1="359.50" x2="179.58" y2="361.00" stroke="#000" stroke-width="0.45"/>
<line x1="198.25" y1="359.50" x2="198.25" y2="361.00" stroke="#000" stroke-width="0.45"/>
<line x1="214.94" y1="359.50" x2="214.94" y2="362.10" stroke="#000" stroke-width="0.59"/>
<text x="205.79" y="372.40" font-size="10.92" textLength="5.82" lengthAdjust="spacingAndGlyphs">1</text>
<text x="212.30" y="372.40" font-size="10.92" textLength="6.10" lengthAdjust="spacingAndGlyphs">0</text>
<text x="218.98" y="368.17" font-size="7.64" textLength="4.08" lengthAdjust="spacingAndGlyphs">1</text>
<line x1="301.06" y1="359.50" x2="301.06" y2="362.10" stroke="#000" stroke-width="0.59"/>
<text x="282.32" y="372.40" font-size="10.92" textLength="6.09" lengthAdjust="spacingAndGlyphs">4</text>
<text x="291.20" y="372.40" font-size="10.92" textLength="7.68" lengthAdjust="spacingAndGlyphs">×</text>
<text x="301.74" y="372.40" font-size="10.92" textLength="5.82" lengthAdjust="spacingAndGlyphs">1</text>
<text x="308.26" y="372.40" font-size="10.92" textLength="6.10" lengthAdjust="spacingAndGlyphs">0</text>
<text x="314.87" y="368.17" font-size="7.64" textLength="4.27" lengthAdjust="spacingAndGlyphs">0</text>
<line x1="336.42" y1="359.50" x2="336.42" y2="361.00" stroke="#000" stroke-width="0.45"/>
<line x1="365.30" y1="359.50" x2="365.30" y2="362.10" stroke="#000" stroke-width="0.59"/>
<text x="346.45" y="372.40" font-size="10.92" textLength="6.31" lengthAdjust="spacingAndGlyphs">6</text>
<text x="355.44" y="372.40" font-size="10.92" textLength="7.68" lengthAdjust="spacingAndGlyphs">×</text>
<text x="365.99" y="372.40" font-size="10.92" textLength="5.82" lengthAdjust="spacingAndGlyphs">1</text>
<text x="372.50" y="372.40" font-size="10.92" textLength="6.10" lengthAdjust="spacingAndGlyphs">0</text>
<text x="379.12" y="368.17" font-size="7.64" textLength="4.27" lengthAdjust="spacingAndGlyphs">0</text>
<line x1="389.73" y1="359.50" x2="389.73" y2="361.00" stroke="#000" stroke-width="0.45"/>
<line x1="410.88" y1="359.50" x2="410.88" y2="361.00" stroke="#000" stroke-width="0.45"/>
<line x1="429.55" y1="359.50" x2="429.55" y2="361.00" stroke="#000" stroke-width="0.45"/>
<line x1="446.24" y1="359.50" x2="446.24" y2="362.10" stroke="#000" stroke-width="0.59"/>
<text x="437.09" y="372.40" font-size="10.92" textLength="5.82" lengthAdjust="spacingAndGlyphs">1</text>
<text x="443.60" y="372.40" font-size="10.92" textLength="6.10" lengthAdjust="spacingAndGlyphs">0</text>
<text x="450.28" y="368.17" font-size="7.64" textLength="4.08" lengthAdjust="spacingAndGlyphs">1</text>
<line x1="61.00" y1="162.15" x2="62.50" y2="162.15" stroke="#000" stroke-width="0.45"/>
<line x1="59.90" y1="150.91" x2="62.50" y2="150.91" stroke="#000" stroke-width="0.59"/>
<text x="13.69" y="154.71" font-size="10.92" textLength="5.76" lengthAdjust="spacingAndGlyphs">5</text>
<text x="22.44" y="154.71" font-size="10.92" textLength="7.68" lengthAdjust="spacingAndGlyphs">×</text>
<text x="32.98" y="154.71" font-size="10.92" textLength="5.82" lengthAdjust="spacingAndGlyphs">1</text>
<text x="39.50" y="154.71" font-size="10.92" textLength="6.10" lengthAdjust="spacingAndGlyphs">0</text>
<text x="46.25" y="150.48" font-size="7.64" textLength="5.48" lengthAdjust="spacingAndGlyphs">−</text>
<text x="52.29" y="150.48" font-size="7.64" textLength="4.10" lengthAdjust="spacingAndGlyphs">3</text>
<line x1="61.00" y1="141.73" x2="62.50" y2="141.73" stroke="#000" stroke-width="0.45"/>
<line x1="61.00" y1="133.96" x2="62.50" y2="133.96" stroke="#000" stroke-width="0.45"/>
<line x1="61.00" y1="127.23" x2="62.50" y2="127.23" stroke="#000" stroke-width="0.45"/>
<line x1="61.00" y1="121.30" x2="62.50" y2="121.30" stroke="#000" stroke-width="0.45"/>
<line x1="59.90" y1="115.99" x2="62.50" y2="115.99" stroke="#000" stroke-width="0.59"/>
<text x="32.65" y="119.79" font-size="10.92" textLength="5.82" lengthAdjust="spacingAndGlyphs">1</text>
<text x="39.16" y="119.79" font-size="10.92" textLength="6.10" lengthAdjust="spacingAndGlyphs">0</text>
<text x="45.91" y="115.56" font-size="7.64" textLength="5.48" lengthAdjust="spacingAndGlyphs">−</text>
<text x="51.84" y="115.56" font-size="7.64" textLength="4.11" lengthAdjust="spacingAndGlyphs">2</text>
<line x1="59.90" y1="81.07" x2="62.50" y2="81.07" stroke="#000" stroke-width="0.59"/>
<text x="13.53" y="84.87" font-size="10.92" textLength="5.87" lengthAdjust="spacingAndGlyphs">2</text>
<text x="22.44" y="84.87" font-size="10.92" textLength="7.68" lengthAdjust="spacingAndGlyphs">×</text>
<text x="32.98" y="84.87" font-size="10.92" textLength="5.82" lengthAdjust="spacingAndGlyphs">1</text>
<text x="39.50" y="84.87" font-size="10.92" textLength="6.10" lengthAdjust="spacingAndGlyphs">0</text>
<text x="46.25" y="80.64" font-size="7.64" textLength="5.48" lengthAdjust="spacingAndGlyphs">−</text>
<text x="52.18" y="80.64" font-size="7.64" textLength="4.11" lengthAdjust="spacingAndGlyphs">2</text>
<line x1="61.00" y1="60.65" x2="62.50" y2="60.65" stroke="#000" stroke-width="0.45"/>
<line x1="61.00" y1="46.15" x2="62.50" y2="46.15" stroke="#000" stroke-width="0.45"/>
<line x1="59.90" y1="34.91" x2="62.50" y2="34.91" stroke="#000" stroke-width="0.59"/>
<text x="13.69" y="38.71" font-size="10.92" textLength="5.76" lengthAdjust="spacingAndGlyphs">5</text>
<text x="22.44" y="38.71" font-size="10.92" textLength="7.68" lengthAdjust="spacingAndGlyphs">×</text>
<text x="32.98" y="38.71" font-size="10.92" textLength="5.82" lengthAdjust="spacingAndGlyphs">1</text>
<text x="39.50" y="38.71" font-size="10.92" textLength="6.10" lengthAdjust="spacingAndGlyphs">0</text>
<text x="46.25" y="34.48" font-size="7.64" textLength="5.48" lengthAdjust="spacingAndGlyphs">−</text>
<text x="52.18" y="34.48" font-size="7.64" textLength="4.11" lengthAdjust="spacingAndGlyphs">2</text>
<line x1="61.00" y1="25.73" x2="62.50" y2="25.73" stroke="#000" stroke-width="0.45"/>
<line x1="61.00" y1="17.96" x2="62.50" y2="17.96" stroke="#000" stroke-width="0.45"/>
<line x1="61.00" y1="11.23" x2="62.50" y2="11.23" stroke="#000" stroke-width="0.45"/>
<line x1="59.90" y1="5.30" x2="62.50" y2="5.30" stroke="#000" stroke-width="0.59"/>
<text x="13.42" y="9.10" font-size="10.92" textLength="6.30" lengthAdjust="spacingAndGlyphs">9</text>
<text x="22.44" y="9.10" font-size="10.92" textLength="7.68" lengthAdjust="spacingAndGlyphs">×</text>
<text x="32.98" y="9.10" font-size="10.92" textLength="5.82" lengthAdjust="spacingAndGlyphs">1</text>
<text x="39.50" y="9.10" font-size="10.92" textLength="6.10" lengthAdjust="spacingAndGlyphs">0</text>
<text x="46.25" y="4.87" font-size="7.64" textLength="5.48" lengthAdjust="spacingAndGlyphs">−</text>
<text x="52.18" y="4.87" font-size="7.64" textLength="4.11" lengthAdjust="spacingAndGlyphs">2</text>
<line x1="291.20" y1="15.15" x2="293.80" y2="15.15" stroke="#000" stroke-width="0.59"/>
<text x="265.70" y="19.55" font-size="10.92" textLength="6.10" lengthAdjust="spacingAndGlyphs">0</text>
<text x="272.16" y="19.55" font-size="10.92" textLength="3.10" lengthAdjust="spacingAndGlyphs">.</text>
<text x="275.71" y="19.55" font-size="10.92" textLength="5.82" lengthAdjust="spacingAndGlyphs">1</text>
<text x="282.37" y="19.55" font-size="10.92" textLength="5.76" lengthAdjust="spacingAndGlyphs">5</text>
<line x1="291.20" y1="42.20" x2="293.80" y2="42.20" stroke="#000" stroke-width="0.59"/>
<text x="265.70" y="46.60" font-size="10.92" textLength="6.10" lengthAdjust="spacingAndGlyphs">0</text>
<text x="272.16" y="46.60" font-size="10.92" textLength="3.10" lengthAdjust="spacingAndGlyphs">.</text>
<text x="275.71" y="46.60" font-size="10.92" textLength="5.82" lengthAdjust="spacingAndGlyphs">1</text>
<text x="282.24" y="46.60" font-size="10.92" textLength="6.10" lengthAdjust="spacingAndGlyphs">0</text>
<line x1="291.20" y1="69.25" x2="293.80" y2="69.25" stroke="#000" stroke-width="0.59"/>
<text x="265.70" y="73.65" font-size="10.92" textLength="6.10" lengthAdjust="spacingAndGlyphs">0</text>
<text x="272.16" y="73.65" font-size="10.92" textLength="3.10" lengthAdjust="spacingAndGlyphs">.</text>
<text x="275.63" y="73.65" font-size="10.92" textLength="6.10" lengthAdjust="spacingAndGlyphs">0</text>
<text x="282.37" y="73.65" font-size="10.92" textLength="5.76" lengthAdjust="spacingAndGlyphs">5</text>
<line x1="291.20" y1="96.30" x2="293.80" y2="96.30" stroke="#000" stroke-width="0.59"/>
<text x="265.70" y="100.70" font-size="10.92" textLength="6.10" lengthAdjust="spacingAndGlyphs">0</text>
<text x="272.16" y="100.70" font-size="10.92" textLength="3.10" lengthAdjust="spacingAndGlyphs">.</text>
<text x="275.63" y="100.70" font-size="10.92" textLength="6.10" lengthAdjust="spacingAndGlyphs">0</text>
<text x="282.24" y="100.70" font-size="10.92" textLength="6.10" lengthAdjust="spacingAndGlyphs">0</text>
<line x1="291.20" y1="123.35" x2="293.80" y2="123.35" stroke="#000" stroke-width="0.59"/>
<text x="257.18" y="127.75" font-size="10.92" textLength="7.82" lengthAdjust="spacingAndGlyphs">−</text>
<text x="265.70" y="127.75" font-size="10.92" textLength="6.10" lengthAdjust="spacingAndGlyphs">0</text>
<text x="272.16" y="127.75" font-size="10.92" textLength="3.10" lengthAdjust="spacingAndGlyphs">.</text>
<text x="275.63" y="127.75" font-size="10.92" textLength="6.10" lengthAdjust="spacingAndGlyphs">0</text>
<text x="282.37" y="127.75" font-size="10.92" textLength="5.76" lengthAdjust="spacingAndGlyphs">5</text>
<line x1="291.20" y1="150.40" x2="293.80" y2="150.40" stroke="#000" stroke-width="0.59"/>
<text x="257.18" y="154.80" font-size="10.92" textLength="7.82" lengthAdjust="spacingAndGlyphs">−</text>
<text x="265.70" y="154.80" font-size="10.92" textLength="6.10" lengthAdjust="spacingAndGlyphs">0</text>
<text x="272.16" y="154.80" font-size="10.92" textLength="3.10" lengthAdjust="spacingAndGlyphs">.</text>
<text x="275.71" y="154.80" font-size="10.92" textLength="5.82" lengthAdjust="spacingAndGlyphs">1</text>
<text x="282.24" y="154.80" font-size="10.92" textLength="6.10" lengthAdjust="spacingAndGlyphs">0</text>
<line x1="522.60" y1="137.75" x2="525.20" y2="137.75" stroke="#000" stroke-width="0.59"/>
<text x="476.31" y="141.55" font-size="10.92" textLength="5.96" lengthAdjust="spacingAndGlyphs">7</text>
<text x="485.14" y="141.55" font-size="10.92" textLength="7.68" lengthAdjust="spacingAndGlyphs">×</text>
<text x="495.68" y="141.55" font-size="10.92" textLength="5.82" lengthAdjust="spacingAndGlyphs">1</text>
<text x="502.20" y="141.55" font-size="10.92" textLength="6.10" lengthAdjust="spacingAndGlyphs">0</text>
<text x="508.95" y="137.32" font-size="7.64" textLength="5.48" lengthAdjust="spacingAndGlyphs">−</text>
<text x="514.96" y="137.32" font-size="7.64" textLength="4.08" lengthAdjust="spacingAndGlyphs">1</text>
<line x1="522.60" y1="74.02" x2="525.20" y2="74.02" stroke="#000" stroke-width="0.59"/>
<text x="476.23" y="77.82" font-size="10.92" textLength="6.15" lengthAdjust="spacingAndGlyphs">8</text>
<text x="485.14" y="77.82" font-size="10.92" textLength="7.68" lengthAdjust="spacingAndGlyphs">×</text>
<text x="495.68" y="77.82" font-size="10.92" textLength="5.82" lengthAdjust="spacingAndGlyphs">1</text>
<text x="502.20" y="77.82" font-size="10.92" textLength="6.10" lengthAdjust="spacingAndGlyphs">0</text>
<text x="508.95" y="73.59" font-size="7.64" textLength="5.48" lengthAdjust="spacingAndGlyphs">−</text>
<text x="514.96" y="73.59" font-size="7.64" textLength="4.08" lengthAdjust="spacingAndGlyphs">1</text>
<line x1="522.60" y1="17.80" x2="525.20" y2="17.80" stroke="#000" stroke-width="0.59"/>
<text x="476.12" y="21.60" font-size="10.92" textLength="6.30" lengthAdjust="spacingAndGlyphs">9</text>
<text x="485.14" y="21.60" font-size="10.92" textLength="7.68" lengthAdjust="spacingAndGlyphs">×</text>
<text x="495.68" y="21.60" font-size="10.92" textLength="5.82" lengthAdjust="spacingAndGlyphs">1</text>
<text x="502.20" y="21.60" font-size="10.92" textLength="6.10" lengthAdjust="spacingAndGlyphs">0</text>
<text x="508.95" y="17.37" font-size="7.64" textLength="5.48" lengthAdjust="spacingAndGlyphs">−</text>
<text x="514.96" y="17.37" font-size="7.64" textLength="4.08" lengthAdjust="spacingAndGlyphs">1</text>
<line x1="59.90" y1="342.67" x2="62.50" y2="342.67" stroke="#000" stroke-width="0.59"/>
<text x="13.53" y="346.47" font-size="10.92" textLength="5.87" lengthAdjust="spacingAndGlyphs">2</text>
<text x="22.44" y="346.47" font-size="10.92" textLength="7.68" lengthAdjust="spacingAndGlyphs">×</text>
<text x="32.98" y="346.47" font-size="10.92" textLength="5.82" lengthAdjust="spacingAndGlyphs">1</text>
<text x="39.50" y="346.47" font-size="10.92" textLength="6.10" lengthAdjust="spacingAndGlyphs">0</text>
<text x="46.25" y="342.24" font-size="7.64" textLength="5.48" lengthAdjust="spacingAndGlyphs">−</text>
<text x="52.18" y="342.24" font-size="7.64" textLength="4.31" lengthAdjust="spacingAndGlyphs">8</text>
<line x1="61.00" y1="327.03" x2="62.50" y2="327.03" stroke="#000" stroke-width="0.45"/>
<line x1="61.00" y1="315.94" x2="62.50" y2="315.94" stroke="#000" stroke-width="0.45"/>
<line x1="59.90" y1="307.33" x2="62.50" y2="307.33" stroke="#000" stroke-width="0.59"/>
<text x="13.69" y="311.13" font-size="10.92" textLength="5.76" lengthAdjust="spacingAndGlyphs">5</text>
<text x="22.44" y="311.13" font-size="10.92" textLength="7.68" lengthAdjust="spacingAndGlyphs">×</text>
<text x="32.98" y="311.13" font-size="10.92" textLength="5.82" lengthAdjust="spacingAndGlyphs">1</text>
<text x="39.50" y="311.13" font-size="10.92" textLength="6.10" lengthAdjust="spacingAndGlyphs">0</text>
<text x="46.25" y="306.90" font-size="7.64" textLength="5.48" lengthAdjust="spacingAndGlyphs">−</text>
<text x="52.18" y="306.90" font-size="7.64" textLength="4.31" lengthAdjust="spacingAndGlyphs">8</text>
<line x1="61.00" y1="300.30" x2="62.50" y2="300.30" stroke="#000" stroke-width="0.45"/>
<line x1="61.00" y1="294.36" x2="62.50" y2="294.36" stroke="#000" stroke-width="0.45"/>
<line x1="61.00" y1="289.21" x2="62.50" y2="289.21" stroke="#000" stroke-width="0.45"/>
<line x1="61.00" y1="284.66" x2="62.50" y2="284.66" stroke="#000" stroke-width="0.45"/>
<line x1="61.00" y1="253.87" x2="62.50" y2="253.87" stroke="#000" stroke-width="0.45"/>
<line x1="61.00" y1="238.23" x2="62.50" y2="238.23" stroke="#000" stroke-width="0.45"/>
<line x1="61.00" y1="227.14" x2="62.50" y2="227.14" stroke="#000" stroke-width="0.45"/>
<line x1="59.90" y1="218.53" x2="62.50" y2="218.53" stroke="#000" stroke-width="0.59"/>
<text x="13.69" y="222.33" font-size="10.92" textLength="5.76" lengthAdjust="spacingAndGlyphs">5</text>
<text x="22.44" y="222.33" font-size="10.92" textLength="7.68" lengthAdjust="spacingAndGlyphs">×</text>
<text x="32.98" y="222.33" font-size="10.92" textLength="5.82" lengthAdjust="spacingAndGlyphs">1</text>
<text x="39.50" y="222.33" font-size="10.92" textLength="6.10" lengthAdjust="spacingAndGlyphs">0</text>
<text x="46.25" y="218.10" font-size="7.64" textLength="5.48" lengthAdjust="spacingAndGlyphs">−</text>
<text x="52.23" y="218.10" font-size="7.64" textLength="4.17" lengthAdjust="spacingAndGlyphs">7</text>
<line x1="61.00" y1="211.50" x2="62.50" y2="211.50" stroke="#000" stroke-width="0.45"/>
<line x1="61.00" y1="205.56" x2="62.50" y2="205.56" stroke="#000" stroke-width="0.45"/>
<line x1="59.90" y1="280.60" x2="62.50" y2="280.60" stroke="#000" stroke-width="0.59"/>
<text x="32.65" y="284.40" font-size="10.92" textLength="5.82" lengthAdjust="spacingAndGlyphs">1</text>
<text x="39.16" y="284.40" font-size="10.92" textLength="6.10" lengthAdjust="spacingAndGlyphs">0</text>
<text x="45.91" y="280.17" font-size="7.64" textLength="5.48" lengthAdjust="spacingAndGlyphs">−</text>
<text x="51.90" y="280.17" font-size="7.64" textLength="4.17" lengthAdjust="spacingAndGlyphs">7</text>
<line x1="292.30" y1="353.17" x2="293.80" y2="353.17" stroke="#000" stroke-width="0.45"/>
<line x1="292.30" y1="347.73" x2="293.80" y2="347.73" stroke="#000" stroke-width="0.45"/>
<line x1="292.30" y1="343.51" x2="293.80" y2="343.51" stroke="#000" stroke-width="0.45"/>
<line x1="292.30" y1="340.06" x2="293.80" y2="340.06" stroke="#000" stroke-width="0.45"/>
<line x1="292.30" y1="337.15" x2="293.80" y2="337.15" stroke="#000" stroke-width="0.45"/>
<line x1="292.30" y1="334.62" x2="293.80" y2="334.62" stroke="#000" stroke-width="0.45"/>
<line x1="292.30" y1="332.39" x2="293.80" y2="332.39" stroke="#000" stroke-width="0.45"/>
<line x1="292.30" y1="317.29" x2="293.80" y2="317.29" stroke="#000" stroke-width="0.45"/>
<line x1="292.30" y1="309.62" x2="293.80" y2="309.62" stroke="#000" stroke-width="0.45"/>
<line x1="292.30" y1="304.18" x2="293.80" y2="304.18" stroke="#000" stroke-width="0.45"/>
<line x1="292.30" y1="299.96" x2="293.80" y2="299.96" stroke="#000" stroke-width="0.45"/>
<line x1="292.30" y1="296.51" x2="293.80" y2="296.51" stroke="#000" stroke-width="0.45"/>
<line x1="292.30" y1="293.60" x2="293.80" y2="293.60" stroke="#000" stroke-width="0.45"/>
<line x1="292.30" y1="291.07" x2="293.80" y2="291.07" stroke="#000" stroke-width="0.45"/>
<line x1="292.30" y1="288.84" x2="293.80" y2="288.84" stroke="#000" stroke-width="0.45"/>
<line x1="292.30" y1="273.74" x2="293.80" y2="273.74" stroke="#000" stroke-width="0.45"/>
<line x1="292.30" y1="266.07" x2="293.80" y2="266.07" stroke="#000" stroke-width="0.45"/>
<line x1="292.30" y1="260.63" x2="293.80" y2="260.63" stroke="#000" stroke-width="0.45"/>
<line x1="292.30" y1="256.41" x2="293.80" y2="256.41" stroke="#000" stroke-width="0.45"/>
<line x1="292.30" y1="252.96" x2="293.80" y2="252.96" stroke="#000" stroke-width="0.45"/>
<line x1="292.30" y1="250.05" x2="293.80" y2="250.05" stroke="#000" stroke-width="0.45"/>
<line x1="292.30" y1="247.52" x2="293.80" y2="247.52" stroke="#000" stroke-width="0.45"/>
<line x1="292.30" y1="245.29" x2="293.80" y2="245.29" stroke="#000" stroke-width="0.45"/>
<line x1="292.30" y1="230.19" x2="293.80" y2="230.19" stroke="#000" stroke-width="0.45"/>
<line x1="292.30" y1="222.52" x2="293.80" y2="222.52" stroke="#000" stroke-width="0.45"/>
<line x1="292.30" y1="217.08" x2="293.80" y2="217.08" stroke="#000" stroke-width="0.45"/>
<line x1="292.30" y1="212.86" x2="293.80" y2="212.86" stroke="#000" stroke-width="0.45"/>
<line x1="292.30" y1="209.41" x2="293.80" y2="209.41" stroke="#000" stroke-width="0.45"/>
<line x1="292.30" y1="206.50" x2="293.80" y2="206.50" stroke="#000" stroke-width="0.45"/>
<line x1="292.30" y1="203.97" x2="293.80" y2="203.97" stroke="#000" stroke-width="0.45"/>
<line x1="291.20" y1="330.40" x2="293.80" y2="330.40" stroke="#000" stroke-width="0.59"/>
<text x="263.95" y="334.20" font-size="10.92" textLength="5.82" lengthAdjust="spacingAndGlyphs">1</text>
<text x="270.46" y="334.20" font-size="10.92" textLength="6.10" lengthAdjust="spacingAndGlyphs">0</text>
<text x="277.21" y="329.97" font-size="7.64" textLength="5.48" lengthAdjust="spacingAndGlyphs">−</text>
<text x="283.25" y="329.97" font-size="7.64" textLength="4.03" lengthAdjust="spacingAndGlyphs">5</text>
<line x1="291.20" y1="286.85" x2="293.80" y2="286.85" stroke="#000" stroke-width="0.59"/>
<text x="263.95" y="290.65" font-size="10.92" textLength="5.82" lengthAdjust="spacingAndGlyphs">1</text>
<text x="270.46" y="290.65" font-size="10.92" textLength="6.10" lengthAdjust="spacingAndGlyphs">0</text>
<text x="277.21" y="286.42" font-size="7.64" textLength="5.48" lengthAdjust="spacingAndGlyphs">−</text>
<text x="283.16" y="286.42" font-size="7.64" textLength="4.27" lengthAdjust="spacingAndGlyphs">4</text>
<line x1="291.20" y1="243.30" x2="293.80" y2="243.30" stroke="#000" stroke-width="0.59"/>
<text x="263.95" y="247.10" font-size="10.92" textLength="5.82" lengthAdjust="spacingAndGlyphs">1</text>
<text x="270.46" y="247.10" font-size="10.92" textLength="6.10" lengthAdjust="spacingAndGlyphs">0</text>
<text x="277.21" y="242.87" font-size="7.64" textLength="5.48" lengthAdjust="spacingAndGlyphs">−</text>
<text x="283.26" y="242.87" font-size="7.64" textLength="4.10" lengthAdjust="spacingAndGlyphs">3</text>
<line x1="522.60" y1="337.71" x2="525.20" y2="337.71" stroke="#000" stroke-width="0.59"/>
<text x="476.23" y="341.51" font-size="10.92" textLength="5.87" lengthAdjust="spacingAndGlyphs">2</text>
<text x="485.14" y="341.51" font-size="10.92" textLength="7.68" lengthAdjust="spacingAndGlyphs">×</text>
<text x="495.68" y="341.51" font-size="10.92" textLength="5.82" lengthAdjust="spacingAndGlyphs">1</text>
<text x="502.20" y="341.51" font-size="10.92" textLength="6.10" lengthAdjust="spacingAndGlyphs">0</text>
<text x="508.95" y="337.28" font-size="7.64" textLength="5.48" lengthAdjust="spacingAndGlyphs">−</text>
<text x="514.99" y="337.28" font-size="7.64" textLength="4.03" lengthAdjust="spacingAndGlyphs">5</text>
<line x1="523.70" y1="322.04" x2="525.20" y2="322.04" stroke="#000" stroke-width="0.45"/>
<line x1="523.70" y1="310.92" x2="525.20" y2="310.92" stroke="#000" stroke-width="0.45"/>
<line x1="522.60" y1="302.29" x2="525.20" y2="302.29" stroke="#000" stroke-width="0.59"/>
<text x="476.39" y="306.09" font-size="10.92" textLength="5.76" lengthAdjust="spacingAndGlyphs">5</text>
<text x="485.14" y="306.09" font-size="10.92" textLength="7.68" lengthAdjust="spacingAndGlyphs">×</text>
<text x="495.68" y="306.09" font-size="10.92" textLength="5.82" lengthAdjust="spacingAndGlyphs">1</text>
<text x="502.20" y="306.09" font-size="10.92" textLength="6.10" lengthAdjust="spacingAndGlyphs">0</text>
<text x="508.95" y="301.86" font-size="7.64" textLength="5.48" lengthAdjust="spacingAndGlyphs">−</text>
<text x="514.99" y="301.86" font-size="7.64" textLength="4.03" lengthAdjust="spacingAndGlyphs">5</text>
<line x1="523.70" y1="295.24" x2="525.20" y2="295.24" stroke="#000" stroke-width="0.45"/>
<line x1="523.70" y1="289.29" x2="525.20" y2="289.29" stroke="#000" stroke-width="0.45"/>
<line x1="523.70" y1="284.12" x2="525.20" y2="284.12" stroke="#000" stroke-width="0.45"/>
<line x1="523.70" y1="279.57" x2="525.20" y2="279.57" stroke="#000" stroke-width="0.45"/>
<line x1="523.70" y1="248.71" x2="525.20" y2="248.71" stroke="#000" stroke-width="0.45"/>
<line x1="523.70" y1="233.04" x2="525.20" y2="233.04" stroke="#000" stroke-width="0.45"/>
<line x1="523.70" y1="221.92" x2="525.20" y2="221.92" stroke="#000" stroke-width="0.45"/>
<line x1="522.60" y1="213.29" x2="525.20" y2="213.29" stroke="#000" stroke-width="0.59"/>
<text x="476.39" y="217.09" font-size="10.92" textLength="5.76" lengthAdjust="spacingAndGlyphs">5</text>
<text x="485.14" y="217.09" font-size="10.92" textLength="7.68" lengthAdjust="spacingAndGlyphs">×</text>
<text x="495.68" y="217.09" font-size="10.92" textLength="5.82" lengthAdjust="spacingAndGlyphs">1</text>
<text x="502.20" y="217.09" font-size="10.92" textLength="6.10" lengthAdjust="spacingAndGlyphs">0</text>
<text x="508.95" y="212.86" font-size="7.64" textLength="5.48" lengthAdjust="spacingAndGlyphs">−</text>
<text x="514.90" y="212.86" font-size="7.64" textLength="4.27" lengthAdjust="spacingAndGlyphs">4</text>
<line x1="523.70" y1="206.24" x2="525.20" y2="206.24" stroke="#000" stroke-width="0.45"/>
<line x1="522.60" y1="275.50" x2="525.20" y2="275.50" stroke="#000" stroke-width="0.59"/>
<text x="495.35" y="279.30" font-size="10.92" textLength="5.82" lengthAdjust="spacingAndGlyphs">1</text>
<text x="501.86" y="279.30" font-size="10.92" textLength="6.10" lengthAdjust="spacingAndGlyphs">0</text>
<text x="508.61" y="275.07" font-size="7.64" textLength="5.48" lengthAdjust="spacingAndGlyphs">−</text>
<text x="514.56" y="275.07" font-size="7.64" textLength="4.27" lengthAdjust="spacingAndGlyphs">4</text>
<text x="101.95" y="188.20" font-size="10.92" textLength="6.29" lengthAdjust="spacingAndGlyphs">d</text>
<text x="108.54" y="188.20" font-size="10.92" textLength="6.24" lengthAdjust="spacingAndGlyphs">e</text>
<text x="114.92" y="188.20" font-size="10.92" textLength="6.29" lengthAdjust="spacingAndGlyphs">g</text>
<text x="121.47" y="188.20" font-size="10.92" textLength="4.43" lengthAdjust="spacingAndGlyphs">r</text>
<text x="125.77" y="188.20" font-size="10.92" textLength="6.24" lengthAdjust="spacingAndGlyphs">e</text>
<text x="132.15" y="188.20" font-size="10.92" textLength="6.24" lengthAdjust="spacingAndGlyphs">e</text>
<text x="141.83" y="188.20" font-size="10.92" font-style="italic" textLength="6.26" lengthAdjust="spacingAndGlyphs">d</text>
<text x="151.97" y="188.20" font-size="10.92" textLength="2.93" lengthAdjust="spacingAndGlyphs">(</text>
<text x="156.41" y="188.20" font-size="10.92" textLength="7.23" lengthAdjust="spacingAndGlyphs">#</text>
<text x="164.45" y="188.20" font-size="10.92" textLength="6.98" lengthAdjust="spacingAndGlyphs">C</text>
<text x="171.71" y="188.20" font-size="10.92" textLength="6.90" lengthAdjust="spacingAndGlyphs">Z</text>
<text x="179.49" y="188.20" font-size="10.92" textLength="2.93" lengthAdjust="spacingAndGlyphs">)</text>
<text x="333.25" y="188.20" font-size="10.92" textLength="6.29" lengthAdjust="spacingAndGlyphs">d</text>
<text x="339.84" y="188.20" font-size="10.92" textLength="6.24" lengthAdjust="spacingAndGlyphs">e</text>
<text x="346.22" y="188.20" font-size="10.92" textLength="6.29" lengthAdjust="spacingAndGlyphs">g</text>
<text x="352.77" y="188.20" font-size="10.92" textLength="4.43" lengthAdjust="spacingAndGlyphs">r</text>
<text x="357.07" y="188.20" font-size="10.92" textLength="6.24" lengthAdjust="spacingAndGlyphs">e</text>
<text x="363.45" y="188.20" font-size="10.92" textLength="6.24" lengthAdjust="spacingAndGlyphs">e</text>
<text x="373.13" y="188.20" font-size="10.92" font-style="italic" textLength="6.26" lengthAdjust="spacingAndGlyphs">d</text>
<text x="383.27" y="188.20" font-size="10.92" textLength="2.93" lengthAdjust="spacingAndGlyphs">(</text>
<text x="387.71" y="188.20" font-size="10.92" textLength="7.23" lengthAdjust="spacingAndGlyphs">#</text>
<text x="395.75" y="188.20" font-size="10.92" textLength="6.98" lengthAdjust="spacingAndGlyphs">C</text>
<text x="403.01" y="188.20" font-size="10.92" textLength="6.90" lengthAdjust="spacingAndGlyphs">Z</text>
<text x="410.79" y="188.20" font-size="10.92" textLength="2.93" lengthAdjust="spacingAndGlyphs">)</text>
<text x="564.65" y="188.20" font-size="10.92" textLength="6.29" lengthAdjust="spacingAndGlyphs">d</text>
<text x="571.24" y="188.20" font-size="10.92" textLength="6.24" lengthAdjust="spacingAndGlyphs">e</text>
<text x="577.62" y="188.20" font-size="10.92" textLength="6.29" lengthAdjust="spacingAndGlyphs">g</text>
<text x="584.17" y="188.20" font-size="10.92" textLength="4.43" lengthAdjust="spacingAndGlyphs">r</text>
<text x="588.47" y="188.20" font-size="10.92" textLength="6.24" lengthAdjust="spacingAndGlyphs">e</text>
<text x="594.85" y="188.20" font-size="10.92" textLength="6.24" lengthAdjust="spacingAndGlyphs">e</text>
<text x="604.53" y="188.20" font-size="10.92" font-style="italic" textLength="6.26" lengthAdjust="spacingAndGlyphs">d</text>
<text x="614.67" y="188.20" font-size="10.92" textLength="2.93" lengthAdjust="spacingAndGlyphs">(</text>
<text x="619.11" y="188.20" font-size="10.92" textLength="7.23" lengthAdjust="spacingAndGlyphs">#</text>
<text x="627.15" y="188.20" font-size="10.92" textLength="6.98" lengthAdjust="spacingAndGlyphs">C</text>
<text x="634.41" y="188.20" font-size="10.92" textLength="6.90" lengthAdjust="spacingAndGlyphs">Z</text>
<text x="642.19" y="188.20" font-size="10.92" textLength="2.93" lengthAdjust="spacingAndGlyphs">)</text>
<text x="101.95" y="385.70" font-size="10.92" textLength="6.29" lengthAdjust="spacingAndGlyphs">d</text>
<text x="108.54" y="385.70" font-size="10.92" textLength="6.24" lengthAdjust="spacingAndGlyphs">e</text>
<text x="114.92" y="385.70" font-size="10.92" textLength="6.29" lengthAdjust="spacingAndGlyphs">g</text>
<text x="121.47" y="385.70" font-size="10.92" textLength="4.43" lengthAdjust="spacingAndGlyphs">r</text>
<text x="125.77" y="385.70" font-size="10.92" textLength="6.24" lengthAdjust="spacingAndGlyphs">e</text>
<text x="132.15" y="385.70" font-size="10.92" textLength="6.24" lengthAdjust="spacingAndGlyphs">e</text>
<text x="141.83" y="385.70" font-size="10.92" font-style="italic" textLength="6.26" lengthAdjust="spacingAndGlyphs">d</text>
<text x="151.97" y="385.70" font-size="10.92" textLength="2.93" lengthAdjust="spacingAndGlyphs">(</text>
<text x="156.41" y="385.70" font-size="10.92" textLength="7.23" lengthAdjust="spacingAndGlyphs">#</text>
<text x="164.45" y="385.70" font-size="10.92" textLength="6.98" lengthAdjust="spacingAndGlyphs">C</text>
<text x="171.71" y="385.70" font-size="10.92" textLength="6.90" lengthAdjust="spacingAndGlyphs">Z</text>
<text x="179.49" y="385.70" font-size="10.92" textLength="2.93" lengthAdjust="spacingAndGlyphs">)</text>
<text x="333.25" y="385.70" font-size="10.92" textLength="6.29" lengthAdjust="spacingAndGlyphs">d</text>
<text x="339.84" y="385.70" font-size="10.92" textLength="6.24" lengthAdjust="spacingAndGlyphs">e</text>
<text x="346.22" y="385.70" font-size="10.92" textLength="6.29" lengthAdjust="spacingAndGlyphs">g</text>
<text x="352.77" y="385.70" font-size="10.92" textLength="4.43" lengthAdjust="spacingAndGlyphs">r</text>
<text x="357.07" y="385.70" font-size="10.92" textLength="6.24" lengthAdjust="spacingAndGlyphs">e</text>
<text x="363.45" y="385.70" font-size="10.92" textLength="6.24" lengthAdjust="spacingAndGlyphs">e</text>
<text x="373.13" y="385.70" font-size="10.92" font-style="italic" textLength="6.26" lengthAdjust="spacingAndGlyphs">d</text>
<text x="383.27" y="385.70" font-size="10.92" textLength="2.93" lengthAdjust="spacingAndGlyphs">(</text>
<text x="387.71" y="385.70" font-size="10.92" textLength="7.23" lengthAdjust="spacingAndGlyphs">#</text>
<text x="395.75" y="385.70" font-size="10.92" textLength="6.98" lengthAdjust="spacingAndGlyphs">C</text>
<text x="403.01" y="385.70" font-size="10.92" textLength="6.90" lengthAdjust="spacingAndGlyphs">Z</text>
<text x="410.79" y="385.70" font-size="10.92" textLength="2.93" lengthAdjust="spacingAndGlyphs">)</text>
<text x="564.65" y="385.70" font-size="10.92" textLength="6.29" lengthAdjust="spacingAndGlyphs">d</text>
<text x="571.24" y="385.70" font-size="10.92" textLength="6.24" lengthAdjust="spacingAndGlyphs">e</text>
<text x="577.62" y="385.70" font-size="10.92" textLength="6.29" lengthAdjust="spacingAndGlyphs">g</text>
<text x="584.17" y="385.70" font-size="10.92" textLength="4.43" lengthAdjust="spacingAndGlyphs">r</text>
<text x="588.47" y="385.70" font-size="10.92" textLength="6.24" lengthAdjust="spacingAndGlyphs">e</text>
<text x="594.85" y="385.70" font-size="10.92" textLength="6.24" lengthAdjust="spacingAndGlyphs">e</text>
<text x="604.53" y="385.70" font-size="10.92" font-style="italic" textLength="6.26" lengthAdjust="spacingAndGlyphs">d</text>
<text x="614.67" y="385.70" font-size="10.92" textLength="2.93" lengthAdjust="spacingAndGlyphs">(</text>
<text x="619.11" y="385.70" font-size="10.92" textLength="7.23" lengthAdjust="spacingAndGlyphs">#</text>
<text x="627.15" y="385.70" font-size="10.92" textLength="6.98" lengthAdjust="spacingAndGlyphs">C</text>
<text x="634.41" y="385.70" font-size="10.92" textLength="6.90" lengthAdjust="spacingAndGlyphs">Z</text>
<text x="642.19" y="385.70" font-size="10.92" textLength="2.93" lengthAdjust="spacingAndGlyphs">)</text>
<g transform="translate(8.30,83.05) rotate(-90)">
<text x="-20.14" y="0.00" font-size="10.92" font-style="italic" textLength="6.20" lengthAdjust="spacingAndGlyphs">θ</text>
<text x="-10.19" y="0.00" font-size="10.92" textLength="9.86" lengthAdjust="spacingAndGlyphs">m</text>
<text x="-0.15" y="0.00" font-size="10.92" textLength="6.24" lengthAdjust="spacingAndGlyphs">e</text>
<text x="6.37" y="0.00" font-size="10.92" textLength="5.20" lengthAdjust="spacingAndGlyphs">a</text>
<text x="12.70" y="0.00" font-size="10.92" textLength="6.23" lengthAdjust="spacingAndGlyphs">n</text>
</g>
<g transform="translate(251.50,83.05) rotate(-90)">
<text x="-19.67" y="0.00" font-size="10.92" font-style="italic" textLength="6.55" lengthAdjust="spacingAndGlyphs">φ</text>
<text x="-9.69" y="0.00" font-size="10.92" textLength="9.86" lengthAdjust="spacingAndGlyphs">m</text>
<text x="0.35" y="0.00" font-size="10.92" textLength="6.24" lengthAdjust="spacingAndGlyphs">e</text>
<text x="6.86" y="0.00" font-size="10.92" textLength="5.20" lengthAdjust="spacingAndGlyphs">a</text>
<text x="13.20" y="0.00" font-size="10.92" textLength="6.23" lengthAdjust="spacingAndGlyphs">n</text>
</g>
<g transform="translate(471.50,83.05) rotate(-90)">
<text x="-19.91" y="0.00" font-size="10.92" font-style="italic" textLength="6.37" lengthAdjust="spacingAndGlyphs">α</text>
<text x="-9.70" y="0.00" font-size="10.92" textLength="9.86" lengthAdjust="spacingAndGlyphs">m</text>
<text x="0.34" y="0.00" font-size="10.92" textLength="6.24" lengthAdjust="spacingAndGlyphs">e</text>
<text x="6.86" y="0.00" font-size="10.92" textLength="5.20" lengthAdjust="spacingAndGlyphs">a</text>
<text x="13.19" y="0.00" font-size="10.92" textLength="6.23" lengthAdjust="spacingAndGlyphs">n</text>
</g>
<g transform="translate(8.40,280.55) rotate(-90)">
<text x="-27.64" y="0.00" font-size="10.92" font-style="italic" textLength="6.20" lengthAdjust="spacingAndGlyphs">θ</text>
<text x="-17.59" y="0.00" font-size="10.92" textLength="5.62" lengthAdjust="spacingAndGlyphs">v</text>
<text x="-11.48" y="0.00" font-size="10.92" textLength="5.20" lengthAdjust="spacingAndGlyphs">a</text>
<text x="-5.29" y="0.00" font-size="10.92" textLength="4.43" lengthAdjust="spacingAndGlyphs">r</text>
<text x="-0.83" y="0.00" font-size="10.92" textLength="2.36" lengthAdjust="spacingAndGlyphs">i</text>
<text x="2.02" y="0.00" font-size="10.92" textLength="5.20" lengthAdjust="spacingAndGlyphs">a</text>
<text x="8.36" y="0.00" font-size="10.92" textLength="6.23" lengthAdjust="spacingAndGlyphs">n</text>
<text x="14.86" y="0.00" font-size="10.92" textLength="5.21" lengthAdjust="spacingAndGlyphs">c</text>
<text x="20.53" y="0.00" font-size="10.92" textLength="6.24" lengthAdjust="spacingAndGlyphs">e</text>
</g>
<g transform="translate(258.70,280.55) rotate(-90)">
<text x="-27.17" y="0.00" font-size="10.92" font-style="italic" textLength="6.55" lengthAdjust="spacingAndGlyphs">φ</text>
<text x="-17.09" y="0.00" font-size="10.92" textLength="5.62" lengthAdjust="spacingAndGlyphs">v</text>
<text x="-10.99" y="0.00" font-size="10.92" textLength="5.20" lengthAdjust="spacingAndGlyphs">a</text>
<text x="-4.79" y="0.00" font-size="10.92" textLength="4.43" lengthAdjust="spacingAndGlyphs">r</text>
<text x="-0.33" y="0.00" font-size="10.92" textLength="2.36" lengthAdjust="spacingAndGlyphs">i</text>
<text x="2.52" y="0.00" font-size="10.92" textLength="5.20" lengthAdjust="spacingAndGlyphs">a</text>
<text x="8.85" y="0.00" font-size="10.92" textLength="6.23" lengthAdjust="spacingAndGlyphs">n</text>
<text x="15.36" y="0.00" font-size="10.92" textLength="5.21" lengthAdjust="spacingAndGlyphs">c</text>
<text x="21.03" y="0.00" font-size="10.92" textLength="6.24" lengthAdjust="spacingAndGlyphs">e</text>
</g>
<g transform="translate(471.40,280.55) rotate(-90)">
<text x="-27.41" y="0.00" font-size="10.92" font-style="italic" textLength="6.37" lengthAdjust="spacingAndGlyphs">α</text>
<text x="-17.10" y="0.00" font-size="10.92" textLength="5.62" lengthAdjust="spacingAndGlyphs">v</text>
<text x="-10.99" y="0.00" font-size="10.92" textLength="5.20" lengthAdjust="spacingAndGlyphs">a</text>
<text x="-4.80" y="0.00" font-size="10.92" textLength="4.43" lengthAdjust="spacingAndGlyphs">r</text>
<text x="-0.34" y="0.00" font-size="10.92" textLength="2.36" lengthAdjust="spacingAndGlyphs">i</text>
<text x="2.51" y="0.00" font-size="10.92" textLength="5.20" lengthAdjust="spacingAndGlyphs">a</text>
<text x="8.85" y="0.00" font-size="10.92" textLength="6.23" lengthAdjust="spacingAndGlyphs">n</text>
<text x="15.35" y="0.00" font-size="10.92" textLength="5.21" lengthAdjust="spacingAndGlyphs">c</text>
<text x="21.02" y="0.00" font-size="10.92" textLength="6.24" lengthAdjust="spacingAndGlyphs">e</text>
</g>
<line x1="365.2" y1="208.8" x2="446.2" y2="237.9" stroke="#000" stroke-width="1.25" stroke-dasharray="3.7 1.8"/>
<text x="410.50" y="222.00" font-size="10.92" font-style="italic" textLength="6.26" lengthAdjust="spacingAndGlyphs">d</text>
<text x="418.04" y="217.77" font-size="7.64" textLength="5.48" lengthAdjust="spacingAndGlyphs">−</text>
<text x="424.09" y="217.77" font-size="7.64" textLength="4.10" lengthAdjust="spacingAndGlyphs">3</text>
<rect x="74.6" y="394.0" width="535.5" height="54.9" rx="2.2" ry="2.2" fill="#fff" fill-opacity="0.8" stroke="#d6d6d6" stroke-width="0.83"/>
<line x1="78.00" y1="401.20" x2="97.00" y2="401.20" stroke="#1f77b4" stroke-width="1.0" stroke-opacity="0.55"/>
<circle cx="87.50" cy="401.20" r="2.23" fill="#1f77b4" stroke="#1f77b4" stroke-width="0.74"/>
<text x="103.61" y="404.20" font-size="9.61" textLength="2.58" lengthAdjust="spacingAndGlyphs">(</text>
<text x="107.21" y="404.20" font-size="9.61" textLength="5.15" lengthAdjust="spacingAndGlyphs">3</text>
<text x="112.19" y="404.20" font-size="9.61" textLength="3.71" lengthAdjust="spacingAndGlyphs">,</text>
<text x="115.73" y="404.20" font-size="9.61" textLength="5.55" lengthAdjust="spacingAndGlyphs">6</text>
<text x="122.11" y="404.20" font-size="9.61" textLength="2.58" lengthAdjust="spacingAndGlyphs">)</text>
<text x="128.10" y="404.20" font-size="9.61" textLength="4.57" lengthAdjust="spacingAndGlyphs">a</text>
<text x="133.69" y="404.20" font-size="9.61" textLength="5.48" lengthAdjust="spacingAndGlyphs">n</text>
<text x="139.39" y="404.20" font-size="9.61" textLength="5.53" lengthAdjust="spacingAndGlyphs">d</text>
<text x="148.33" y="404.20" font-size="9.61" textLength="2.58" lengthAdjust="spacingAndGlyphs">(</text>
<text x="151.94" y="404.20" font-size="9.61" textLength="5.15" lengthAdjust="spacingAndGlyphs">3</text>
<text x="156.92" y="404.20" font-size="9.61" textLength="3.71" lengthAdjust="spacingAndGlyphs">,</text>
<text x="160.59" y="404.20" font-size="9.61" textLength="5.25" lengthAdjust="spacingAndGlyphs">7</text>
<text x="166.83" y="404.20" font-size="9.61" textLength="2.58" lengthAdjust="spacingAndGlyphs">)</text>
<line x1="78.00" y1="414.40" x2="97.00" y2="414.40" stroke="#ff7f0e" stroke-width="1.0" stroke-opacity="0.55"/>
<circle cx="87.50" cy="414.40" r="2.23" fill="#ff7f0e" stroke="#ff7f0e" stroke-width="0.74"/>
<text x="103.61" y="417.40" font-size="9.61" textLength="2.58" lengthAdjust="spacingAndGlyphs">(</text>
<text x="107.21" y="417.40" font-size="9.61" textLength="5.15" lengthAdjust="spacingAndGlyphs">3</text>
<text x="112.19" y="417.40" font-size="9.61" textLength="3.71" lengthAdjust="spacingAndGlyphs">,</text>
<text x="115.73" y="417.40" font-size="9.61" textLength="5.55" lengthAdjust="spacingAndGlyphs">6</text>
<text x="122.11" y="417.40" font-size="9.61" textLength="2.58" lengthAdjust="spacingAndGlyphs">)</text>
<text x="128.10" y="417.40" font-size="9.61" textLength="4.57" lengthAdjust="spacingAndGlyphs">a</text>
<text x="133.69" y="417.40" font-size="9.61" textLength="5.48" lengthAdjust="spacingAndGlyphs">n</text>
<text x="139.39" y="417.40" font-size="9.61" textLength="5.53" lengthAdjust="spacingAndGlyphs">d</text>
<text x="148.33" y="417.40" font-size="9.61" textLength="2.58" lengthAdjust="spacingAndGlyphs">(</text>
<text x="151.82" y="417.40" font-size="9.61" textLength="5.36" lengthAdjust="spacingAndGlyphs">4</text>
<text x="156.92" y="417.40" font-size="9.61" textLength="3.71" lengthAdjust="spacingAndGlyphs">,</text>
<text x="160.45" y="417.40" font-size="9.61" textLength="5.55" lengthAdjust="spacingAndGlyphs">6</text>
<text x="166.83" y="417.40" font-size="9.61" textLength="2.58" lengthAdjust="spacingAndGlyphs">)</text>
<line x1="78.00" y1="427.60" x2="97.00" y2="427.60" stroke="#2ca02c" stroke-width="1.0" stroke-opacity="0.55"/>
<circle cx="87.50" cy="427.60" r="2.23" fill="#2ca02c" stroke="#2ca02c" stroke-width="0.74"/>
<text x="103.61" y="430.60" font-size="9.61" textLength="2.58" lengthAdjust="spacingAndGlyphs">(</text>
<text x="107.21" y="430.60" font-size="9.61" textLength="5.15" lengthAdjust="spacingAndGlyphs">3</text>
<text x="112.19" y="430.60" font-size="9.61" textLength="3.71" lengthAdjust="spacingAndGlyphs">,</text>
<text x="115.87" y="430.60" font-size="9.61" textLength="5.25" lengthAdjust="spacingAndGlyphs">7</text>
<text x="122.11" y="430.60" font-size="9.61" textLength="2.58" lengthAdjust="spacingAndGlyphs">)</text>
<text x="128.10" y="430.60" font-size="9.61" textLength="4.57" lengthAdjust="spacingAndGlyphs">a</text>
<text x="133.69" y="430.60" font-size="9.61" textLength="5.48" lengthAdjust="spacingAndGlyphs">n</text>
<text x="139.39" y="430.60" font-size="9.61" textLength="5.53" lengthAdjust="spacingAndGlyphs">d</text>
<text x="148.33" y="430.60" font-size="9.61" textLength="2.58" lengthAdjust="spacingAndGlyphs">(</text>
<text x="151.82" y="430.60" font-size="9.61" textLength="5.36" lengthAdjust="spacingAndGlyphs">4</text>
<text x="156.92" y="430.60" font-size="9.61" textLength="3.71" lengthAdjust="spacingAndGlyphs">,</text>
<text x="160.59" y="430.60" font-size="9.61" textLength="5.25" lengthAdjust="spacingAndGlyphs">7</text>
<text x="166.83" y="430.60" font-size="9.61" textLength="2.58" lengthAdjust="spacingAndGlyphs">)</text>
<line x1="78.00" y1="440.80" x2="97.00" y2="440.80" stroke="#8c564b" stroke-width="1.0" stroke-opacity="0.55"/>
<circle cx="87.50" cy="440.80" r="2.23" fill="#8c564b" stroke="#8c564b" stroke-width="0.74"/>
<text x="103.61" y="443.80" font-size="9.61" textLength="2.58" lengthAdjust="spacingAndGlyphs">(</text>
<text x="107.10" y="443.80" font-size="9.61" textLength="5.36" lengthAdjust="spacingAndGlyphs">4</text>
<text x="112.19" y="443.80" font-size="9.61" textLength="3.71" lengthAdjust="spacingAndGlyphs">,</text>
<text x="115.94" y="443.80" font-size="9.61" textLength="5.07" lengthAdjust="spacingAndGlyphs">5</text>
<text x="122.11" y="443.80" font-size="9.61" textLength="2.58" lengthAdjust="spacingAndGlyphs">)</text>
<text x="128.10" y="443.80" font-size="9.61" textLength="4.57" lengthAdjust="spacingAndGlyphs">a</text>
<text x="133.69" y="443.80" font-size="9.61" textLength="5.48" lengthAdjust="spacingAndGlyphs">n</text>
<text x="139.39" y="443.80" font-size="9.61" textLength="5.53" lengthAdjust="spacingAndGlyphs">d</text>
<text x="148.33" y="443.80" font-size="9.61" textLength="2.58" lengthAdjust="spacingAndGlyphs">(</text>
<text x="151.82" y="443.80" font-size="9.61" textLength="5.36" lengthAdjust="spacingAndGlyphs">4</text>
<text x="156.92" y="443.80" font-size="9.61" textLength="3.71" lengthAdjust="spacingAndGlyphs">,</text>
<text x="160.45" y="443.80" font-size="9.61" textLength="5.55" lengthAdjust="spacingAndGlyphs">6</text>
<text x="166.83" y="443.80" font-size="9.61" textLength="2.58" lengthAdjust="spacingAndGlyphs">)</text>
<line x1="187.20" y1="401.20" x2="206.20" y2="401.20" stroke="#d62728" stroke-width="1.0" stroke-opacity="0.55"/>
<circle cx="196.70" cy="401.20" r="2.23" fill="#d62728" stroke="#d62728" stroke-width="0.74"/>
<text x="212.81" y="404.20" font-size="9.61" textLength="2.58" lengthAdjust="spacingAndGlyphs">(</text>
<text x="216.30" y="404.20" font-size="9.61" textLength="5.36" lengthAdjust="spacingAndGlyphs">4</text>
<text x="221.39" y="404.20" font-size="9.61" textLength="3.71" lengthAdjust="spacingAndGlyphs">,</text>
<text x="225.07" y="404.20" font-size="9.61" textLength="5.25" lengthAdjust="spacingAndGlyphs">7</text>
<text x="231.31" y="404.20" font-size="9.61" textLength="2.58" lengthAdjust="spacingAndGlyphs">)</text>
<text x="237.30" y="404.20" font-size="9.61" textLength="4.57" lengthAdjust="spacingAndGlyphs">a</text>
<text x="242.89" y="404.20" font-size="9.61" textLength="5.48" lengthAdjust="spacingAndGlyphs">n</text>
<text x="248.59" y="404.20" font-size="9.61" textLength="5.53" lengthAdjust="spacingAndGlyphs">d</text>
<text x="257.53" y="404.20" font-size="9.61" textLength="2.58" lengthAdjust="spacingAndGlyphs">(</text>
<text x="261.13" y="404.20" font-size="9.61" textLength="5.07" lengthAdjust="spacingAndGlyphs">5</text>
<text x="266.12" y="404.20" font-size="9.61" textLength="3.71" lengthAdjust="spacingAndGlyphs">,</text>
<text x="269.79" y="404.20" font-size="9.61" textLength="5.25" lengthAdjust="spacingAndGlyphs">7</text>
<text x="276.03" y="404.20" font-size="9.61" textLength="2.58" lengthAdjust="spacingAndGlyphs">)</text>
<line x1="187.20" y1="414.40" x2="206.20" y2="414.40" stroke="#9467bd" stroke-width="1.0" stroke-opacity="0.55"/>
<circle cx="196.70" cy="414.40" r="2.23" fill="#9467bd" stroke="#9467bd" stroke-width="0.74"/>
<text x="212.81" y="417.40" font-size="9.61" textLength="2.58" lengthAdjust="spacingAndGlyphs">(</text>
<text x="216.41" y="417.40" font-size="9.61" textLength="5.07" lengthAdjust="spacingAndGlyphs">5</text>
<text x="221.39" y="417.40" font-size="9.61" textLength="3.71" lengthAdjust="spacingAndGlyphs">,</text>
<text x="225.07" y="417.40" font-size="9.61" textLength="5.25" lengthAdjust="spacingAndGlyphs">7</text>
<text x="231.31" y="417.40" font-size="9.61" textLength="2.58" lengthAdjust="spacingAndGlyphs">)</text>
<text x="237.30" y="417.40" font-size="9.61" textLength="4.57" lengthAdjust="spacingAndGlyphs">a</text>
<text x="242.89" y="417.40" font-size="9.61" textLength="5.48" lengthAdjust="spacingAndGlyphs">n</text>
<text x="248.59" y="417.40" font-size="9.61" textLength="5.53" lengthAdjust="spacingAndGlyphs">d</text>
<text x="257.53" y="417.40" font-size="9.61" textLength="2.58" lengthAdjust="spacingAndGlyphs">(</text>
<text x="260.92" y="417.40" font-size="9.61" textLength="5.55" lengthAdjust="spacingAndGlyphs">6</text>
<text x="266.12" y="417.40" font-size="9.61" textLength="3.71" lengthAdjust="spacingAndGlyphs">,</text>
<text x="269.79" y="417.40" font-size="9.61" textLength="5.25" lengthAdjust="spacingAndGlyphs">7</text>
<text x="276.03" y="417.40" font-size="9.61" textLength="2.58" lengthAdjust="spacingAndGlyphs">)</text>
<line x1="187.20" y1="427.60" x2="206.20" y2="427.60" stroke="#e377c2" stroke-width="1.0" stroke-opacity="0.55"/>
<circle cx="196.70" cy="427.60" r="2.23" fill="#e377c2" stroke="#e377c2" stroke-width="0.74"/>
<text x="212.81" y="430.60" font-size="9.61" textLength="2.58" lengthAdjust="spacingAndGlyphs">(</text>
<text x="216.41" y="430.60" font-size="9.61" textLength="5.07" lengthAdjust="spacingAndGlyphs">5</text>
<text x="221.39" y="430.60" font-size="9.61" textLength="3.71" lengthAdjust="spacingAndGlyphs">,</text>
<text x="225.07" y="430.60" font-size="9.61" textLength="5.25" lengthAdjust="spacingAndGlyphs">7</text>
<text x="231.31" y="430.60" font-size="9.61" textLength="2.58" lengthAdjust="spacingAndGlyphs">)</text>
<text x="237.30" y="430.60" font-size="9.61" textLength="4.57" lengthAdjust="spacingAndGlyphs">a</text>
<text x="242.89" y="430.60" font-size="9.61" textLength="5.48" lengthAdjust="spacingAndGlyphs">n</text>
<text x="248.59" y="430.60" font-size="9.61" textLength="5.53" lengthAdjust="spacingAndGlyphs">d</text>
<text x="257.53" y="430.60" font-size="9.61" textLength="2.58" lengthAdjust="spacingAndGlyphs">(</text>
<text x="261.13" y="430.60" font-size="9.61" textLength="5.07" lengthAdjust="spacingAndGlyphs">5</text>
<text x="266.12" y="430.60" font-size="9.61" textLength="3.71" lengthAdjust="spacingAndGlyphs">,</text>
<text x="269.73" y="430.60" font-size="9.61" textLength="5.41" lengthAdjust="spacingAndGlyphs">8</text>
<text x="276.03" y="430.60" font-size="9.61" textLength="2.58" lengthAdjust="spacingAndGlyphs">)</text>
<line x1="187.20" y1="440.80" x2="206.20" y2="440.80" stroke="#7f7f7f" stroke-width="1.0" stroke-opacity="0.55"/>
<circle cx="196.70" cy="440.80" r="2.23" fill="#7f7f7f" stroke="#7f7f7f" stroke-width="0.74"/>
<text x="212.81" y="443.80" font-size="9.61" textLength="2.58" lengthAdjust="spacingAndGlyphs">(</text>
<text x="216.41" y="443.80" font-size="9.61" textLength="5.07" lengthAdjust="spacingAndGlyphs">5</text>
<text x="221.39" y="443.80" font-size="9.61" textLength="3.71" lengthAdjust="spacingAndGlyphs">,</text>
<text x="224.93" y="443.80" font-size="9.61" textLength="5.55" lengthAdjust="spacingAndGlyphs">6</text>
<text x="231.31" y="443.80" font-size="9.61" textLength="2.58" lengthAdjust="spacingAndGlyphs">)</text>
<text x="237.30" y="443.80" font-size="9.61" textLength="4.57" lengthAdjust="spacingAndGlyphs">a</text>
<text x="242.89" y="443.80" font-size="9.61" textLength="5.48" lengthAdjust="spacingAndGlyphs">n</text>
<text x="248.59" y="443.80" font-size="9.61" textLength="5.53" lengthAdjust="spacingAndGlyphs">d</text>
<text x="257.53" y="443.80" font-size="9.61" textLength="2.58" lengthAdjust="spacingAndGlyphs">(</text>
<text x="260.92" y="443.80" font-size="9.61" textLength="5.55" lengthAdjust="spacingAndGlyphs">6</text>
<text x="266.12" y="443.80" font-size="9.61" textLength="3.71" lengthAdjust="spacingAndGlyphs">,</text>
<text x="269.65" y="443.80" font-size="9.61" textLength="5.55" lengthAdjust="spacingAndGlyphs">6</text>
<text x="276.03" y="443.80" font-size="9.61" textLength="2.58" lengthAdjust="spacingAndGlyphs">)</text>
<line x1="296.40" y1="401.20" x2="315.40" y2="401.20" stroke="#1f77b4" stroke-width="1.0" stroke-opacity="0.55"/>
<path d="M305.90 398.97L308.13 403.43L303.67 403.43Z" fill="#1f77b4" stroke="#1f77b4" stroke-width="0.74" stroke-linejoin="miter"/>
<text x="322.01" y="404.20" font-size="9.61" textLength="2.58" lengthAdjust="spacingAndGlyphs">(</text>
<text x="325.61" y="404.20" font-size="9.61" textLength="5.07" lengthAdjust="spacingAndGlyphs">5</text>
<text x="330.59" y="404.20" font-size="9.61" textLength="3.71" lengthAdjust="spacingAndGlyphs">,</text>
<text x="334.13" y="404.20" font-size="9.61" textLength="5.55" lengthAdjust="spacingAndGlyphs">6</text>
<text x="340.51" y="404.20" font-size="9.61" textLength="2.58" lengthAdjust="spacingAndGlyphs">)</text>
<text x="346.50" y="404.20" font-size="9.61" textLength="4.57" lengthAdjust="spacingAndGlyphs">a</text>
<text x="352.09" y="404.20" font-size="9.61" textLength="5.48" lengthAdjust="spacingAndGlyphs">n</text>
<text x="357.79" y="404.20" font-size="9.61" textLength="5.53" lengthAdjust="spacingAndGlyphs">d</text>
<text x="366.73" y="404.20" font-size="9.61" textLength="2.58" lengthAdjust="spacingAndGlyphs">(</text>
<text x="370.33" y="404.20" font-size="9.61" textLength="5.07" lengthAdjust="spacingAndGlyphs">5</text>
<text x="375.32" y="404.20" font-size="9.61" textLength="3.71" lengthAdjust="spacingAndGlyphs">,</text>
<text x="378.99" y="404.20" font-size="9.61" textLength="5.25" lengthAdjust="spacingAndGlyphs">7</text>
<text x="385.23" y="404.20" font-size="9.61" textLength="2.58" lengthAdjust="spacingAndGlyphs">)</text>
<line x1="296.40" y1="414.40" x2="315.40" y2="414.40" stroke="#ff7f0e" stroke-width="1.0" stroke-opacity="0.55"/>
<path d="M305.90 412.17L308.13 416.63L303.67 416.63Z" fill="#ff7f0e" stroke="#ff7f0e" stroke-width="0.74" stroke-linejoin="miter"/>
<text x="322.01" y="417.40" font-size="9.61" textLength="2.58" lengthAdjust="spacingAndGlyphs">(</text>
<text x="325.50" y="417.40" font-size="9.61" textLength="5.36" lengthAdjust="spacingAndGlyphs">4</text>
<text x="330.59" y="417.40" font-size="9.61" textLength="3.71" lengthAdjust="spacingAndGlyphs">,</text>
<text x="334.20" y="417.40" font-size="9.61" textLength="5.41" lengthAdjust="spacingAndGlyphs">8</text>
<text x="340.51" y="417.40" font-size="9.61" textLength="2.58" lengthAdjust="spacingAndGlyphs">)</text>
<text x="346.50" y="417.40" font-size="9.61" textLength="4.57" lengthAdjust="spacingAndGlyphs">a</text>
<text x="352.09" y="417.40" font-size="9.61" textLength="5.48" lengthAdjust="spacingAndGlyphs">n</text>
<text x="357.79" y="417.40" font-size="9.61" textLength="5.53" lengthAdjust="spacingAndGlyphs">d</text>
<text x="366.73" y="417.40" font-size="9.61" textLength="2.58" lengthAdjust="spacingAndGlyphs">(</text>
<text x="370.33" y="417.40" font-size="9.61" textLength="5.07" lengthAdjust="spacingAndGlyphs">5</text>
<text x="375.32" y="417.40" font-size="9.61" textLength="3.71" lengthAdjust="spacingAndGlyphs">,</text>
<text x="378.93" y="417.40" font-size="9.61" textLength="5.41" lengthAdjust="spacingAndGlyphs">8</text>
<text x="385.23" y="417.40" font-size="9.61" textLength="2.58" lengthAdjust="spacingAndGlyphs">)</text>
<line x1="296.40" y1="427.60" x2="315.40" y2="427.60" stroke="#2ca02c" stroke-width="1.0" stroke-opacity="0.55"/>
<path d="M305.90 425.37L308.13 429.83L303.67 429.83Z" fill="#2ca02c" stroke="#2ca02c" stroke-width="0.74" stroke-linejoin="miter"/>
<text x="322.01" y="430.60" font-size="9.61" textLength="2.58" lengthAdjust="spacingAndGlyphs">(</text>
<text x="325.61" y="430.60" font-size="9.61" textLength="5.07" lengthAdjust="spacingAndGlyphs">5</text>
<text x="330.59" y="430.60" font-size="9.61" textLength="3.71" lengthAdjust="spacingAndGlyphs">,</text>
<text x="334.20" y="430.60" font-size="9.61" textLength="5.41" lengthAdjust="spacingAndGlyphs">8</text>
<text x="340.51" y="430.60" font-size="9.61" textLength="2.58" lengthAdjust="spacingAndGlyphs">)</text>
<text x="346.50" y="430.60" font-size="9.61" textLength="4.57" lengthAdjust="spacingAndGlyphs">a</text>
<text x="352.09" y="430.60" font-size="9.61" textLength="5.48" lengthAdjust="spacingAndGlyphs">n</text>
<text x="357.79" y="430.60" font-size="9.61" textLength="5.53" lengthAdjust="spacingAndGlyphs">d</text>
<text x="366.73" y="430.60" font-size="9.61" textLength="2.58" lengthAdjust="spacingAndGlyphs">(</text>
<text x="370.33" y="430.60" font-size="9.61" textLength="5.07" lengthAdjust="spacingAndGlyphs">5</text>
<text x="375.32" y="430.60" font-size="9.61" textLength="3.71" lengthAdjust="spacingAndGlyphs">,</text>
<text x="378.83" y="430.60" font-size="9.61" textLength="5.54" lengthAdjust="spacingAndGlyphs">9</text>
<text x="385.23" y="430.60" font-size="9.61" textLength="2.58" lengthAdjust="spacingAndGlyphs">)</text>
<line x1="405.70" y1="401.20" x2="424.70" y2="401.20" stroke="#8c564b" stroke-width="1.0" stroke-opacity="0.55"/>
<path d="M415.20 398.97L417.43 403.43L412.97 403.43Z" fill="#8c564b" stroke="#8c564b" stroke-width="0.74" stroke-linejoin="miter"/>
<text x="431.31" y="404.20" font-size="9.61" textLength="2.58" lengthAdjust="spacingAndGlyphs">(</text>
<text x="434.91" y="404.20" font-size="9.61" textLength="5.07" lengthAdjust="spacingAndGlyphs">5</text>
<text x="439.89" y="404.20" font-size="9.61" textLength="3.71" lengthAdjust="spacingAndGlyphs">,</text>
<text x="443.50" y="404.20" font-size="9.61" textLength="5.41" lengthAdjust="spacingAndGlyphs">8</text>
<text x="449.81" y="404.20" font-size="9.61" textLength="2.58" lengthAdjust="spacingAndGlyphs">)</text>
<text x="455.80" y="404.20" font-size="9.61" textLength="4.57" lengthAdjust="spacingAndGlyphs">a</text>
<text x="461.39" y="404.20" font-size="9.61" textLength="5.48" lengthAdjust="spacingAndGlyphs">n</text>
<text x="467.09" y="404.20" font-size="9.61" textLength="5.53" lengthAdjust="spacingAndGlyphs">d</text>
<text x="476.03" y="404.20" font-size="9.61" textLength="2.58" lengthAdjust="spacingAndGlyphs">(</text>
<text x="479.42" y="404.20" font-size="9.61" textLength="5.55" lengthAdjust="spacingAndGlyphs">6</text>
<text x="484.62" y="404.20" font-size="9.61" textLength="3.71" lengthAdjust="spacingAndGlyphs">,</text>
<text x="488.23" y="404.20" font-size="9.61" textLength="5.41" lengthAdjust="spacingAndGlyphs">8</text>
<text x="494.53" y="404.20" font-size="9.61" textLength="2.58" lengthAdjust="spacingAndGlyphs">)</text>
<line x1="405.70" y1="414.40" x2="424.70" y2="414.40" stroke="#d62728" stroke-width="1.0" stroke-opacity="0.55"/>
<path d="M415.20 412.17L417.43 416.63L412.97 416.63Z" fill="#d62728" stroke="#d62728" stroke-width="0.74" stroke-linejoin="miter"/>
<text x="431.31" y="417.40" font-size="9.61" textLength="2.58" lengthAdjust="spacingAndGlyphs">(</text>
<text x="434.70" y="417.40" font-size="9.61" textLength="5.55" lengthAdjust="spacingAndGlyphs">6</text>
<text x="439.89" y="417.40" font-size="9.61" textLength="3.71" lengthAdjust="spacingAndGlyphs">,</text>
<text x="443.43" y="417.40" font-size="9.61" textLength="5.55" lengthAdjust="spacingAndGlyphs">6</text>
<text x="449.81" y="417.40" font-size="9.61" textLength="2.58" lengthAdjust="spacingAndGlyphs">)</text>
<text x="455.80" y="417.40" font-size="9.61" textLength="4.57" lengthAdjust="spacingAndGlyphs">a</text>
<text x="461.39" y="417.40" font-size="9.61" textLength="5.48" lengthAdjust="spacingAndGlyphs">n</text>
<text x="467.09" y="417.40" font-size="9.61" textLength="5.53" lengthAdjust="spacingAndGlyphs">d</text>
<text x="476.03" y="417.40" font-size="9.61" textLength="2.58" lengthAdjust="spacingAndGlyphs">(</text>
<text x="479.56" y="417.40" font-size="9.61" textLength="5.25" lengthAdjust="spacingAndGlyphs">7</text>
<text x="484.62" y="417.40" font-size="9.61" textLength="3.71" lengthAdjust="spacingAndGlyphs">,</text>
<text x="488.15" y="417.40" font-size="9.61" textLength="5.55" lengthAdjust="spacingAndGlyphs">6</text>
<text x="494.53" y="417.40" font-size="9.61" textLength="2.58" lengthAdjust="spacingAndGlyphs">)</text>
<line x1="405.70" y1="427.60" x2="424.70" y2="427.60" stroke="#9467bd" stroke-width="1.0" stroke-opacity="0.55"/>
<path d="M415.20 425.37L417.43 429.83L412.97 429.83Z" fill="#9467bd" stroke="#9467bd" stroke-width="0.74" stroke-linejoin="miter"/>
<text x="431.31" y="430.60" font-size="9.61" textLength="2.58" lengthAdjust="spacingAndGlyphs">(</text>
<text x="434.70" y="430.60" font-size="9.61" textLength="5.55" lengthAdjust="spacingAndGlyphs">6</text>
<text x="439.89" y="430.60" font-size="9.61" textLength="3.71" lengthAdjust="spacingAndGlyphs">,</text>
<text x="443.50" y="430.60" font-size="9.61" textLength="5.41" lengthAdjust="spacingAndGlyphs">8</text>
<text x="449.81" y="430.60" font-size="9.61" textLength="2.58" lengthAdjust="spacingAndGlyphs">)</text>
<text x="455.80" y="430.60" font-size="9.61" textLength="4.57" lengthAdjust="spacingAndGlyphs">a</text>
<text x="461.39" y="430.60" font-size="9.61" textLength="5.48" lengthAdjust="spacingAndGlyphs">n</text>
<text x="467.09" y="430.60" font-size="9.61" textLength="5.53" lengthAdjust="spacingAndGlyphs">d</text>
<text x="476.03" y="430.60" font-size="9.61" textLength="2.58" lengthAdjust="spacingAndGlyphs">(</text>
<text x="479.56" y="430.60" font-size="9.61" textLength="5.25" lengthAdjust="spacingAndGlyphs">7</text>
<text x="484.62" y="430.60" font-size="9.61" textLength="3.71" lengthAdjust="spacingAndGlyphs">,</text>
<text x="488.23" y="430.60" font-size="9.61" textLength="5.41" lengthAdjust="spacingAndGlyphs">8</text>
<text x="494.53" y="430.60" font-size="9.61" textLength="2.58" lengthAdjust="spacingAndGlyphs">)</text>
<line x1="515.00" y1="401.20" x2="534.00" y2="401.20" stroke="#e377c2" stroke-width="1.0" stroke-opacity="0.55"/>
<path d="M524.50 398.97L526.73 403.43L522.27 403.43Z" fill="#e377c2" stroke="#e377c2" stroke-width="0.74" stroke-linejoin="miter"/>
<text x="540.61" y="404.20" font-size="9.61" textLength="2.58" lengthAdjust="spacingAndGlyphs">(</text>
<text x="544.14" y="404.20" font-size="9.61" textLength="5.25" lengthAdjust="spacingAndGlyphs">7</text>
<text x="549.19" y="404.20" font-size="9.61" textLength="3.71" lengthAdjust="spacingAndGlyphs">,</text>
<text x="552.94" y="404.20" font-size="9.61" textLength="5.07" lengthAdjust="spacingAndGlyphs">5</text>
<text x="559.11" y="404.20" font-size="9.61" textLength="2.58" lengthAdjust="spacingAndGlyphs">)</text>
<text x="565.10" y="404.20" font-size="9.61" textLength="4.57" lengthAdjust="spacingAndGlyphs">a</text>
<text x="570.69" y="404.20" font-size="9.61" textLength="5.48" lengthAdjust="spacingAndGlyphs">n</text>
<text x="576.39" y="404.20" font-size="9.61" textLength="5.53" lengthAdjust="spacingAndGlyphs">d</text>
<text x="585.33" y="404.20" font-size="9.61" textLength="2.58" lengthAdjust="spacingAndGlyphs">(</text>
<text x="588.86" y="404.20" font-size="9.61" textLength="5.25" lengthAdjust="spacingAndGlyphs">7</text>
<text x="593.92" y="404.20" font-size="9.61" textLength="3.71" lengthAdjust="spacingAndGlyphs">,</text>
<text x="597.45" y="404.20" font-size="9.61" textLength="5.55" lengthAdjust="spacingAndGlyphs">6</text>
<text x="603.83" y="404.20" font-size="9.61" textLength="2.58" lengthAdjust="spacingAndGlyphs">)</text>
<line x1="515.00" y1="414.40" x2="534.00" y2="414.40" stroke="#7f7f7f" stroke-width="1.0" stroke-opacity="0.55"/>
<path d="M524.50 412.17L526.73 416.63L522.27 416.63Z" fill="#7f7f7f" stroke="#7f7f7f" stroke-width="0.74" stroke-linejoin="miter"/>
<text x="540.61" y="417.40" font-size="9.61" textLength="2.58" lengthAdjust="spacingAndGlyphs">(</text>
<text x="544.14" y="417.40" font-size="9.61" textLength="5.25" lengthAdjust="spacingAndGlyphs">7</text>
<text x="549.19" y="417.40" font-size="9.61" textLength="3.71" lengthAdjust="spacingAndGlyphs">,</text>
<text x="552.73" y="417.40" font-size="9.61" textLength="5.55" lengthAdjust="spacingAndGlyphs">6</text>
<text x="559.11" y="417.40" font-size="9.61" textLength="2.58" lengthAdjust="spacingAndGlyphs">)</text>
<text x="565.10" y="417.40" font-size="9.61" textLength="4.57" lengthAdjust="spacingAndGlyphs">a</text>
<text x="570.69" y="417.40" font-size="9.61" textLength="5.48" lengthAdjust="spacingAndGlyphs">n</text>
<text x="576.39" y="417.40" font-size="9.61" textLength="5.53" lengthAdjust="spacingAndGlyphs">d</text>
<text x="585.33" y="417.40" font-size="9.61" textLength="2.58" lengthAdjust="spacingAndGlyphs">(</text>
<text x="588.86" y="417.40" font-size="9.61" textLength="5.25" lengthAdjust="spacingAndGlyphs">7</text>
<text x="593.92" y="417.40" font-size="9.61" textLength="3.71" lengthAdjust="spacingAndGlyphs">,</text>
<text x="597.59" y="417.40" font-size="9.61" textLength="5.25" lengthAdjust="spacingAndGlyphs">7</text>
<text x="603.83" y="417.40" font-size="9.61" textLength="2.58" lengthAdjust="spacingAndGlyphs">)</text>
<line x1="515.00" y1="427.60" x2="534.00" y2="427.60" stroke="#1f77b4" stroke-width="1.0" stroke-opacity="0.55"/>
<path d="M522.27 425.37L526.73 429.83M522.27 429.83L526.73 425.37" stroke="#1f77b4" stroke-width="0.9" fill="none"/>
<text x="540.61" y="430.60" font-size="9.61" textLength="2.58" lengthAdjust="spacingAndGlyphs">(</text>
<text x="544.14" y="430.60" font-size="9.61" textLength="5.25" lengthAdjust="spacingAndGlyphs">7</text>
<text x="549.19" y="430.60" font-size="9.61" textLength="3.71" lengthAdjust="spacingAndGlyphs">,</text>
<text x="552.87" y="430.60" font-size="9.61" textLength="5.25" lengthAdjust="spacingAndGlyphs">7</text>
<text x="559.11" y="430.60" font-size="9.61" textLength="2.58" lengthAdjust="spacingAndGlyphs">)</text>
<text x="565.10" y="430.60" font-size="9.61" textLength="4.57" lengthAdjust="spacingAndGlyphs">a</text>
<text x="570.69" y="430.60" font-size="9.61" textLength="5.48" lengthAdjust="spacingAndGlyphs">n</text>
<text x="576.39" y="430.60" font-size="9.61" textLength="5.53" lengthAdjust="spacingAndGlyphs">d</text>
<text x="585.33" y="430.60" font-size="9.61" textLength="2.58" lengthAdjust="spacingAndGlyphs">(</text>
<text x="588.86" y="430.60" font-size="9.61" textLength="5.25" lengthAdjust="spacingAndGlyphs">7</text>
<text x="593.92" y="430.60" font-size="9.61" textLength="3.71" lengthAdjust="spacingAndGlyphs">,</text>
<text x="597.53" y="430.60" font-size="9.61" textLength="5.41" lengthAdjust="spacingAndGlyphs">8</text>
<text x="603.83" y="430.60" font-size="9.61" textLength="2.58" lengthAdjust="spacingAndGlyphs">)</text>
</svg></body></html>
